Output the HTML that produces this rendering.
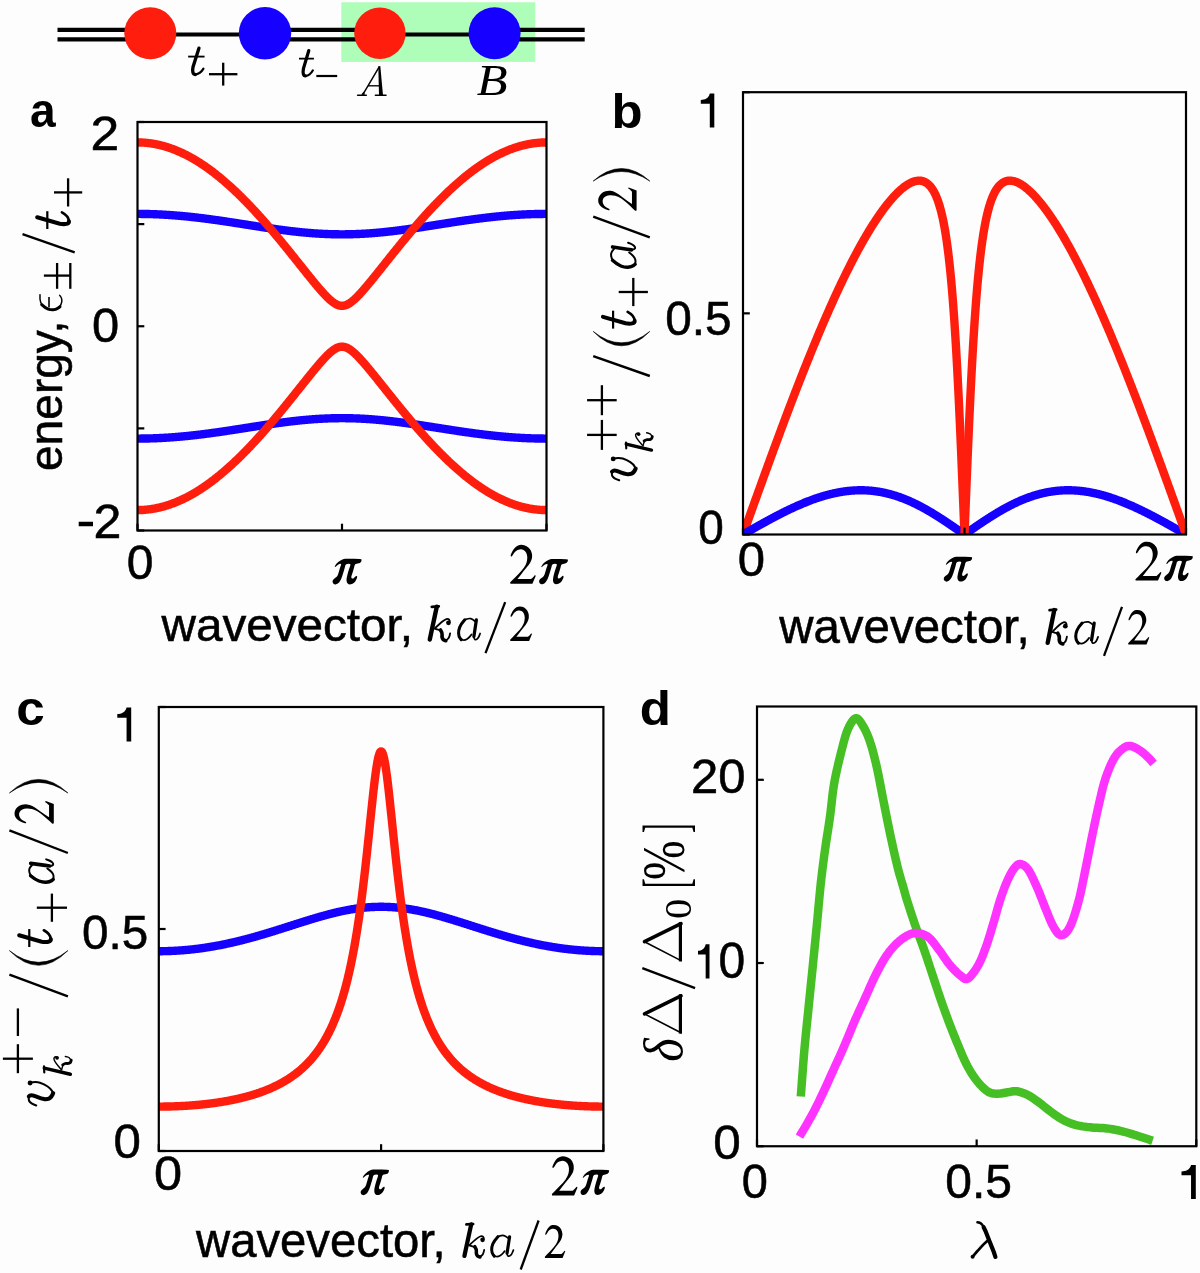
<!DOCTYPE html>
<html><head><meta charset="utf-8"><style>
html,body{margin:0;padding:0;background:#fdfdfd;}
svg{display:block;}
text{fill:#000;}
svg{will-change:transform;}
</style></head><body>
<svg width="1200" height="1273" viewBox="0 0 1200 1273">
<rect width="1200" height="1273" fill="#fdfdfd"/>
<defs>
<clipPath id="clipa"><rect x="137.5" y="122.0" width="409.0" height="408.5"/></clipPath>
<clipPath id="clipb"><rect x="743.0" y="92.2" width="443.0" height="442.3"/></clipPath>
<clipPath id="clipc"><rect x="158.8" y="707.0" width="444.59999999999997" height="444.0"/></clipPath>
<clipPath id="clipd"><rect x="757.0" y="706.5" width="439.29999999999995" height="439.75"/></clipPath>
</defs>
<path d="M137.50,213.91 L138.07,213.91 L138.64,213.91 L139.20,213.92 L139.77,213.92 L140.34,213.92 L140.91,213.93 L141.48,213.93 L142.04,213.94 L142.61,213.94 L143.18,213.95 L143.75,213.96 L144.32,213.96 L144.88,213.97 L145.45,213.98 L146.02,213.99 L146.59,214.00 L147.16,214.01 L147.72,214.03 L148.29,214.04 L148.86,214.05 L149.43,214.07 L150.00,214.08 L150.57,214.10 L151.13,214.12 L151.70,214.13 L152.27,214.15 L152.84,214.17 L153.41,214.19 L153.97,214.21 L154.54,214.23 L155.11,214.25 L155.68,214.27 L156.25,214.30 L156.81,214.32 L157.38,214.34 L157.95,214.37 L158.52,214.39 L159.09,214.42 L159.65,214.45 L160.22,214.47 L160.79,214.50 L161.36,214.53 L161.93,214.56 L162.49,214.59 L163.06,214.62 L163.63,214.65 L164.20,214.69 L164.77,214.72 L165.33,214.75 L165.90,214.79 L166.47,214.82 L167.04,214.86 L167.61,214.89 L168.18,214.93 L168.74,214.97 L169.31,215.00 L169.88,215.04 L170.45,215.08 L171.02,215.12 L171.58,215.16 L172.15,215.20 L172.72,215.25 L173.29,215.29 L173.86,215.33 L174.42,215.38 L174.99,215.42 L175.56,215.47 L176.13,215.51 L176.70,215.56 L177.26,215.60 L177.83,215.65 L178.40,215.70 L178.97,215.75 L179.54,215.80 L180.10,215.85 L180.67,215.90 L181.24,215.95 L181.81,216.00 L182.38,216.05 L182.94,216.11 L183.51,216.16 L184.08,216.21 L184.65,216.27 L185.22,216.32 L185.78,216.38 L186.35,216.43 L186.92,216.49 L187.49,216.55 L188.06,216.61 L188.62,216.67 L189.19,216.72 L189.76,216.78 L190.33,216.84 L190.90,216.90 L191.47,216.97 L192.03,217.03 L192.60,217.09 L193.17,217.15 L193.74,217.22 L194.31,217.28 L194.87,217.34 L195.44,217.41 L196.01,217.47 L196.58,217.54 L197.15,217.61 L197.71,217.67 L198.28,217.74 L198.85,217.81 L199.42,217.88 L199.99,217.94 L200.55,218.01 L201.12,218.08 L201.69,218.15 L202.26,218.22 L202.83,218.29 L203.39,218.37 L203.96,218.44 L204.53,218.51 L205.10,218.58 L205.67,218.65 L206.23,218.73 L206.80,218.80 L207.37,218.88 L207.94,218.95 L208.51,219.03 L209.07,219.10 L209.64,219.18 L210.21,219.25 L210.78,219.33 L211.35,219.41 L211.92,219.48 L212.48,219.56 L213.05,219.64 L213.62,219.72 L214.19,219.80 L214.76,219.88 L215.32,219.96 L215.89,220.04 L216.46,220.12 L217.03,220.20 L217.60,220.28 L218.16,220.36 L218.73,220.44 L219.30,220.52 L219.87,220.60 L220.44,220.69 L221.00,220.77 L221.57,220.85 L222.14,220.94 L222.71,221.02 L223.28,221.10 L223.84,221.19 L224.41,221.27 L224.98,221.35 L225.55,221.44 L226.12,221.52 L226.68,221.61 L227.25,221.69 L227.82,221.78 L228.39,221.87 L228.96,221.95 L229.53,222.04 L230.09,222.12 L230.66,222.21 L231.23,222.30 L231.80,222.38 L232.37,222.47 L232.93,222.56 L233.50,222.65 L234.07,222.73 L234.64,222.82 L235.21,222.91 L235.77,223.00 L236.34,223.09 L236.91,223.17 L237.48,223.26 L238.05,223.35 L238.61,223.44 L239.18,223.53 L239.75,223.62 L240.32,223.70 L240.89,223.79 L241.45,223.88 L242.02,223.97 L242.59,224.06 L243.16,224.15 L243.73,224.24 L244.29,224.33 L244.86,224.42 L245.43,224.51 L246.00,224.59 L246.57,224.68 L247.13,224.77 L247.70,224.86 L248.27,224.95 L248.84,225.04 L249.41,225.13 L249.98,225.22 L250.54,225.31 L251.11,225.40 L251.68,225.48 L252.25,225.57 L252.82,225.66 L253.38,225.75 L253.95,225.84 L254.52,225.93 L255.09,226.02 L255.66,226.10 L256.22,226.19 L256.79,226.28 L257.36,226.37 L257.93,226.46 L258.50,226.54 L259.06,226.63 L259.63,226.72 L260.20,226.81 L260.77,226.89 L261.34,226.98 L261.90,227.07 L262.47,227.15 L263.04,227.24 L263.61,227.32 L264.18,227.41 L264.74,227.50 L265.31,227.58 L265.88,227.67 L266.45,227.75 L267.02,227.84 L267.58,227.92 L268.15,228.00 L268.72,228.09 L269.29,228.17 L269.86,228.25 L270.43,228.34 L270.99,228.42 L271.56,228.50 L272.13,228.58 L272.70,228.67 L273.27,228.75 L273.83,228.83 L274.40,228.91 L274.97,228.99 L275.54,229.07 L276.11,229.15 L276.67,229.23 L277.24,229.31 L277.81,229.39 L278.38,229.46 L278.95,229.54 L279.51,229.62 L280.08,229.70 L280.65,229.77 L281.22,229.85 L281.79,229.93 L282.35,230.00 L282.92,230.08 L283.49,230.15 L284.06,230.22 L284.63,230.30 L285.19,230.37 L285.76,230.44 L286.33,230.51 L286.90,230.59 L287.47,230.66 L288.03,230.73 L288.60,230.80 L289.17,230.87 L289.74,230.94 L290.31,231.00 L290.88,231.07 L291.44,231.14 L292.01,231.21 L292.58,231.27 L293.15,231.34 L293.72,231.40 L294.28,231.47 L294.85,231.53 L295.42,231.60 L295.99,231.66 L296.56,231.72 L297.12,231.78 L297.69,231.84 L298.26,231.90 L298.83,231.96 L299.40,232.02 L299.96,232.08 L300.53,232.14 L301.10,232.20 L301.67,232.25 L302.24,232.31 L302.80,232.36 L303.37,232.42 L303.94,232.47 L304.51,232.52 L305.08,232.58 L305.64,232.63 L306.21,232.68 L306.78,232.73 L307.35,232.78 L307.92,232.83 L308.48,232.88 L309.05,232.93 L309.62,232.97 L310.19,233.02 L310.76,233.06 L311.32,233.11 L311.89,233.15 L312.46,233.20 L313.03,233.24 L313.60,233.28 L314.17,233.32 L314.73,233.36 L315.30,233.40 L315.87,233.44 L316.44,233.48 L317.01,233.51 L317.57,233.55 L318.14,233.59 L318.71,233.62 L319.28,233.66 L319.85,233.69 L320.41,233.72 L320.98,233.75 L321.55,233.78 L322.12,233.81 L322.69,233.84 L323.25,233.87 L323.82,233.90 L324.39,233.93 L324.96,233.95 L325.53,233.98 L326.09,234.00 L326.66,234.02 L327.23,234.05 L327.80,234.07 L328.37,234.09 L328.93,234.11 L329.50,234.13 L330.07,234.15 L330.64,234.17 L331.21,234.18 L331.77,234.20 L332.34,234.21 L332.91,234.23 L333.48,234.24 L334.05,234.25 L334.62,234.26 L335.18,234.28 L335.75,234.29 L336.32,234.29 L336.89,234.30 L337.46,234.31 L338.02,234.32 L338.59,234.32 L339.16,234.33 L339.73,234.33 L340.30,234.33 L340.86,234.34 L341.43,234.34 L342.00,234.34 L342.57,234.34 L343.14,234.34 L343.70,234.33 L344.27,234.33 L344.84,234.33 L345.41,234.32 L345.98,234.32 L346.54,234.31 L347.11,234.30 L347.68,234.29 L348.25,234.29 L348.82,234.28 L349.38,234.26 L349.95,234.25 L350.52,234.24 L351.09,234.23 L351.66,234.21 L352.23,234.20 L352.79,234.18 L353.36,234.17 L353.93,234.15 L354.50,234.13 L355.07,234.11 L355.63,234.09 L356.20,234.07 L356.77,234.05 L357.34,234.02 L357.91,234.00 L358.47,233.98 L359.04,233.95 L359.61,233.93 L360.18,233.90 L360.75,233.87 L361.31,233.84 L361.88,233.81 L362.45,233.78 L363.02,233.75 L363.59,233.72 L364.15,233.69 L364.72,233.66 L365.29,233.62 L365.86,233.59 L366.43,233.55 L366.99,233.51 L367.56,233.48 L368.13,233.44 L368.70,233.40 L369.27,233.36 L369.83,233.32 L370.40,233.28 L370.97,233.24 L371.54,233.20 L372.11,233.15 L372.67,233.11 L373.24,233.06 L373.81,233.02 L374.38,232.97 L374.95,232.93 L375.52,232.88 L376.08,232.83 L376.65,232.78 L377.22,232.73 L377.79,232.68 L378.36,232.63 L378.92,232.58 L379.49,232.52 L380.06,232.47 L380.63,232.42 L381.20,232.36 L381.76,232.31 L382.33,232.25 L382.90,232.20 L383.47,232.14 L384.04,232.08 L384.60,232.02 L385.17,231.96 L385.74,231.90 L386.31,231.84 L386.88,231.78 L387.44,231.72 L388.01,231.66 L388.58,231.60 L389.15,231.53 L389.72,231.47 L390.28,231.40 L390.85,231.34 L391.42,231.27 L391.99,231.21 L392.56,231.14 L393.12,231.07 L393.69,231.00 L394.26,230.94 L394.83,230.87 L395.40,230.80 L395.97,230.73 L396.53,230.66 L397.10,230.59 L397.67,230.51 L398.24,230.44 L398.81,230.37 L399.37,230.30 L399.94,230.22 L400.51,230.15 L401.08,230.08 L401.65,230.00 L402.21,229.93 L402.78,229.85 L403.35,229.77 L403.92,229.70 L404.49,229.62 L405.05,229.54 L405.62,229.46 L406.19,229.39 L406.76,229.31 L407.33,229.23 L407.89,229.15 L408.46,229.07 L409.03,228.99 L409.60,228.91 L410.17,228.83 L410.73,228.75 L411.30,228.67 L411.87,228.58 L412.44,228.50 L413.01,228.42 L413.58,228.34 L414.14,228.25 L414.71,228.17 L415.28,228.09 L415.85,228.00 L416.42,227.92 L416.98,227.84 L417.55,227.75 L418.12,227.67 L418.69,227.58 L419.26,227.50 L419.82,227.41 L420.39,227.32 L420.96,227.24 L421.53,227.15 L422.10,227.07 L422.66,226.98 L423.23,226.89 L423.80,226.81 L424.37,226.72 L424.94,226.63 L425.50,226.54 L426.07,226.46 L426.64,226.37 L427.21,226.28 L427.78,226.19 L428.34,226.10 L428.91,226.02 L429.48,225.93 L430.05,225.84 L430.62,225.75 L431.18,225.66 L431.75,225.57 L432.32,225.48 L432.89,225.40 L433.46,225.31 L434.02,225.22 L434.59,225.13 L435.16,225.04 L435.73,224.95 L436.30,224.86 L436.87,224.77 L437.43,224.68 L438.00,224.59 L438.57,224.51 L439.14,224.42 L439.71,224.33 L440.27,224.24 L440.84,224.15 L441.41,224.06 L441.98,223.97 L442.55,223.88 L443.11,223.79 L443.68,223.70 L444.25,223.62 L444.82,223.53 L445.39,223.44 L445.95,223.35 L446.52,223.26 L447.09,223.17 L447.66,223.09 L448.23,223.00 L448.79,222.91 L449.36,222.82 L449.93,222.73 L450.50,222.65 L451.07,222.56 L451.63,222.47 L452.20,222.38 L452.77,222.30 L453.34,222.21 L453.91,222.12 L454.48,222.04 L455.04,221.95 L455.61,221.87 L456.18,221.78 L456.75,221.69 L457.32,221.61 L457.88,221.52 L458.45,221.44 L459.02,221.35 L459.59,221.27 L460.16,221.19 L460.72,221.10 L461.29,221.02 L461.86,220.94 L462.43,220.85 L463.00,220.77 L463.56,220.69 L464.13,220.60 L464.70,220.52 L465.27,220.44 L465.84,220.36 L466.40,220.28 L466.97,220.20 L467.54,220.12 L468.11,220.04 L468.68,219.96 L469.24,219.88 L469.81,219.80 L470.38,219.72 L470.95,219.64 L471.52,219.56 L472.08,219.48 L472.65,219.41 L473.22,219.33 L473.79,219.25 L474.36,219.18 L474.92,219.10 L475.49,219.03 L476.06,218.95 L476.63,218.88 L477.20,218.80 L477.77,218.73 L478.33,218.65 L478.90,218.58 L479.47,218.51 L480.04,218.44 L480.61,218.37 L481.17,218.29 L481.74,218.22 L482.31,218.15 L482.88,218.08 L483.45,218.01 L484.01,217.94 L484.58,217.88 L485.15,217.81 L485.72,217.74 L486.29,217.67 L486.85,217.61 L487.42,217.54 L487.99,217.47 L488.56,217.41 L489.13,217.34 L489.69,217.28 L490.26,217.22 L490.83,217.15 L491.40,217.09 L491.97,217.03 L492.53,216.97 L493.10,216.90 L493.67,216.84 L494.24,216.78 L494.81,216.72 L495.38,216.67 L495.94,216.61 L496.51,216.55 L497.08,216.49 L497.65,216.43 L498.22,216.38 L498.78,216.32 L499.35,216.27 L499.92,216.21 L500.49,216.16 L501.06,216.11 L501.62,216.05 L502.19,216.00 L502.76,215.95 L503.33,215.90 L503.90,215.85 L504.46,215.80 L505.03,215.75 L505.60,215.70 L506.17,215.65 L506.74,215.60 L507.30,215.56 L507.87,215.51 L508.44,215.47 L509.01,215.42 L509.58,215.38 L510.14,215.33 L510.71,215.29 L511.28,215.25 L511.85,215.20 L512.42,215.16 L512.98,215.12 L513.55,215.08 L514.12,215.04 L514.69,215.00 L515.26,214.97 L515.83,214.93 L516.39,214.89 L516.96,214.86 L517.53,214.82 L518.10,214.79 L518.67,214.75 L519.23,214.72 L519.80,214.69 L520.37,214.65 L520.94,214.62 L521.51,214.59 L522.07,214.56 L522.64,214.53 L523.21,214.50 L523.78,214.47 L524.35,214.45 L524.91,214.42 L525.48,214.39 L526.05,214.37 L526.62,214.34 L527.19,214.32 L527.75,214.30 L528.32,214.27 L528.89,214.25 L529.46,214.23 L530.03,214.21 L530.59,214.19 L531.16,214.17 L531.73,214.15 L532.30,214.13 L532.87,214.12 L533.43,214.10 L534.00,214.08 L534.57,214.07 L535.14,214.05 L535.71,214.04 L536.27,214.03 L536.84,214.01 L537.41,214.00 L537.98,213.99 L538.55,213.98 L539.12,213.97 L539.68,213.96 L540.25,213.96 L540.82,213.95 L541.39,213.94 L541.96,213.94 L542.52,213.93 L543.09,213.93 L543.66,213.92 L544.23,213.92 L544.80,213.92 L545.36,213.91 L545.93,213.91 L546.50,213.91" fill="none" stroke="#1600ff" stroke-width="8.4" stroke-linejoin="round" stroke-linecap="butt" clip-path="url(#clipa)"/>
<path d="M137.50,438.59 L138.07,438.59 L138.64,438.59 L139.20,438.58 L139.77,438.58 L140.34,438.58 L140.91,438.57 L141.48,438.57 L142.04,438.56 L142.61,438.56 L143.18,438.55 L143.75,438.54 L144.32,438.54 L144.88,438.53 L145.45,438.52 L146.02,438.51 L146.59,438.50 L147.16,438.49 L147.72,438.47 L148.29,438.46 L148.86,438.45 L149.43,438.43 L150.00,438.42 L150.57,438.40 L151.13,438.38 L151.70,438.37 L152.27,438.35 L152.84,438.33 L153.41,438.31 L153.97,438.29 L154.54,438.27 L155.11,438.25 L155.68,438.23 L156.25,438.20 L156.81,438.18 L157.38,438.16 L157.95,438.13 L158.52,438.11 L159.09,438.08 L159.65,438.05 L160.22,438.03 L160.79,438.00 L161.36,437.97 L161.93,437.94 L162.49,437.91 L163.06,437.88 L163.63,437.85 L164.20,437.81 L164.77,437.78 L165.33,437.75 L165.90,437.71 L166.47,437.68 L167.04,437.64 L167.61,437.61 L168.18,437.57 L168.74,437.53 L169.31,437.50 L169.88,437.46 L170.45,437.42 L171.02,437.38 L171.58,437.34 L172.15,437.30 L172.72,437.25 L173.29,437.21 L173.86,437.17 L174.42,437.12 L174.99,437.08 L175.56,437.03 L176.13,436.99 L176.70,436.94 L177.26,436.90 L177.83,436.85 L178.40,436.80 L178.97,436.75 L179.54,436.70 L180.10,436.65 L180.67,436.60 L181.24,436.55 L181.81,436.50 L182.38,436.45 L182.94,436.39 L183.51,436.34 L184.08,436.29 L184.65,436.23 L185.22,436.18 L185.78,436.12 L186.35,436.07 L186.92,436.01 L187.49,435.95 L188.06,435.89 L188.62,435.83 L189.19,435.78 L189.76,435.72 L190.33,435.66 L190.90,435.60 L191.47,435.53 L192.03,435.47 L192.60,435.41 L193.17,435.35 L193.74,435.28 L194.31,435.22 L194.87,435.16 L195.44,435.09 L196.01,435.03 L196.58,434.96 L197.15,434.89 L197.71,434.83 L198.28,434.76 L198.85,434.69 L199.42,434.62 L199.99,434.56 L200.55,434.49 L201.12,434.42 L201.69,434.35 L202.26,434.28 L202.83,434.21 L203.39,434.13 L203.96,434.06 L204.53,433.99 L205.10,433.92 L205.67,433.85 L206.23,433.77 L206.80,433.70 L207.37,433.62 L207.94,433.55 L208.51,433.47 L209.07,433.40 L209.64,433.32 L210.21,433.25 L210.78,433.17 L211.35,433.09 L211.92,433.02 L212.48,432.94 L213.05,432.86 L213.62,432.78 L214.19,432.70 L214.76,432.62 L215.32,432.54 L215.89,432.46 L216.46,432.38 L217.03,432.30 L217.60,432.22 L218.16,432.14 L218.73,432.06 L219.30,431.98 L219.87,431.90 L220.44,431.81 L221.00,431.73 L221.57,431.65 L222.14,431.56 L222.71,431.48 L223.28,431.40 L223.84,431.31 L224.41,431.23 L224.98,431.15 L225.55,431.06 L226.12,430.98 L226.68,430.89 L227.25,430.81 L227.82,430.72 L228.39,430.63 L228.96,430.55 L229.53,430.46 L230.09,430.38 L230.66,430.29 L231.23,430.20 L231.80,430.12 L232.37,430.03 L232.93,429.94 L233.50,429.85 L234.07,429.77 L234.64,429.68 L235.21,429.59 L235.77,429.50 L236.34,429.41 L236.91,429.33 L237.48,429.24 L238.05,429.15 L238.61,429.06 L239.18,428.97 L239.75,428.88 L240.32,428.80 L240.89,428.71 L241.45,428.62 L242.02,428.53 L242.59,428.44 L243.16,428.35 L243.73,428.26 L244.29,428.17 L244.86,428.08 L245.43,427.99 L246.00,427.91 L246.57,427.82 L247.13,427.73 L247.70,427.64 L248.27,427.55 L248.84,427.46 L249.41,427.37 L249.98,427.28 L250.54,427.19 L251.11,427.10 L251.68,427.02 L252.25,426.93 L252.82,426.84 L253.38,426.75 L253.95,426.66 L254.52,426.57 L255.09,426.48 L255.66,426.40 L256.22,426.31 L256.79,426.22 L257.36,426.13 L257.93,426.04 L258.50,425.96 L259.06,425.87 L259.63,425.78 L260.20,425.69 L260.77,425.61 L261.34,425.52 L261.90,425.43 L262.47,425.35 L263.04,425.26 L263.61,425.18 L264.18,425.09 L264.74,425.00 L265.31,424.92 L265.88,424.83 L266.45,424.75 L267.02,424.66 L267.58,424.58 L268.15,424.50 L268.72,424.41 L269.29,424.33 L269.86,424.25 L270.43,424.16 L270.99,424.08 L271.56,424.00 L272.13,423.92 L272.70,423.83 L273.27,423.75 L273.83,423.67 L274.40,423.59 L274.97,423.51 L275.54,423.43 L276.11,423.35 L276.67,423.27 L277.24,423.19 L277.81,423.11 L278.38,423.04 L278.95,422.96 L279.51,422.88 L280.08,422.80 L280.65,422.73 L281.22,422.65 L281.79,422.57 L282.35,422.50 L282.92,422.42 L283.49,422.35 L284.06,422.28 L284.63,422.20 L285.19,422.13 L285.76,422.06 L286.33,421.99 L286.90,421.91 L287.47,421.84 L288.03,421.77 L288.60,421.70 L289.17,421.63 L289.74,421.56 L290.31,421.50 L290.88,421.43 L291.44,421.36 L292.01,421.29 L292.58,421.23 L293.15,421.16 L293.72,421.10 L294.28,421.03 L294.85,420.97 L295.42,420.90 L295.99,420.84 L296.56,420.78 L297.12,420.72 L297.69,420.66 L298.26,420.60 L298.83,420.54 L299.40,420.48 L299.96,420.42 L300.53,420.36 L301.10,420.30 L301.67,420.25 L302.24,420.19 L302.80,420.14 L303.37,420.08 L303.94,420.03 L304.51,419.98 L305.08,419.92 L305.64,419.87 L306.21,419.82 L306.78,419.77 L307.35,419.72 L307.92,419.67 L308.48,419.62 L309.05,419.57 L309.62,419.53 L310.19,419.48 L310.76,419.44 L311.32,419.39 L311.89,419.35 L312.46,419.30 L313.03,419.26 L313.60,419.22 L314.17,419.18 L314.73,419.14 L315.30,419.10 L315.87,419.06 L316.44,419.02 L317.01,418.99 L317.57,418.95 L318.14,418.91 L318.71,418.88 L319.28,418.84 L319.85,418.81 L320.41,418.78 L320.98,418.75 L321.55,418.72 L322.12,418.69 L322.69,418.66 L323.25,418.63 L323.82,418.60 L324.39,418.57 L324.96,418.55 L325.53,418.52 L326.09,418.50 L326.66,418.48 L327.23,418.45 L327.80,418.43 L328.37,418.41 L328.93,418.39 L329.50,418.37 L330.07,418.35 L330.64,418.33 L331.21,418.32 L331.77,418.30 L332.34,418.29 L332.91,418.27 L333.48,418.26 L334.05,418.25 L334.62,418.24 L335.18,418.22 L335.75,418.21 L336.32,418.21 L336.89,418.20 L337.46,418.19 L338.02,418.18 L338.59,418.18 L339.16,418.17 L339.73,418.17 L340.30,418.17 L340.86,418.16 L341.43,418.16 L342.00,418.16 L342.57,418.16 L343.14,418.16 L343.70,418.17 L344.27,418.17 L344.84,418.17 L345.41,418.18 L345.98,418.18 L346.54,418.19 L347.11,418.20 L347.68,418.21 L348.25,418.21 L348.82,418.22 L349.38,418.24 L349.95,418.25 L350.52,418.26 L351.09,418.27 L351.66,418.29 L352.23,418.30 L352.79,418.32 L353.36,418.33 L353.93,418.35 L354.50,418.37 L355.07,418.39 L355.63,418.41 L356.20,418.43 L356.77,418.45 L357.34,418.48 L357.91,418.50 L358.47,418.52 L359.04,418.55 L359.61,418.57 L360.18,418.60 L360.75,418.63 L361.31,418.66 L361.88,418.69 L362.45,418.72 L363.02,418.75 L363.59,418.78 L364.15,418.81 L364.72,418.84 L365.29,418.88 L365.86,418.91 L366.43,418.95 L366.99,418.99 L367.56,419.02 L368.13,419.06 L368.70,419.10 L369.27,419.14 L369.83,419.18 L370.40,419.22 L370.97,419.26 L371.54,419.30 L372.11,419.35 L372.67,419.39 L373.24,419.44 L373.81,419.48 L374.38,419.53 L374.95,419.57 L375.52,419.62 L376.08,419.67 L376.65,419.72 L377.22,419.77 L377.79,419.82 L378.36,419.87 L378.92,419.92 L379.49,419.98 L380.06,420.03 L380.63,420.08 L381.20,420.14 L381.76,420.19 L382.33,420.25 L382.90,420.30 L383.47,420.36 L384.04,420.42 L384.60,420.48 L385.17,420.54 L385.74,420.60 L386.31,420.66 L386.88,420.72 L387.44,420.78 L388.01,420.84 L388.58,420.90 L389.15,420.97 L389.72,421.03 L390.28,421.10 L390.85,421.16 L391.42,421.23 L391.99,421.29 L392.56,421.36 L393.12,421.43 L393.69,421.50 L394.26,421.56 L394.83,421.63 L395.40,421.70 L395.97,421.77 L396.53,421.84 L397.10,421.91 L397.67,421.99 L398.24,422.06 L398.81,422.13 L399.37,422.20 L399.94,422.28 L400.51,422.35 L401.08,422.42 L401.65,422.50 L402.21,422.57 L402.78,422.65 L403.35,422.73 L403.92,422.80 L404.49,422.88 L405.05,422.96 L405.62,423.04 L406.19,423.11 L406.76,423.19 L407.33,423.27 L407.89,423.35 L408.46,423.43 L409.03,423.51 L409.60,423.59 L410.17,423.67 L410.73,423.75 L411.30,423.83 L411.87,423.92 L412.44,424.00 L413.01,424.08 L413.58,424.16 L414.14,424.25 L414.71,424.33 L415.28,424.41 L415.85,424.50 L416.42,424.58 L416.98,424.66 L417.55,424.75 L418.12,424.83 L418.69,424.92 L419.26,425.00 L419.82,425.09 L420.39,425.18 L420.96,425.26 L421.53,425.35 L422.10,425.43 L422.66,425.52 L423.23,425.61 L423.80,425.69 L424.37,425.78 L424.94,425.87 L425.50,425.96 L426.07,426.04 L426.64,426.13 L427.21,426.22 L427.78,426.31 L428.34,426.40 L428.91,426.48 L429.48,426.57 L430.05,426.66 L430.62,426.75 L431.18,426.84 L431.75,426.93 L432.32,427.02 L432.89,427.10 L433.46,427.19 L434.02,427.28 L434.59,427.37 L435.16,427.46 L435.73,427.55 L436.30,427.64 L436.87,427.73 L437.43,427.82 L438.00,427.91 L438.57,427.99 L439.14,428.08 L439.71,428.17 L440.27,428.26 L440.84,428.35 L441.41,428.44 L441.98,428.53 L442.55,428.62 L443.11,428.71 L443.68,428.80 L444.25,428.88 L444.82,428.97 L445.39,429.06 L445.95,429.15 L446.52,429.24 L447.09,429.33 L447.66,429.41 L448.23,429.50 L448.79,429.59 L449.36,429.68 L449.93,429.77 L450.50,429.85 L451.07,429.94 L451.63,430.03 L452.20,430.12 L452.77,430.20 L453.34,430.29 L453.91,430.38 L454.48,430.46 L455.04,430.55 L455.61,430.63 L456.18,430.72 L456.75,430.81 L457.32,430.89 L457.88,430.98 L458.45,431.06 L459.02,431.15 L459.59,431.23 L460.16,431.31 L460.72,431.40 L461.29,431.48 L461.86,431.56 L462.43,431.65 L463.00,431.73 L463.56,431.81 L464.13,431.90 L464.70,431.98 L465.27,432.06 L465.84,432.14 L466.40,432.22 L466.97,432.30 L467.54,432.38 L468.11,432.46 L468.68,432.54 L469.24,432.62 L469.81,432.70 L470.38,432.78 L470.95,432.86 L471.52,432.94 L472.08,433.02 L472.65,433.09 L473.22,433.17 L473.79,433.25 L474.36,433.32 L474.92,433.40 L475.49,433.47 L476.06,433.55 L476.63,433.62 L477.20,433.70 L477.77,433.77 L478.33,433.85 L478.90,433.92 L479.47,433.99 L480.04,434.06 L480.61,434.13 L481.17,434.21 L481.74,434.28 L482.31,434.35 L482.88,434.42 L483.45,434.49 L484.01,434.56 L484.58,434.62 L485.15,434.69 L485.72,434.76 L486.29,434.83 L486.85,434.89 L487.42,434.96 L487.99,435.03 L488.56,435.09 L489.13,435.16 L489.69,435.22 L490.26,435.28 L490.83,435.35 L491.40,435.41 L491.97,435.47 L492.53,435.53 L493.10,435.60 L493.67,435.66 L494.24,435.72 L494.81,435.78 L495.38,435.83 L495.94,435.89 L496.51,435.95 L497.08,436.01 L497.65,436.07 L498.22,436.12 L498.78,436.18 L499.35,436.23 L499.92,436.29 L500.49,436.34 L501.06,436.39 L501.62,436.45 L502.19,436.50 L502.76,436.55 L503.33,436.60 L503.90,436.65 L504.46,436.70 L505.03,436.75 L505.60,436.80 L506.17,436.85 L506.74,436.90 L507.30,436.94 L507.87,436.99 L508.44,437.03 L509.01,437.08 L509.58,437.12 L510.14,437.17 L510.71,437.21 L511.28,437.25 L511.85,437.30 L512.42,437.34 L512.98,437.38 L513.55,437.42 L514.12,437.46 L514.69,437.50 L515.26,437.53 L515.83,437.57 L516.39,437.61 L516.96,437.64 L517.53,437.68 L518.10,437.71 L518.67,437.75 L519.23,437.78 L519.80,437.81 L520.37,437.85 L520.94,437.88 L521.51,437.91 L522.07,437.94 L522.64,437.97 L523.21,438.00 L523.78,438.03 L524.35,438.05 L524.91,438.08 L525.48,438.11 L526.05,438.13 L526.62,438.16 L527.19,438.18 L527.75,438.20 L528.32,438.23 L528.89,438.25 L529.46,438.27 L530.03,438.29 L530.59,438.31 L531.16,438.33 L531.73,438.35 L532.30,438.37 L532.87,438.38 L533.43,438.40 L534.00,438.42 L534.57,438.43 L535.14,438.45 L535.71,438.46 L536.27,438.47 L536.84,438.49 L537.41,438.50 L537.98,438.51 L538.55,438.52 L539.12,438.53 L539.68,438.54 L540.25,438.54 L540.82,438.55 L541.39,438.56 L541.96,438.56 L542.52,438.57 L543.09,438.57 L543.66,438.58 L544.23,438.58 L544.80,438.58 L545.36,438.59 L545.93,438.59 L546.50,438.59" fill="none" stroke="#1600ff" stroke-width="8.4" stroke-linejoin="round" stroke-linecap="butt" clip-path="url(#clipa)"/>
<path d="M137.50,142.43 L138.07,142.43 L138.64,142.43 L139.20,142.44 L139.77,142.45 L140.34,142.47 L140.91,142.49 L141.48,142.51 L142.04,142.54 L142.61,142.56 L143.18,142.60 L143.75,142.63 L144.32,142.67 L144.88,142.72 L145.45,142.76 L146.02,142.81 L146.59,142.87 L147.16,142.92 L147.72,142.98 L148.29,143.05 L148.86,143.12 L149.43,143.19 L150.00,143.26 L150.57,143.34 L151.13,143.42 L151.70,143.50 L152.27,143.59 L152.84,143.68 L153.41,143.78 L153.97,143.88 L154.54,143.98 L155.11,144.08 L155.68,144.19 L156.25,144.30 L156.81,144.42 L157.38,144.54 L157.95,144.66 L158.52,144.79 L159.09,144.91 L159.65,145.05 L160.22,145.18 L160.79,145.32 L161.36,145.46 L161.93,145.61 L162.49,145.76 L163.06,145.91 L163.63,146.07 L164.20,146.23 L164.77,146.39 L165.33,146.56 L165.90,146.73 L166.47,146.90 L167.04,147.08 L167.61,147.26 L168.18,147.44 L168.74,147.63 L169.31,147.82 L169.88,148.01 L170.45,148.21 L171.02,148.41 L171.58,148.61 L172.15,148.82 L172.72,149.03 L173.29,149.24 L173.86,149.46 L174.42,149.68 L174.99,149.90 L175.56,150.13 L176.13,150.36 L176.70,150.59 L177.26,150.83 L177.83,151.07 L178.40,151.31 L178.97,151.55 L179.54,151.80 L180.10,152.06 L180.67,152.31 L181.24,152.57 L181.81,152.83 L182.38,153.10 L182.94,153.37 L183.51,153.64 L184.08,153.92 L184.65,154.20 L185.22,154.48 L185.78,154.76 L186.35,155.05 L186.92,155.34 L187.49,155.64 L188.06,155.94 L188.62,156.24 L189.19,156.54 L189.76,156.85 L190.33,157.16 L190.90,157.47 L191.47,157.79 L192.03,158.11 L192.60,158.44 L193.17,158.76 L193.74,159.09 L194.31,159.42 L194.87,159.76 L195.44,160.10 L196.01,160.44 L196.58,160.79 L197.15,161.14 L197.71,161.49 L198.28,161.84 L198.85,162.20 L199.42,162.56 L199.99,162.92 L200.55,163.29 L201.12,163.66 L201.69,164.03 L202.26,164.41 L202.83,164.79 L203.39,165.17 L203.96,165.55 L204.53,165.94 L205.10,166.33 L205.67,166.73 L206.23,167.12 L206.80,167.52 L207.37,167.92 L207.94,168.33 L208.51,168.74 L209.07,169.15 L209.64,169.56 L210.21,169.98 L210.78,170.40 L211.35,170.83 L211.92,171.25 L212.48,171.68 L213.05,172.11 L213.62,172.55 L214.19,172.98 L214.76,173.42 L215.32,173.87 L215.89,174.31 L216.46,174.76 L217.03,175.21 L217.60,175.67 L218.16,176.13 L218.73,176.59 L219.30,177.05 L219.87,177.51 L220.44,177.98 L221.00,178.45 L221.57,178.93 L222.14,179.40 L222.71,179.88 L223.28,180.36 L223.84,180.85 L224.41,181.34 L224.98,181.83 L225.55,182.32 L226.12,182.81 L226.68,183.31 L227.25,183.81 L227.82,184.32 L228.39,184.82 L228.96,185.33 L229.53,185.84 L230.09,186.35 L230.66,186.87 L231.23,187.39 L231.80,187.91 L232.37,188.43 L232.93,188.96 L233.50,189.49 L234.07,190.02 L234.64,190.55 L235.21,191.09 L235.77,191.63 L236.34,192.17 L236.91,192.71 L237.48,193.26 L238.05,193.81 L238.61,194.36 L239.18,194.91 L239.75,195.47 L240.32,196.02 L240.89,196.58 L241.45,197.15 L242.02,197.71 L242.59,198.28 L243.16,198.85 L243.73,199.42 L244.29,199.99 L244.86,200.57 L245.43,201.15 L246.00,201.73 L246.57,202.31 L247.13,202.90 L247.70,203.49 L248.27,204.08 L248.84,204.67 L249.41,205.26 L249.98,205.86 L250.54,206.46 L251.11,207.06 L251.68,207.66 L252.25,208.27 L252.82,208.87 L253.38,209.48 L253.95,210.09 L254.52,210.71 L255.09,211.32 L255.66,211.94 L256.22,212.56 L256.79,213.18 L257.36,213.80 L257.93,214.43 L258.50,215.05 L259.06,215.68 L259.63,216.31 L260.20,216.94 L260.77,217.58 L261.34,218.21 L261.90,218.85 L262.47,219.49 L263.04,220.13 L263.61,220.78 L264.18,221.42 L264.74,222.07 L265.31,222.72 L265.88,223.37 L266.45,224.02 L267.02,224.68 L267.58,225.33 L268.15,225.99 L268.72,226.65 L269.29,227.31 L269.86,227.97 L270.43,228.64 L270.99,229.30 L271.56,229.97 L272.13,230.64 L272.70,231.31 L273.27,231.98 L273.83,232.65 L274.40,233.33 L274.97,234.00 L275.54,234.68 L276.11,235.36 L276.67,236.04 L277.24,236.72 L277.81,237.40 L278.38,238.09 L278.95,238.77 L279.51,239.46 L280.08,240.14 L280.65,240.83 L281.22,241.52 L281.79,242.22 L282.35,242.91 L282.92,243.60 L283.49,244.30 L284.06,244.99 L284.63,245.69 L285.19,246.39 L285.76,247.09 L286.33,247.79 L286.90,248.49 L287.47,249.19 L288.03,249.89 L288.60,250.59 L289.17,251.30 L289.74,252.00 L290.31,252.71 L290.88,253.42 L291.44,254.12 L292.01,254.83 L292.58,255.54 L293.15,256.25 L293.72,256.96 L294.28,257.67 L294.85,258.38 L295.42,259.09 L295.99,259.80 L296.56,260.51 L297.12,261.23 L297.69,261.94 L298.26,262.65 L298.83,263.36 L299.40,264.08 L299.96,264.79 L300.53,265.50 L301.10,266.22 L301.67,266.93 L302.24,267.64 L302.80,268.35 L303.37,269.07 L303.94,269.78 L304.51,270.49 L305.08,271.20 L305.64,271.91 L306.21,272.62 L306.78,273.33 L307.35,274.04 L307.92,274.74 L308.48,275.45 L309.05,276.16 L309.62,276.86 L310.19,277.56 L310.76,278.26 L311.32,278.96 L311.89,279.66 L312.46,280.36 L313.03,281.05 L313.60,281.75 L314.17,282.44 L314.73,283.12 L315.30,283.81 L315.87,284.49 L316.44,285.17 L317.01,285.85 L317.57,286.52 L318.14,287.19 L318.71,287.86 L319.28,288.52 L319.85,289.18 L320.41,289.83 L320.98,290.48 L321.55,291.12 L322.12,291.76 L322.69,292.39 L323.25,293.02 L323.82,293.64 L324.39,294.25 L324.96,294.85 L325.53,295.45 L326.09,296.04 L326.66,296.61 L327.23,297.18 L327.80,297.74 L328.37,298.29 L328.93,298.82 L329.50,299.35 L330.07,299.86 L330.64,300.35 L331.21,300.83 L331.77,301.30 L332.34,301.75 L332.91,302.18 L333.48,302.59 L334.05,302.98 L334.62,303.35 L335.18,303.70 L335.75,304.02 L336.32,304.33 L336.89,304.60 L337.46,304.85 L338.02,305.08 L338.59,305.27 L339.16,305.44 L339.73,305.58 L340.30,305.69 L340.86,305.76 L341.43,305.81 L342.00,305.82 L342.57,305.81 L343.14,305.76 L343.70,305.69 L344.27,305.58 L344.84,305.44 L345.41,305.27 L345.98,305.08 L346.54,304.85 L347.11,304.60 L347.68,304.33 L348.25,304.02 L348.82,303.70 L349.38,303.35 L349.95,302.98 L350.52,302.59 L351.09,302.18 L351.66,301.75 L352.23,301.30 L352.79,300.83 L353.36,300.35 L353.93,299.86 L354.50,299.35 L355.07,298.82 L355.63,298.29 L356.20,297.74 L356.77,297.18 L357.34,296.61 L357.91,296.04 L358.47,295.45 L359.04,294.85 L359.61,294.25 L360.18,293.64 L360.75,293.02 L361.31,292.39 L361.88,291.76 L362.45,291.12 L363.02,290.48 L363.59,289.83 L364.15,289.18 L364.72,288.52 L365.29,287.86 L365.86,287.19 L366.43,286.52 L366.99,285.85 L367.56,285.17 L368.13,284.49 L368.70,283.81 L369.27,283.12 L369.83,282.44 L370.40,281.75 L370.97,281.05 L371.54,280.36 L372.11,279.66 L372.67,278.96 L373.24,278.26 L373.81,277.56 L374.38,276.86 L374.95,276.16 L375.52,275.45 L376.08,274.74 L376.65,274.04 L377.22,273.33 L377.79,272.62 L378.36,271.91 L378.92,271.20 L379.49,270.49 L380.06,269.78 L380.63,269.07 L381.20,268.35 L381.76,267.64 L382.33,266.93 L382.90,266.22 L383.47,265.50 L384.04,264.79 L384.60,264.08 L385.17,263.36 L385.74,262.65 L386.31,261.94 L386.88,261.23 L387.44,260.51 L388.01,259.80 L388.58,259.09 L389.15,258.38 L389.72,257.67 L390.28,256.96 L390.85,256.25 L391.42,255.54 L391.99,254.83 L392.56,254.12 L393.12,253.42 L393.69,252.71 L394.26,252.00 L394.83,251.30 L395.40,250.59 L395.97,249.89 L396.53,249.19 L397.10,248.49 L397.67,247.79 L398.24,247.09 L398.81,246.39 L399.37,245.69 L399.94,244.99 L400.51,244.30 L401.08,243.60 L401.65,242.91 L402.21,242.22 L402.78,241.52 L403.35,240.83 L403.92,240.14 L404.49,239.46 L405.05,238.77 L405.62,238.09 L406.19,237.40 L406.76,236.72 L407.33,236.04 L407.89,235.36 L408.46,234.68 L409.03,234.00 L409.60,233.33 L410.17,232.65 L410.73,231.98 L411.30,231.31 L411.87,230.64 L412.44,229.97 L413.01,229.30 L413.58,228.64 L414.14,227.97 L414.71,227.31 L415.28,226.65 L415.85,225.99 L416.42,225.33 L416.98,224.68 L417.55,224.02 L418.12,223.37 L418.69,222.72 L419.26,222.07 L419.82,221.42 L420.39,220.78 L420.96,220.13 L421.53,219.49 L422.10,218.85 L422.66,218.21 L423.23,217.58 L423.80,216.94 L424.37,216.31 L424.94,215.68 L425.50,215.05 L426.07,214.43 L426.64,213.80 L427.21,213.18 L427.78,212.56 L428.34,211.94 L428.91,211.32 L429.48,210.71 L430.05,210.09 L430.62,209.48 L431.18,208.87 L431.75,208.27 L432.32,207.66 L432.89,207.06 L433.46,206.46 L434.02,205.86 L434.59,205.26 L435.16,204.67 L435.73,204.08 L436.30,203.49 L436.87,202.90 L437.43,202.31 L438.00,201.73 L438.57,201.15 L439.14,200.57 L439.71,199.99 L440.27,199.42 L440.84,198.85 L441.41,198.28 L441.98,197.71 L442.55,197.15 L443.11,196.58 L443.68,196.02 L444.25,195.47 L444.82,194.91 L445.39,194.36 L445.95,193.81 L446.52,193.26 L447.09,192.71 L447.66,192.17 L448.23,191.63 L448.79,191.09 L449.36,190.55 L449.93,190.02 L450.50,189.49 L451.07,188.96 L451.63,188.43 L452.20,187.91 L452.77,187.39 L453.34,186.87 L453.91,186.35 L454.48,185.84 L455.04,185.33 L455.61,184.82 L456.18,184.32 L456.75,183.81 L457.32,183.31 L457.88,182.81 L458.45,182.32 L459.02,181.83 L459.59,181.34 L460.16,180.85 L460.72,180.36 L461.29,179.88 L461.86,179.40 L462.43,178.93 L463.00,178.45 L463.56,177.98 L464.13,177.51 L464.70,177.05 L465.27,176.59 L465.84,176.13 L466.40,175.67 L466.97,175.21 L467.54,174.76 L468.11,174.31 L468.68,173.87 L469.24,173.42 L469.81,172.98 L470.38,172.55 L470.95,172.11 L471.52,171.68 L472.08,171.25 L472.65,170.83 L473.22,170.40 L473.79,169.98 L474.36,169.56 L474.92,169.15 L475.49,168.74 L476.06,168.33 L476.63,167.92 L477.20,167.52 L477.77,167.12 L478.33,166.73 L478.90,166.33 L479.47,165.94 L480.04,165.55 L480.61,165.17 L481.17,164.79 L481.74,164.41 L482.31,164.03 L482.88,163.66 L483.45,163.29 L484.01,162.92 L484.58,162.56 L485.15,162.20 L485.72,161.84 L486.29,161.49 L486.85,161.14 L487.42,160.79 L487.99,160.44 L488.56,160.10 L489.13,159.76 L489.69,159.42 L490.26,159.09 L490.83,158.76 L491.40,158.44 L491.97,158.11 L492.53,157.79 L493.10,157.47 L493.67,157.16 L494.24,156.85 L494.81,156.54 L495.38,156.24 L495.94,155.94 L496.51,155.64 L497.08,155.34 L497.65,155.05 L498.22,154.76 L498.78,154.48 L499.35,154.20 L499.92,153.92 L500.49,153.64 L501.06,153.37 L501.62,153.10 L502.19,152.83 L502.76,152.57 L503.33,152.31 L503.90,152.06 L504.46,151.80 L505.03,151.55 L505.60,151.31 L506.17,151.07 L506.74,150.83 L507.30,150.59 L507.87,150.36 L508.44,150.13 L509.01,149.90 L509.58,149.68 L510.14,149.46 L510.71,149.24 L511.28,149.03 L511.85,148.82 L512.42,148.61 L512.98,148.41 L513.55,148.21 L514.12,148.01 L514.69,147.82 L515.26,147.63 L515.83,147.44 L516.39,147.26 L516.96,147.08 L517.53,146.90 L518.10,146.73 L518.67,146.56 L519.23,146.39 L519.80,146.23 L520.37,146.07 L520.94,145.91 L521.51,145.76 L522.07,145.61 L522.64,145.46 L523.21,145.32 L523.78,145.18 L524.35,145.05 L524.91,144.91 L525.48,144.79 L526.05,144.66 L526.62,144.54 L527.19,144.42 L527.75,144.30 L528.32,144.19 L528.89,144.08 L529.46,143.98 L530.03,143.88 L530.59,143.78 L531.16,143.68 L531.73,143.59 L532.30,143.50 L532.87,143.42 L533.43,143.34 L534.00,143.26 L534.57,143.19 L535.14,143.12 L535.71,143.05 L536.27,142.98 L536.84,142.92 L537.41,142.87 L537.98,142.81 L538.55,142.76 L539.12,142.72 L539.68,142.67 L540.25,142.63 L540.82,142.60 L541.39,142.56 L541.96,142.54 L542.52,142.51 L543.09,142.49 L543.66,142.47 L544.23,142.45 L544.80,142.44 L545.36,142.43 L545.93,142.43 L546.50,142.43" fill="none" stroke="#ff1e0e" stroke-width="8.4" stroke-linejoin="round" stroke-linecap="butt" clip-path="url(#clipa)"/>
<path d="M137.50,510.07 L138.07,510.07 L138.64,510.07 L139.20,510.06 L139.77,510.05 L140.34,510.03 L140.91,510.01 L141.48,509.99 L142.04,509.96 L142.61,509.94 L143.18,509.90 L143.75,509.87 L144.32,509.83 L144.88,509.78 L145.45,509.74 L146.02,509.69 L146.59,509.63 L147.16,509.58 L147.72,509.52 L148.29,509.45 L148.86,509.38 L149.43,509.31 L150.00,509.24 L150.57,509.16 L151.13,509.08 L151.70,509.00 L152.27,508.91 L152.84,508.82 L153.41,508.72 L153.97,508.62 L154.54,508.52 L155.11,508.42 L155.68,508.31 L156.25,508.20 L156.81,508.08 L157.38,507.96 L157.95,507.84 L158.52,507.71 L159.09,507.59 L159.65,507.45 L160.22,507.32 L160.79,507.18 L161.36,507.04 L161.93,506.89 L162.49,506.74 L163.06,506.59 L163.63,506.43 L164.20,506.27 L164.77,506.11 L165.33,505.94 L165.90,505.77 L166.47,505.60 L167.04,505.42 L167.61,505.24 L168.18,505.06 L168.74,504.87 L169.31,504.68 L169.88,504.49 L170.45,504.29 L171.02,504.09 L171.58,503.89 L172.15,503.68 L172.72,503.47 L173.29,503.26 L173.86,503.04 L174.42,502.82 L174.99,502.60 L175.56,502.37 L176.13,502.14 L176.70,501.91 L177.26,501.67 L177.83,501.43 L178.40,501.19 L178.97,500.95 L179.54,500.70 L180.10,500.44 L180.67,500.19 L181.24,499.93 L181.81,499.67 L182.38,499.40 L182.94,499.13 L183.51,498.86 L184.08,498.58 L184.65,498.30 L185.22,498.02 L185.78,497.74 L186.35,497.45 L186.92,497.16 L187.49,496.86 L188.06,496.56 L188.62,496.26 L189.19,495.96 L189.76,495.65 L190.33,495.34 L190.90,495.03 L191.47,494.71 L192.03,494.39 L192.60,494.06 L193.17,493.74 L193.74,493.41 L194.31,493.08 L194.87,492.74 L195.44,492.40 L196.01,492.06 L196.58,491.71 L197.15,491.36 L197.71,491.01 L198.28,490.66 L198.85,490.30 L199.42,489.94 L199.99,489.58 L200.55,489.21 L201.12,488.84 L201.69,488.47 L202.26,488.09 L202.83,487.71 L203.39,487.33 L203.96,486.95 L204.53,486.56 L205.10,486.17 L205.67,485.77 L206.23,485.38 L206.80,484.98 L207.37,484.58 L207.94,484.17 L208.51,483.76 L209.07,483.35 L209.64,482.94 L210.21,482.52 L210.78,482.10 L211.35,481.67 L211.92,481.25 L212.48,480.82 L213.05,480.39 L213.62,479.95 L214.19,479.52 L214.76,479.08 L215.32,478.63 L215.89,478.19 L216.46,477.74 L217.03,477.29 L217.60,476.83 L218.16,476.37 L218.73,475.91 L219.30,475.45 L219.87,474.99 L220.44,474.52 L221.00,474.05 L221.57,473.57 L222.14,473.10 L222.71,472.62 L223.28,472.14 L223.84,471.65 L224.41,471.16 L224.98,470.67 L225.55,470.18 L226.12,469.69 L226.68,469.19 L227.25,468.69 L227.82,468.18 L228.39,467.68 L228.96,467.17 L229.53,466.66 L230.09,466.15 L230.66,465.63 L231.23,465.11 L231.80,464.59 L232.37,464.07 L232.93,463.54 L233.50,463.01 L234.07,462.48 L234.64,461.95 L235.21,461.41 L235.77,460.87 L236.34,460.33 L236.91,459.79 L237.48,459.24 L238.05,458.69 L238.61,458.14 L239.18,457.59 L239.75,457.03 L240.32,456.48 L240.89,455.92 L241.45,455.35 L242.02,454.79 L242.59,454.22 L243.16,453.65 L243.73,453.08 L244.29,452.51 L244.86,451.93 L245.43,451.35 L246.00,450.77 L246.57,450.19 L247.13,449.60 L247.70,449.01 L248.27,448.42 L248.84,447.83 L249.41,447.24 L249.98,446.64 L250.54,446.04 L251.11,445.44 L251.68,444.84 L252.25,444.23 L252.82,443.63 L253.38,443.02 L253.95,442.41 L254.52,441.79 L255.09,441.18 L255.66,440.56 L256.22,439.94 L256.79,439.32 L257.36,438.70 L257.93,438.07 L258.50,437.45 L259.06,436.82 L259.63,436.19 L260.20,435.56 L260.77,434.92 L261.34,434.29 L261.90,433.65 L262.47,433.01 L263.04,432.37 L263.61,431.72 L264.18,431.08 L264.74,430.43 L265.31,429.78 L265.88,429.13 L266.45,428.48 L267.02,427.82 L267.58,427.17 L268.15,426.51 L268.72,425.85 L269.29,425.19 L269.86,424.53 L270.43,423.86 L270.99,423.20 L271.56,422.53 L272.13,421.86 L272.70,421.19 L273.27,420.52 L273.83,419.85 L274.40,419.17 L274.97,418.50 L275.54,417.82 L276.11,417.14 L276.67,416.46 L277.24,415.78 L277.81,415.10 L278.38,414.41 L278.95,413.73 L279.51,413.04 L280.08,412.36 L280.65,411.67 L281.22,410.98 L281.79,410.28 L282.35,409.59 L282.92,408.90 L283.49,408.20 L284.06,407.51 L284.63,406.81 L285.19,406.11 L285.76,405.41 L286.33,404.71 L286.90,404.01 L287.47,403.31 L288.03,402.61 L288.60,401.91 L289.17,401.20 L289.74,400.50 L290.31,399.79 L290.88,399.08 L291.44,398.38 L292.01,397.67 L292.58,396.96 L293.15,396.25 L293.72,395.54 L294.28,394.83 L294.85,394.12 L295.42,393.41 L295.99,392.70 L296.56,391.99 L297.12,391.27 L297.69,390.56 L298.26,389.85 L298.83,389.14 L299.40,388.42 L299.96,387.71 L300.53,387.00 L301.10,386.28 L301.67,385.57 L302.24,384.86 L302.80,384.15 L303.37,383.43 L303.94,382.72 L304.51,382.01 L305.08,381.30 L305.64,380.59 L306.21,379.88 L306.78,379.17 L307.35,378.46 L307.92,377.76 L308.48,377.05 L309.05,376.34 L309.62,375.64 L310.19,374.94 L310.76,374.24 L311.32,373.54 L311.89,372.84 L312.46,372.14 L313.03,371.45 L313.60,370.75 L314.17,370.06 L314.73,369.38 L315.30,368.69 L315.87,368.01 L316.44,367.33 L317.01,366.65 L317.57,365.98 L318.14,365.31 L318.71,364.64 L319.28,363.98 L319.85,363.32 L320.41,362.67 L320.98,362.02 L321.55,361.38 L322.12,360.74 L322.69,360.11 L323.25,359.48 L323.82,358.86 L324.39,358.25 L324.96,357.65 L325.53,357.05 L326.09,356.46 L326.66,355.89 L327.23,355.32 L327.80,354.76 L328.37,354.21 L328.93,353.68 L329.50,353.15 L330.07,352.64 L330.64,352.15 L331.21,351.67 L331.77,351.20 L332.34,350.75 L332.91,350.32 L333.48,349.91 L334.05,349.52 L334.62,349.15 L335.18,348.80 L335.75,348.48 L336.32,348.17 L336.89,347.90 L337.46,347.65 L338.02,347.42 L338.59,347.23 L339.16,347.06 L339.73,346.92 L340.30,346.81 L340.86,346.74 L341.43,346.69 L342.00,346.68 L342.57,346.69 L343.14,346.74 L343.70,346.81 L344.27,346.92 L344.84,347.06 L345.41,347.23 L345.98,347.42 L346.54,347.65 L347.11,347.90 L347.68,348.17 L348.25,348.48 L348.82,348.80 L349.38,349.15 L349.95,349.52 L350.52,349.91 L351.09,350.32 L351.66,350.75 L352.23,351.20 L352.79,351.67 L353.36,352.15 L353.93,352.64 L354.50,353.15 L355.07,353.68 L355.63,354.21 L356.20,354.76 L356.77,355.32 L357.34,355.89 L357.91,356.46 L358.47,357.05 L359.04,357.65 L359.61,358.25 L360.18,358.86 L360.75,359.48 L361.31,360.11 L361.88,360.74 L362.45,361.38 L363.02,362.02 L363.59,362.67 L364.15,363.32 L364.72,363.98 L365.29,364.64 L365.86,365.31 L366.43,365.98 L366.99,366.65 L367.56,367.33 L368.13,368.01 L368.70,368.69 L369.27,369.38 L369.83,370.06 L370.40,370.75 L370.97,371.45 L371.54,372.14 L372.11,372.84 L372.67,373.54 L373.24,374.24 L373.81,374.94 L374.38,375.64 L374.95,376.34 L375.52,377.05 L376.08,377.76 L376.65,378.46 L377.22,379.17 L377.79,379.88 L378.36,380.59 L378.92,381.30 L379.49,382.01 L380.06,382.72 L380.63,383.43 L381.20,384.15 L381.76,384.86 L382.33,385.57 L382.90,386.28 L383.47,387.00 L384.04,387.71 L384.60,388.42 L385.17,389.14 L385.74,389.85 L386.31,390.56 L386.88,391.27 L387.44,391.99 L388.01,392.70 L388.58,393.41 L389.15,394.12 L389.72,394.83 L390.28,395.54 L390.85,396.25 L391.42,396.96 L391.99,397.67 L392.56,398.38 L393.12,399.08 L393.69,399.79 L394.26,400.50 L394.83,401.20 L395.40,401.91 L395.97,402.61 L396.53,403.31 L397.10,404.01 L397.67,404.71 L398.24,405.41 L398.81,406.11 L399.37,406.81 L399.94,407.51 L400.51,408.20 L401.08,408.90 L401.65,409.59 L402.21,410.28 L402.78,410.98 L403.35,411.67 L403.92,412.36 L404.49,413.04 L405.05,413.73 L405.62,414.41 L406.19,415.10 L406.76,415.78 L407.33,416.46 L407.89,417.14 L408.46,417.82 L409.03,418.50 L409.60,419.17 L410.17,419.85 L410.73,420.52 L411.30,421.19 L411.87,421.86 L412.44,422.53 L413.01,423.20 L413.58,423.86 L414.14,424.53 L414.71,425.19 L415.28,425.85 L415.85,426.51 L416.42,427.17 L416.98,427.82 L417.55,428.48 L418.12,429.13 L418.69,429.78 L419.26,430.43 L419.82,431.08 L420.39,431.72 L420.96,432.37 L421.53,433.01 L422.10,433.65 L422.66,434.29 L423.23,434.92 L423.80,435.56 L424.37,436.19 L424.94,436.82 L425.50,437.45 L426.07,438.07 L426.64,438.70 L427.21,439.32 L427.78,439.94 L428.34,440.56 L428.91,441.18 L429.48,441.79 L430.05,442.41 L430.62,443.02 L431.18,443.63 L431.75,444.23 L432.32,444.84 L432.89,445.44 L433.46,446.04 L434.02,446.64 L434.59,447.24 L435.16,447.83 L435.73,448.42 L436.30,449.01 L436.87,449.60 L437.43,450.19 L438.00,450.77 L438.57,451.35 L439.14,451.93 L439.71,452.51 L440.27,453.08 L440.84,453.65 L441.41,454.22 L441.98,454.79 L442.55,455.35 L443.11,455.92 L443.68,456.48 L444.25,457.03 L444.82,457.59 L445.39,458.14 L445.95,458.69 L446.52,459.24 L447.09,459.79 L447.66,460.33 L448.23,460.87 L448.79,461.41 L449.36,461.95 L449.93,462.48 L450.50,463.01 L451.07,463.54 L451.63,464.07 L452.20,464.59 L452.77,465.11 L453.34,465.63 L453.91,466.15 L454.48,466.66 L455.04,467.17 L455.61,467.68 L456.18,468.18 L456.75,468.69 L457.32,469.19 L457.88,469.69 L458.45,470.18 L459.02,470.67 L459.59,471.16 L460.16,471.65 L460.72,472.14 L461.29,472.62 L461.86,473.10 L462.43,473.57 L463.00,474.05 L463.56,474.52 L464.13,474.99 L464.70,475.45 L465.27,475.91 L465.84,476.37 L466.40,476.83 L466.97,477.29 L467.54,477.74 L468.11,478.19 L468.68,478.63 L469.24,479.08 L469.81,479.52 L470.38,479.95 L470.95,480.39 L471.52,480.82 L472.08,481.25 L472.65,481.67 L473.22,482.10 L473.79,482.52 L474.36,482.94 L474.92,483.35 L475.49,483.76 L476.06,484.17 L476.63,484.58 L477.20,484.98 L477.77,485.38 L478.33,485.77 L478.90,486.17 L479.47,486.56 L480.04,486.95 L480.61,487.33 L481.17,487.71 L481.74,488.09 L482.31,488.47 L482.88,488.84 L483.45,489.21 L484.01,489.58 L484.58,489.94 L485.15,490.30 L485.72,490.66 L486.29,491.01 L486.85,491.36 L487.42,491.71 L487.99,492.06 L488.56,492.40 L489.13,492.74 L489.69,493.08 L490.26,493.41 L490.83,493.74 L491.40,494.06 L491.97,494.39 L492.53,494.71 L493.10,495.03 L493.67,495.34 L494.24,495.65 L494.81,495.96 L495.38,496.26 L495.94,496.56 L496.51,496.86 L497.08,497.16 L497.65,497.45 L498.22,497.74 L498.78,498.02 L499.35,498.30 L499.92,498.58 L500.49,498.86 L501.06,499.13 L501.62,499.40 L502.19,499.67 L502.76,499.93 L503.33,500.19 L503.90,500.44 L504.46,500.70 L505.03,500.95 L505.60,501.19 L506.17,501.43 L506.74,501.67 L507.30,501.91 L507.87,502.14 L508.44,502.37 L509.01,502.60 L509.58,502.82 L510.14,503.04 L510.71,503.26 L511.28,503.47 L511.85,503.68 L512.42,503.89 L512.98,504.09 L513.55,504.29 L514.12,504.49 L514.69,504.68 L515.26,504.87 L515.83,505.06 L516.39,505.24 L516.96,505.42 L517.53,505.60 L518.10,505.77 L518.67,505.94 L519.23,506.11 L519.80,506.27 L520.37,506.43 L520.94,506.59 L521.51,506.74 L522.07,506.89 L522.64,507.04 L523.21,507.18 L523.78,507.32 L524.35,507.45 L524.91,507.59 L525.48,507.71 L526.05,507.84 L526.62,507.96 L527.19,508.08 L527.75,508.20 L528.32,508.31 L528.89,508.42 L529.46,508.52 L530.03,508.62 L530.59,508.72 L531.16,508.82 L531.73,508.91 L532.30,509.00 L532.87,509.08 L533.43,509.16 L534.00,509.24 L534.57,509.31 L535.14,509.38 L535.71,509.45 L536.27,509.52 L536.84,509.58 L537.41,509.63 L537.98,509.69 L538.55,509.74 L539.12,509.78 L539.68,509.83 L540.25,509.87 L540.82,509.90 L541.39,509.94 L541.96,509.96 L542.52,509.99 L543.09,510.01 L543.66,510.03 L544.23,510.05 L544.80,510.06 L545.36,510.07 L545.93,510.07 L546.50,510.07" fill="none" stroke="#ff1e0e" stroke-width="8.4" stroke-linejoin="round" stroke-linecap="butt" clip-path="url(#clipa)"/>
<path d="M743.00,534.50 L743.62,532.78 L744.23,531.07 L744.85,529.35 L745.46,527.64 L746.08,525.92 L746.69,524.21 L747.31,522.49 L747.92,520.78 L748.54,519.06 L749.15,517.35 L749.77,515.64 L750.38,513.92 L751.00,512.21 L751.61,510.50 L752.23,508.79 L752.84,507.08 L753.46,505.36 L754.08,503.65 L754.69,501.94 L755.31,500.24 L755.92,498.53 L756.54,496.82 L757.15,495.11 L757.77,493.41 L758.38,491.70 L759.00,490.00 L759.61,488.29 L760.23,486.59 L760.84,484.89 L761.46,483.19 L762.07,481.49 L762.69,479.79 L763.30,478.09 L763.92,476.40 L764.53,474.70 L765.15,473.01 L765.77,471.31 L766.38,469.62 L767.00,467.93 L767.61,466.24 L768.23,464.55 L768.84,462.87 L769.46,461.18 L770.07,459.50 L770.69,457.82 L771.30,456.14 L771.92,454.46 L772.53,452.78 L773.15,451.11 L773.76,449.43 L774.38,447.76 L774.99,446.09 L775.61,444.42 L776.23,442.75 L776.84,441.09 L777.46,439.42 L778.07,437.76 L778.69,436.10 L779.30,434.44 L779.92,432.79 L780.53,431.14 L781.15,429.48 L781.76,427.83 L782.38,426.19 L782.99,424.54 L783.61,422.90 L784.22,421.26 L784.84,419.62 L785.45,417.98 L786.07,416.35 L786.68,414.72 L787.30,413.09 L787.92,411.46 L788.53,409.84 L789.15,408.21 L789.76,406.59 L790.38,404.98 L790.99,403.36 L791.61,401.75 L792.22,400.14 L792.84,398.54 L793.45,396.93 L794.07,395.33 L794.68,393.73 L795.30,392.14 L795.91,390.55 L796.53,388.96 L797.14,387.37 L797.76,385.79 L798.38,384.20 L798.99,382.63 L799.61,381.05 L800.22,379.48 L800.84,377.91 L801.45,376.35 L802.07,374.78 L802.68,373.23 L803.30,371.67 L803.91,370.12 L804.53,368.57 L805.14,367.02 L805.76,365.48 L806.37,363.94 L806.99,362.40 L807.60,360.87 L808.22,359.34 L808.83,357.82 L809.45,356.30 L810.07,354.78 L810.68,353.26 L811.30,351.75 L811.91,350.25 L812.53,348.74 L813.14,347.24 L813.76,345.75 L814.37,344.25 L814.99,342.77 L815.60,341.28 L816.22,339.80 L816.83,338.33 L817.45,336.85 L818.06,335.38 L818.68,333.92 L819.29,332.46 L819.91,331.00 L820.52,329.55 L821.14,328.10 L821.76,326.66 L822.37,325.22 L822.99,323.78 L823.60,322.35 L824.22,320.93 L824.83,319.51 L825.45,318.09 L826.06,316.67 L826.68,315.27 L827.29,313.86 L827.91,312.46 L828.52,311.07 L829.14,309.67 L829.75,308.29 L830.37,306.91 L830.98,305.53 L831.60,304.16 L832.22,302.79 L832.83,301.43 L833.45,300.07 L834.06,298.72 L834.68,297.37 L835.29,296.03 L835.91,294.69 L836.52,293.36 L837.14,292.03 L837.75,290.71 L838.37,289.39 L838.98,288.07 L839.60,286.77 L840.21,285.46 L840.83,284.17 L841.44,282.88 L842.06,281.59 L842.67,280.31 L843.29,279.03 L843.91,277.76 L844.52,276.50 L845.14,275.24 L845.75,273.98 L846.37,272.73 L846.98,271.49 L847.60,270.25 L848.21,269.02 L848.83,267.80 L849.44,266.58 L850.06,265.36 L850.67,264.15 L851.29,262.95 L851.90,261.75 L852.52,260.56 L853.13,259.38 L853.75,258.20 L854.37,257.02 L854.98,255.86 L855.60,254.70 L856.21,253.54 L856.83,252.39 L857.44,251.25 L858.06,250.11 L858.67,248.98 L859.29,247.86 L859.90,246.74 L860.52,245.63 L861.13,244.53 L861.75,243.43 L862.36,242.34 L862.98,241.25 L863.59,240.18 L864.21,239.10 L864.83,238.04 L865.44,236.98 L866.06,235.93 L866.67,234.89 L867.29,233.85 L867.90,232.82 L868.52,231.80 L869.13,230.78 L869.75,229.77 L870.36,228.77 L870.98,227.78 L871.59,226.79 L872.21,225.81 L872.82,224.84 L873.44,223.87 L874.05,222.91 L874.67,221.96 L875.28,221.02 L875.90,220.09 L876.52,219.16 L877.13,218.24 L877.75,217.33 L878.36,216.43 L878.98,215.53 L879.59,214.64 L880.21,213.76 L880.82,212.89 L881.44,212.03 L882.05,211.18 L882.67,210.33 L883.28,209.49 L883.90,208.67 L884.51,207.85 L885.13,207.04 L885.74,206.23 L886.36,205.44 L886.98,204.66 L887.59,203.88 L888.21,203.12 L888.82,202.36 L889.44,201.62 L890.05,200.88 L890.67,200.15 L891.28,199.44 L891.90,198.73 L892.51,198.03 L893.13,197.35 L893.74,196.67 L894.36,196.00 L894.97,195.35 L895.59,194.70 L896.20,194.07 L896.82,193.45 L897.43,192.84 L898.05,192.24 L898.67,191.65 L899.28,191.08 L899.90,190.51 L900.51,189.96 L901.13,189.42 L901.74,188.90 L902.36,188.38 L902.97,187.88 L903.59,187.40 L904.20,186.93 L904.82,186.47 L905.43,186.02 L906.05,185.59 L906.66,185.18 L907.28,184.78 L907.89,184.39 L908.51,184.03 L909.12,183.67 L909.74,183.34 L910.36,183.02 L910.97,182.72 L911.59,182.44 L912.20,182.18 L912.82,181.93 L913.43,181.71 L914.05,181.50 L914.66,181.32 L915.28,181.15 L915.89,181.01 L916.51,180.89 L917.12,180.80 L917.74,180.73 L918.35,180.68 L918.97,180.66 L919.58,180.67 L920.20,180.70 L920.82,180.76 L921.43,180.86 L922.05,180.98 L922.66,181.14 L923.28,181.32 L923.89,181.55 L924.51,181.81 L925.12,182.11 L925.74,182.44 L926.35,182.82 L926.97,183.24 L927.58,183.71 L928.20,184.22 L928.81,184.78 L929.43,185.39 L930.04,186.06 L930.66,186.78 L931.27,187.56 L931.89,188.41 L932.51,189.32 L933.12,190.30 L933.74,191.35 L934.35,192.48 L934.97,193.69 L935.58,194.99 L936.20,196.38 L936.81,197.86 L937.43,199.44 L938.04,201.14 L938.66,202.94 L939.27,204.87 L939.89,206.93 L940.50,209.12 L941.12,211.46 L941.73,213.95 L942.35,216.61 L942.97,219.44 L943.58,222.45 L944.20,225.67 L944.81,229.09 L945.43,232.73 L946.04,236.62 L946.66,240.75 L947.27,245.16 L947.89,249.85 L948.50,254.84 L949.12,260.15 L949.73,265.80 L950.35,271.82 L950.96,278.21 L951.58,285.00 L952.19,292.20 L952.81,299.85 L953.42,307.95 L954.04,316.53 L954.66,325.60 L955.27,335.17 L955.89,345.26 L956.50,355.87 L957.12,367.01 L957.73,378.67 L958.35,390.85 L958.96,403.53 L959.58,416.69 L960.19,430.31 L960.81,444.35 L961.42,458.76 L962.04,473.49 L962.65,488.50 L963.27,503.72 L963.88,519.07 L964.50,534.50" fill="none" stroke="#ff1e0e" stroke-width="8.4" stroke-linejoin="round" stroke-linecap="butt" clip-path="url(#clipb)"/>
<path d="M743.00,534.50 L743.62,534.15 L744.23,533.80 L744.85,533.45 L745.46,533.10 L746.08,532.75 L746.69,532.40 L747.31,532.04 L747.92,531.69 L748.54,531.34 L749.15,530.99 L749.77,530.64 L750.38,530.30 L751.00,529.95 L751.61,529.60 L752.23,529.25 L752.84,528.90 L753.46,528.55 L754.08,528.20 L754.69,527.86 L755.31,527.51 L755.92,527.16 L756.54,526.82 L757.15,526.47 L757.77,526.12 L758.38,525.78 L759.00,525.44 L759.61,525.09 L760.23,524.75 L760.84,524.41 L761.46,524.06 L762.07,523.72 L762.69,523.38 L763.30,523.04 L763.92,522.70 L764.53,522.36 L765.15,522.02 L765.77,521.69 L766.38,521.35 L767.00,521.01 L767.61,520.68 L768.23,520.34 L768.84,520.01 L769.46,519.68 L770.07,519.35 L770.69,519.01 L771.30,518.68 L771.92,518.36 L772.53,518.03 L773.15,517.70 L773.76,517.37 L774.38,517.05 L774.99,516.72 L775.61,516.40 L776.23,516.08 L776.84,515.76 L777.46,515.44 L778.07,515.12 L778.69,514.80 L779.30,514.48 L779.92,514.17 L780.53,513.85 L781.15,513.54 L781.76,513.23 L782.38,512.92 L782.99,512.61 L783.61,512.30 L784.22,512.00 L784.84,511.69 L785.45,511.39 L786.07,511.08 L786.68,510.78 L787.30,510.48 L787.92,510.19 L788.53,509.89 L789.15,509.59 L789.76,509.30 L790.38,509.01 L790.99,508.72 L791.61,508.43 L792.22,508.14 L792.84,507.85 L793.45,507.57 L794.07,507.29 L794.68,507.00 L795.30,506.73 L795.91,506.45 L796.53,506.17 L797.14,505.90 L797.76,505.62 L798.38,505.35 L798.99,505.08 L799.61,504.82 L800.22,504.55 L800.84,504.29 L801.45,504.03 L802.07,503.77 L802.68,503.51 L803.30,503.25 L803.91,503.00 L804.53,502.75 L805.14,502.50 L805.76,502.25 L806.37,502.00 L806.99,501.76 L807.60,501.52 L808.22,501.28 L808.83,501.04 L809.45,500.80 L810.07,500.57 L810.68,500.34 L811.30,500.11 L811.91,499.88 L812.53,499.66 L813.14,499.43 L813.76,499.21 L814.37,498.99 L814.99,498.78 L815.60,498.56 L816.22,498.35 L816.83,498.14 L817.45,497.94 L818.06,497.73 L818.68,497.53 L819.29,497.33 L819.91,497.13 L820.52,496.94 L821.14,496.75 L821.76,496.56 L822.37,496.37 L822.99,496.18 L823.60,496.00 L824.22,495.82 L824.83,495.64 L825.45,495.47 L826.06,495.30 L826.68,495.13 L827.29,494.96 L827.91,494.80 L828.52,494.64 L829.14,494.48 L829.75,494.32 L830.37,494.17 L830.98,494.02 L831.60,493.87 L832.22,493.72 L832.83,493.58 L833.45,493.44 L834.06,493.30 L834.68,493.17 L835.29,493.04 L835.91,492.91 L836.52,492.78 L837.14,492.66 L837.75,492.54 L838.37,492.42 L838.98,492.31 L839.60,492.20 L840.21,492.09 L840.83,491.99 L841.44,491.88 L842.06,491.79 L842.67,491.69 L843.29,491.60 L843.91,491.51 L844.52,491.42 L845.14,491.34 L845.75,491.25 L846.37,491.18 L846.98,491.10 L847.60,491.03 L848.21,490.96 L848.83,490.90 L849.44,490.83 L850.06,490.78 L850.67,490.72 L851.29,490.67 L851.90,490.62 L852.52,490.57 L853.13,490.53 L853.75,490.49 L854.37,490.45 L854.98,490.42 L855.60,490.39 L856.21,490.36 L856.83,490.34 L857.44,490.32 L858.06,490.30 L858.67,490.29 L859.29,490.28 L859.90,490.27 L860.52,490.27 L861.13,490.27 L861.75,490.27 L862.36,490.28 L862.98,490.29 L863.59,490.30 L864.21,490.32 L864.83,490.34 L865.44,490.37 L866.06,490.39 L866.67,490.42 L867.29,490.46 L867.90,490.50 L868.52,490.54 L869.13,490.58 L869.75,490.63 L870.36,490.68 L870.98,490.74 L871.59,490.79 L872.21,490.86 L872.82,490.92 L873.44,490.99 L874.05,491.06 L874.67,491.14 L875.28,491.22 L875.90,491.30 L876.52,491.39 L877.13,491.48 L877.75,491.57 L878.36,491.67 L878.98,491.77 L879.59,491.87 L880.21,491.98 L880.82,492.09 L881.44,492.21 L882.05,492.32 L882.67,492.45 L883.28,492.57 L883.90,492.70 L884.51,492.83 L885.13,492.97 L885.74,493.11 L886.36,493.25 L886.98,493.40 L887.59,493.54 L888.21,493.70 L888.82,493.85 L889.44,494.02 L890.05,494.18 L890.67,494.35 L891.28,494.52 L891.90,494.69 L892.51,494.87 L893.13,495.05 L893.74,495.23 L894.36,495.42 L894.97,495.61 L895.59,495.81 L896.20,496.01 L896.82,496.21 L897.43,496.41 L898.05,496.62 L898.67,496.83 L899.28,497.05 L899.90,497.27 L900.51,497.49 L901.13,497.72 L901.74,497.94 L902.36,498.18 L902.97,498.41 L903.59,498.65 L904.20,498.89 L904.82,499.14 L905.43,499.38 L906.05,499.64 L906.66,499.89 L907.28,500.15 L907.89,500.41 L908.51,500.67 L909.12,500.94 L909.74,501.21 L910.36,501.49 L910.97,501.76 L911.59,502.04 L912.20,502.33 L912.82,502.61 L913.43,502.90 L914.05,503.19 L914.66,503.49 L915.28,503.79 L915.89,504.09 L916.51,504.39 L917.12,504.70 L917.74,505.01 L918.35,505.32 L918.97,505.63 L919.58,505.95 L920.20,506.27 L920.82,506.59 L921.43,506.92 L922.05,507.25 L922.66,507.58 L923.28,507.92 L923.89,508.25 L924.51,508.59 L925.12,508.93 L925.74,509.28 L926.35,509.62 L926.97,509.97 L927.58,510.32 L928.20,510.68 L928.81,511.03 L929.43,511.39 L930.04,511.75 L930.66,512.12 L931.27,512.48 L931.89,512.85 L932.51,513.22 L933.12,513.59 L933.74,513.97 L934.35,514.34 L934.97,514.72 L935.58,515.10 L936.20,515.48 L936.81,515.87 L937.43,516.25 L938.04,516.64 L938.66,517.03 L939.27,517.42 L939.89,517.82 L940.50,518.21 L941.12,518.61 L941.73,519.00 L942.35,519.40 L942.97,519.81 L943.58,520.21 L944.20,520.61 L944.81,521.02 L945.43,521.43 L946.04,521.83 L946.66,522.24 L947.27,522.65 L947.89,523.07 L948.50,523.48 L949.12,523.89 L949.73,524.31 L950.35,524.73 L950.96,525.14 L951.58,525.56 L952.19,525.98 L952.81,526.40 L953.42,526.82 L954.04,527.25 L954.66,527.67 L955.27,528.09 L955.89,528.52 L956.50,528.94 L957.12,529.37 L957.73,529.79 L958.35,530.22 L958.96,530.65 L959.58,531.07 L960.19,531.50 L960.81,531.93 L961.42,532.36 L962.04,532.79 L962.65,533.21 L963.27,533.64 L963.88,534.07 L964.50,534.50" fill="none" stroke="#1600ff" stroke-width="8.4" stroke-linejoin="round" stroke-linecap="butt" clip-path="url(#clipb)"/>
<path d="M964.50,534.50 L965.12,534.07 L965.73,533.64 L966.35,533.21 L966.96,532.79 L967.58,532.36 L968.19,531.93 L968.81,531.50 L969.42,531.07 L970.04,530.65 L970.65,530.22 L971.27,529.79 L971.88,529.37 L972.50,528.94 L973.11,528.52 L973.73,528.09 L974.34,527.67 L974.96,527.25 L975.58,526.82 L976.19,526.40 L976.81,525.98 L977.42,525.56 L978.04,525.14 L978.65,524.73 L979.27,524.31 L979.88,523.89 L980.50,523.48 L981.11,523.07 L981.73,522.65 L982.34,522.24 L982.96,521.83 L983.57,521.43 L984.19,521.02 L984.80,520.61 L985.42,520.21 L986.03,519.81 L986.65,519.40 L987.27,519.00 L987.88,518.61 L988.50,518.21 L989.11,517.82 L989.73,517.42 L990.34,517.03 L990.96,516.64 L991.57,516.25 L992.19,515.87 L992.80,515.48 L993.42,515.10 L994.03,514.72 L994.65,514.34 L995.26,513.97 L995.88,513.59 L996.49,513.22 L997.11,512.85 L997.73,512.48 L998.34,512.12 L998.96,511.75 L999.57,511.39 L1000.19,511.03 L1000.80,510.68 L1001.42,510.32 L1002.03,509.97 L1002.65,509.62 L1003.26,509.28 L1003.88,508.93 L1004.49,508.59 L1005.11,508.25 L1005.72,507.92 L1006.34,507.58 L1006.95,507.25 L1007.57,506.92 L1008.18,506.59 L1008.80,506.27 L1009.42,505.95 L1010.03,505.63 L1010.65,505.32 L1011.26,505.01 L1011.88,504.70 L1012.49,504.39 L1013.11,504.09 L1013.72,503.79 L1014.34,503.49 L1014.95,503.19 L1015.57,502.90 L1016.18,502.61 L1016.80,502.33 L1017.41,502.04 L1018.03,501.76 L1018.64,501.49 L1019.26,501.21 L1019.88,500.94 L1020.49,500.67 L1021.11,500.41 L1021.72,500.15 L1022.34,499.89 L1022.95,499.64 L1023.57,499.38 L1024.18,499.14 L1024.80,498.89 L1025.41,498.65 L1026.03,498.41 L1026.64,498.18 L1027.26,497.94 L1027.87,497.72 L1028.49,497.49 L1029.10,497.27 L1029.72,497.05 L1030.33,496.83 L1030.95,496.62 L1031.57,496.41 L1032.18,496.21 L1032.80,496.01 L1033.41,495.81 L1034.03,495.61 L1034.64,495.42 L1035.26,495.23 L1035.87,495.05 L1036.49,494.87 L1037.10,494.69 L1037.72,494.52 L1038.33,494.35 L1038.95,494.18 L1039.56,494.02 L1040.18,493.85 L1040.79,493.70 L1041.41,493.54 L1042.03,493.40 L1042.64,493.25 L1043.26,493.11 L1043.87,492.97 L1044.49,492.83 L1045.10,492.70 L1045.72,492.57 L1046.33,492.45 L1046.95,492.32 L1047.56,492.21 L1048.18,492.09 L1048.79,491.98 L1049.41,491.87 L1050.02,491.77 L1050.64,491.67 L1051.25,491.57 L1051.87,491.48 L1052.48,491.39 L1053.10,491.30 L1053.72,491.22 L1054.33,491.14 L1054.95,491.06 L1055.56,490.99 L1056.18,490.92 L1056.79,490.86 L1057.41,490.79 L1058.02,490.74 L1058.64,490.68 L1059.25,490.63 L1059.87,490.58 L1060.48,490.54 L1061.10,490.50 L1061.71,490.46 L1062.33,490.42 L1062.94,490.39 L1063.56,490.37 L1064.17,490.34 L1064.79,490.32 L1065.41,490.30 L1066.02,490.29 L1066.64,490.28 L1067.25,490.27 L1067.87,490.27 L1068.48,490.27 L1069.10,490.27 L1069.71,490.28 L1070.33,490.29 L1070.94,490.30 L1071.56,490.32 L1072.17,490.34 L1072.79,490.36 L1073.40,490.39 L1074.02,490.42 L1074.63,490.45 L1075.25,490.49 L1075.87,490.53 L1076.48,490.57 L1077.10,490.62 L1077.71,490.67 L1078.33,490.72 L1078.94,490.78 L1079.56,490.83 L1080.17,490.90 L1080.79,490.96 L1081.40,491.03 L1082.02,491.10 L1082.63,491.18 L1083.25,491.25 L1083.86,491.34 L1084.48,491.42 L1085.09,491.51 L1085.71,491.60 L1086.33,491.69 L1086.94,491.79 L1087.56,491.88 L1088.17,491.99 L1088.79,492.09 L1089.40,492.20 L1090.02,492.31 L1090.63,492.42 L1091.25,492.54 L1091.86,492.66 L1092.48,492.78 L1093.09,492.91 L1093.71,493.04 L1094.32,493.17 L1094.94,493.30 L1095.55,493.44 L1096.17,493.58 L1096.78,493.72 L1097.40,493.87 L1098.02,494.02 L1098.63,494.17 L1099.25,494.32 L1099.86,494.48 L1100.48,494.64 L1101.09,494.80 L1101.71,494.96 L1102.32,495.13 L1102.94,495.30 L1103.55,495.47 L1104.17,495.64 L1104.78,495.82 L1105.40,496.00 L1106.01,496.18 L1106.63,496.37 L1107.24,496.56 L1107.86,496.75 L1108.47,496.94 L1109.09,497.13 L1109.71,497.33 L1110.32,497.53 L1110.94,497.73 L1111.55,497.94 L1112.17,498.14 L1112.78,498.35 L1113.40,498.56 L1114.01,498.78 L1114.63,498.99 L1115.24,499.21 L1115.86,499.43 L1116.47,499.66 L1117.09,499.88 L1117.70,500.11 L1118.32,500.34 L1118.93,500.57 L1119.55,500.80 L1120.17,501.04 L1120.78,501.28 L1121.40,501.52 L1122.01,501.76 L1122.63,502.00 L1123.24,502.25 L1123.86,502.50 L1124.47,502.75 L1125.09,503.00 L1125.70,503.25 L1126.32,503.51 L1126.93,503.77 L1127.55,504.03 L1128.16,504.29 L1128.78,504.55 L1129.39,504.82 L1130.01,505.08 L1130.62,505.35 L1131.24,505.62 L1131.86,505.90 L1132.47,506.17 L1133.09,506.45 L1133.70,506.73 L1134.32,507.00 L1134.93,507.29 L1135.55,507.57 L1136.16,507.85 L1136.78,508.14 L1137.39,508.43 L1138.01,508.72 L1138.62,509.01 L1139.24,509.30 L1139.85,509.59 L1140.47,509.89 L1141.08,510.19 L1141.70,510.48 L1142.32,510.78 L1142.93,511.08 L1143.55,511.39 L1144.16,511.69 L1144.78,512.00 L1145.39,512.30 L1146.01,512.61 L1146.62,512.92 L1147.24,513.23 L1147.85,513.54 L1148.47,513.85 L1149.08,514.17 L1149.70,514.48 L1150.31,514.80 L1150.93,515.12 L1151.54,515.44 L1152.16,515.76 L1152.78,516.08 L1153.39,516.40 L1154.01,516.72 L1154.62,517.05 L1155.24,517.37 L1155.85,517.70 L1156.47,518.03 L1157.08,518.36 L1157.70,518.68 L1158.31,519.01 L1158.93,519.35 L1159.54,519.68 L1160.16,520.01 L1160.77,520.34 L1161.39,520.68 L1162.00,521.01 L1162.62,521.35 L1163.23,521.69 L1163.85,522.02 L1164.47,522.36 L1165.08,522.70 L1165.70,523.04 L1166.31,523.38 L1166.93,523.72 L1167.54,524.06 L1168.16,524.41 L1168.77,524.75 L1169.39,525.09 L1170.00,525.44 L1170.62,525.78 L1171.23,526.12 L1171.85,526.47 L1172.46,526.82 L1173.08,527.16 L1173.69,527.51 L1174.31,527.86 L1174.92,528.20 L1175.54,528.55 L1176.16,528.90 L1176.77,529.25 L1177.39,529.60 L1178.00,529.95 L1178.62,530.30 L1179.23,530.64 L1179.85,530.99 L1180.46,531.34 L1181.08,531.69 L1181.69,532.04 L1182.31,532.40 L1182.92,532.75 L1183.54,533.10 L1184.15,533.45 L1184.77,533.80 L1185.38,534.15 L1186.00,534.50" fill="none" stroke="#1600ff" stroke-width="8.4" stroke-linejoin="round" stroke-linecap="butt" clip-path="url(#clipb)"/>
<path d="M964.50,534.50 L965.12,519.07 L965.73,503.72 L966.35,488.50 L966.96,473.49 L967.58,458.76 L968.19,444.35 L968.81,430.31 L969.42,416.69 L970.04,403.53 L970.65,390.85 L971.27,378.67 L971.88,367.01 L972.50,355.87 L973.11,345.26 L973.73,335.17 L974.34,325.60 L974.96,316.53 L975.58,307.95 L976.19,299.85 L976.81,292.20 L977.42,285.00 L978.04,278.21 L978.65,271.82 L979.27,265.80 L979.88,260.15 L980.50,254.84 L981.11,249.85 L981.73,245.16 L982.34,240.75 L982.96,236.62 L983.57,232.73 L984.19,229.09 L984.80,225.67 L985.42,222.45 L986.03,219.44 L986.65,216.61 L987.27,213.95 L987.88,211.46 L988.50,209.12 L989.11,206.93 L989.73,204.87 L990.34,202.94 L990.96,201.14 L991.57,199.44 L992.19,197.86 L992.80,196.38 L993.42,194.99 L994.03,193.69 L994.65,192.48 L995.26,191.35 L995.88,190.30 L996.49,189.32 L997.11,188.41 L997.73,187.56 L998.34,186.78 L998.96,186.06 L999.57,185.39 L1000.19,184.78 L1000.80,184.22 L1001.42,183.71 L1002.03,183.24 L1002.65,182.82 L1003.26,182.44 L1003.88,182.11 L1004.49,181.81 L1005.11,181.55 L1005.72,181.32 L1006.34,181.14 L1006.95,180.98 L1007.57,180.86 L1008.18,180.76 L1008.80,180.70 L1009.42,180.67 L1010.03,180.66 L1010.65,180.68 L1011.26,180.73 L1011.88,180.80 L1012.49,180.89 L1013.11,181.01 L1013.72,181.15 L1014.34,181.32 L1014.95,181.50 L1015.57,181.71 L1016.18,181.93 L1016.80,182.18 L1017.41,182.44 L1018.03,182.72 L1018.64,183.02 L1019.26,183.34 L1019.88,183.67 L1020.49,184.03 L1021.11,184.39 L1021.72,184.78 L1022.34,185.18 L1022.95,185.59 L1023.57,186.02 L1024.18,186.47 L1024.80,186.93 L1025.41,187.40 L1026.03,187.88 L1026.64,188.38 L1027.26,188.90 L1027.87,189.42 L1028.49,189.96 L1029.10,190.51 L1029.72,191.08 L1030.33,191.65 L1030.95,192.24 L1031.57,192.84 L1032.18,193.45 L1032.80,194.07 L1033.41,194.70 L1034.03,195.35 L1034.64,196.00 L1035.26,196.67 L1035.87,197.35 L1036.49,198.03 L1037.10,198.73 L1037.72,199.44 L1038.33,200.15 L1038.95,200.88 L1039.56,201.62 L1040.18,202.36 L1040.79,203.12 L1041.41,203.88 L1042.03,204.66 L1042.64,205.44 L1043.26,206.23 L1043.87,207.04 L1044.49,207.85 L1045.10,208.67 L1045.72,209.49 L1046.33,210.33 L1046.95,211.18 L1047.56,212.03 L1048.18,212.89 L1048.79,213.76 L1049.41,214.64 L1050.02,215.53 L1050.64,216.43 L1051.25,217.33 L1051.87,218.24 L1052.48,219.16 L1053.10,220.09 L1053.72,221.02 L1054.33,221.96 L1054.95,222.91 L1055.56,223.87 L1056.18,224.84 L1056.79,225.81 L1057.41,226.79 L1058.02,227.78 L1058.64,228.77 L1059.25,229.77 L1059.87,230.78 L1060.48,231.80 L1061.10,232.82 L1061.71,233.85 L1062.33,234.89 L1062.94,235.93 L1063.56,236.98 L1064.17,238.04 L1064.79,239.10 L1065.41,240.18 L1066.02,241.25 L1066.64,242.34 L1067.25,243.43 L1067.87,244.53 L1068.48,245.63 L1069.10,246.74 L1069.71,247.86 L1070.33,248.98 L1070.94,250.11 L1071.56,251.25 L1072.17,252.39 L1072.79,253.54 L1073.40,254.70 L1074.02,255.86 L1074.63,257.02 L1075.25,258.20 L1075.87,259.38 L1076.48,260.56 L1077.10,261.75 L1077.71,262.95 L1078.33,264.15 L1078.94,265.36 L1079.56,266.58 L1080.17,267.80 L1080.79,269.02 L1081.40,270.25 L1082.02,271.49 L1082.63,272.73 L1083.25,273.98 L1083.86,275.24 L1084.48,276.50 L1085.09,277.76 L1085.71,279.03 L1086.33,280.31 L1086.94,281.59 L1087.56,282.88 L1088.17,284.17 L1088.79,285.46 L1089.40,286.77 L1090.02,288.07 L1090.63,289.39 L1091.25,290.71 L1091.86,292.03 L1092.48,293.36 L1093.09,294.69 L1093.71,296.03 L1094.32,297.37 L1094.94,298.72 L1095.55,300.07 L1096.17,301.43 L1096.78,302.79 L1097.40,304.16 L1098.02,305.53 L1098.63,306.91 L1099.25,308.29 L1099.86,309.67 L1100.48,311.07 L1101.09,312.46 L1101.71,313.86 L1102.32,315.27 L1102.94,316.67 L1103.55,318.09 L1104.17,319.51 L1104.78,320.93 L1105.40,322.35 L1106.01,323.78 L1106.63,325.22 L1107.24,326.66 L1107.86,328.10 L1108.47,329.55 L1109.09,331.00 L1109.71,332.46 L1110.32,333.92 L1110.94,335.38 L1111.55,336.85 L1112.17,338.33 L1112.78,339.80 L1113.40,341.28 L1114.01,342.77 L1114.63,344.25 L1115.24,345.75 L1115.86,347.24 L1116.47,348.74 L1117.09,350.25 L1117.70,351.75 L1118.32,353.26 L1118.93,354.78 L1119.55,356.30 L1120.17,357.82 L1120.78,359.34 L1121.40,360.87 L1122.01,362.40 L1122.63,363.94 L1123.24,365.48 L1123.86,367.02 L1124.47,368.57 L1125.09,370.12 L1125.70,371.67 L1126.32,373.23 L1126.93,374.78 L1127.55,376.35 L1128.16,377.91 L1128.78,379.48 L1129.39,381.05 L1130.01,382.63 L1130.62,384.20 L1131.24,385.79 L1131.86,387.37 L1132.47,388.96 L1133.09,390.55 L1133.70,392.14 L1134.32,393.73 L1134.93,395.33 L1135.55,396.93 L1136.16,398.54 L1136.78,400.14 L1137.39,401.75 L1138.01,403.36 L1138.62,404.98 L1139.24,406.59 L1139.85,408.21 L1140.47,409.84 L1141.08,411.46 L1141.70,413.09 L1142.32,414.72 L1142.93,416.35 L1143.55,417.98 L1144.16,419.62 L1144.78,421.26 L1145.39,422.90 L1146.01,424.54 L1146.62,426.19 L1147.24,427.83 L1147.85,429.48 L1148.47,431.14 L1149.08,432.79 L1149.70,434.44 L1150.31,436.10 L1150.93,437.76 L1151.54,439.42 L1152.16,441.09 L1152.78,442.75 L1153.39,444.42 L1154.01,446.09 L1154.62,447.76 L1155.24,449.43 L1155.85,451.11 L1156.47,452.78 L1157.08,454.46 L1157.70,456.14 L1158.31,457.82 L1158.93,459.50 L1159.54,461.18 L1160.16,462.87 L1160.77,464.55 L1161.39,466.24 L1162.00,467.93 L1162.62,469.62 L1163.23,471.31 L1163.85,473.01 L1164.47,474.70 L1165.08,476.40 L1165.70,478.09 L1166.31,479.79 L1166.93,481.49 L1167.54,483.19 L1168.16,484.89 L1168.77,486.59 L1169.39,488.29 L1170.00,490.00 L1170.62,491.70 L1171.23,493.41 L1171.85,495.11 L1172.46,496.82 L1173.08,498.53 L1173.69,500.24 L1174.31,501.94 L1174.92,503.65 L1175.54,505.36 L1176.16,507.08 L1176.77,508.79 L1177.39,510.50 L1178.00,512.21 L1178.62,513.92 L1179.23,515.64 L1179.85,517.35 L1180.46,519.06 L1181.08,520.78 L1181.69,522.49 L1182.31,524.21 L1182.92,525.92 L1183.54,527.64 L1184.15,529.35 L1184.77,531.07 L1185.38,532.78 L1186.00,534.50" fill="none" stroke="#ff1e0e" stroke-width="8.4" stroke-linejoin="round" stroke-linecap="butt" clip-path="url(#clipb)"/>
<path d="M158.80,951.20 L159.42,951.20 L160.04,951.20 L160.65,951.19 L161.27,951.19 L161.89,951.18 L162.51,951.18 L163.12,951.17 L163.74,951.16 L164.36,951.15 L164.98,951.14 L165.59,951.12 L166.21,951.11 L166.83,951.09 L167.45,951.08 L168.06,951.06 L168.68,951.04 L169.30,951.02 L169.92,951.00 L170.53,950.97 L171.15,950.95 L171.77,950.92 L172.39,950.90 L173.00,950.87 L173.62,950.84 L174.24,950.81 L174.86,950.78 L175.47,950.74 L176.09,950.71 L176.71,950.67 L177.33,950.63 L177.94,950.60 L178.56,950.56 L179.18,950.52 L179.80,950.47 L180.41,950.43 L181.03,950.39 L181.65,950.34 L182.27,950.29 L182.88,950.25 L183.50,950.20 L184.12,950.15 L184.74,950.09 L185.35,950.04 L185.97,949.99 L186.59,949.93 L187.21,949.87 L187.82,949.82 L188.44,949.76 L189.06,949.70 L189.68,949.63 L190.29,949.57 L190.91,949.51 L191.53,949.44 L192.15,949.38 L192.76,949.31 L193.38,949.24 L194.00,949.17 L194.62,949.10 L195.23,949.02 L195.85,948.95 L196.47,948.88 L197.09,948.80 L197.70,948.72 L198.32,948.64 L198.94,948.56 L199.56,948.48 L200.17,948.40 L200.79,948.32 L201.41,948.23 L202.03,948.15 L202.64,948.06 L203.26,947.97 L203.88,947.88 L204.50,947.79 L205.11,947.70 L205.73,947.60 L206.35,947.51 L206.97,947.42 L207.58,947.32 L208.20,947.22 L208.82,947.12 L209.44,947.02 L210.05,946.92 L210.67,946.82 L211.29,946.72 L211.91,946.61 L212.52,946.50 L213.14,946.40 L213.76,946.29 L214.38,946.18 L214.99,946.07 L215.61,945.96 L216.23,945.85 L216.85,945.73 L217.46,945.62 L218.08,945.50 L218.70,945.38 L219.31,945.27 L219.93,945.15 L220.55,945.03 L221.17,944.91 L221.78,944.78 L222.40,944.66 L223.02,944.53 L223.64,944.41 L224.25,944.28 L224.87,944.15 L225.49,944.02 L226.11,943.89 L226.73,943.76 L227.34,943.63 L227.96,943.50 L228.58,943.36 L229.20,943.23 L229.81,943.09 L230.43,942.95 L231.05,942.82 L231.67,942.68 L232.28,942.54 L232.90,942.39 L233.52,942.25 L234.13,942.11 L234.75,941.96 L235.37,941.82 L235.99,941.67 L236.61,941.52 L237.22,941.38 L237.84,941.23 L238.46,941.08 L239.07,940.92 L239.69,940.77 L240.31,940.62 L240.93,940.46 L241.55,940.31 L242.16,940.15 L242.78,940.00 L243.40,939.84 L244.01,939.68 L244.63,939.52 L245.25,939.36 L245.87,939.20 L246.49,939.04 L247.10,938.87 L247.72,938.71 L248.34,938.54 L248.95,938.38 L249.57,938.21 L250.19,938.05 L250.81,937.88 L251.43,937.71 L252.04,937.54 L252.66,937.37 L253.28,937.20 L253.90,937.02 L254.51,936.85 L255.13,936.68 L255.75,936.50 L256.37,936.33 L256.98,936.15 L257.60,935.98 L258.22,935.80 L258.84,935.62 L259.45,935.44 L260.07,935.26 L260.69,935.08 L261.31,934.90 L261.92,934.72 L262.54,934.54 L263.16,934.36 L263.78,934.17 L264.39,933.99 L265.01,933.81 L265.63,933.62 L266.25,933.44 L266.86,933.25 L267.48,933.06 L268.10,932.88 L268.72,932.69 L269.33,932.50 L269.95,932.31 L270.57,932.12 L271.19,931.93 L271.80,931.74 L272.42,931.55 L273.04,931.36 L273.66,931.17 L274.27,930.98 L274.89,930.78 L275.51,930.59 L276.12,930.40 L276.74,930.21 L277.36,930.01 L277.98,929.82 L278.60,929.62 L279.21,929.43 L279.83,929.23 L280.45,929.04 L281.06,928.84 L281.68,928.65 L282.30,928.45 L282.92,928.25 L283.53,928.06 L284.15,927.86 L284.77,927.66 L285.39,927.47 L286.00,927.27 L286.62,927.07 L287.24,926.88 L287.86,926.68 L288.48,926.48 L289.09,926.28 L289.71,926.09 L290.33,925.89 L290.94,925.69 L291.56,925.49 L292.18,925.30 L292.80,925.10 L293.41,924.90 L294.03,924.70 L294.65,924.51 L295.27,924.31 L295.88,924.11 L296.50,923.92 L297.12,923.72 L297.74,923.52 L298.36,923.33 L298.97,923.13 L299.59,922.93 L300.21,922.74 L300.82,922.54 L301.44,922.35 L302.06,922.15 L302.68,921.96 L303.30,921.76 L303.91,921.57 L304.53,921.38 L305.15,921.18 L305.76,920.99 L306.38,920.80 L307.00,920.61 L307.62,920.42 L308.24,920.23 L308.85,920.04 L309.47,919.85 L310.09,919.66 L310.71,919.47 L311.32,919.28 L311.94,919.09 L312.56,918.91 L313.18,918.72 L313.79,918.54 L314.41,918.35 L315.03,918.17 L315.64,917.99 L316.26,917.80 L316.88,917.62 L317.50,917.44 L318.12,917.26 L318.73,917.08 L319.35,916.91 L319.97,916.73 L320.58,916.55 L321.20,916.38 L321.82,916.20 L322.44,916.03 L323.06,915.86 L323.67,915.69 L324.29,915.52 L324.91,915.35 L325.52,915.18 L326.14,915.01 L326.76,914.85 L327.38,914.68 L328.00,914.52 L328.61,914.35 L329.23,914.19 L329.85,914.03 L330.47,913.88 L331.08,913.72 L331.70,913.56 L332.32,913.41 L332.94,913.25 L333.55,913.10 L334.17,912.95 L334.79,912.80 L335.40,912.65 L336.02,912.51 L336.64,912.36 L337.26,912.22 L337.88,912.08 L338.49,911.94 L339.11,911.80 L339.73,911.66 L340.35,911.52 L340.96,911.39 L341.58,911.26 L342.20,911.12 L342.81,911.00 L343.43,910.87 L344.05,910.74 L344.67,910.62 L345.28,910.49 L345.90,910.37 L346.52,910.25 L347.14,910.14 L347.75,910.02 L348.37,909.91 L348.99,909.80 L349.61,909.68 L350.23,909.58 L350.84,909.47 L351.46,909.37 L352.08,909.26 L352.69,909.16 L353.31,909.06 L353.93,908.97 L354.55,908.87 L355.17,908.78 L355.78,908.69 L356.40,908.60 L357.02,908.51 L357.63,908.43 L358.25,908.34 L358.87,908.26 L359.49,908.18 L360.11,908.11 L360.72,908.03 L361.34,907.96 L361.96,907.89 L362.57,907.82 L363.19,907.75 L363.81,907.69 L364.43,907.63 L365.04,907.57 L365.66,907.51 L366.28,907.46 L366.90,907.40 L367.51,907.35 L368.13,907.30 L368.75,907.26 L369.37,907.21 L369.99,907.17 L370.60,907.13 L371.22,907.09 L371.84,907.06 L372.46,907.02 L373.07,906.99 L373.69,906.96 L374.31,906.94 L374.92,906.91 L375.54,906.89 L376.16,906.87 L376.78,906.86 L377.39,906.84 L378.01,906.83 L378.63,906.82 L379.25,906.81 L379.87,906.80 L380.48,906.80 L381.10,906.80 L381.72,906.80 L382.33,906.80 L382.95,906.81 L383.57,906.82 L384.19,906.83 L384.80,906.84 L385.42,906.86 L386.04,906.87 L386.66,906.89 L387.27,906.91 L387.89,906.94 L388.51,906.96 L389.13,906.99 L389.75,907.02 L390.36,907.06 L390.98,907.09 L391.60,907.13 L392.22,907.17 L392.83,907.21 L393.45,907.26 L394.07,907.30 L394.69,907.35 L395.30,907.40 L395.92,907.46 L396.54,907.51 L397.15,907.57 L397.77,907.63 L398.39,907.69 L399.01,907.75 L399.62,907.82 L400.24,907.89 L400.86,907.96 L401.48,908.03 L402.10,908.11 L402.71,908.18 L403.33,908.26 L403.95,908.34 L404.56,908.43 L405.18,908.51 L405.80,908.60 L406.42,908.69 L407.03,908.78 L407.65,908.87 L408.27,908.97 L408.89,909.06 L409.50,909.16 L410.12,909.26 L410.74,909.37 L411.36,909.47 L411.98,909.58 L412.59,909.68 L413.21,909.80 L413.83,909.91 L414.44,910.02 L415.06,910.14 L415.68,910.25 L416.30,910.37 L416.92,910.49 L417.53,910.62 L418.15,910.74 L418.77,910.87 L419.38,911.00 L420.00,911.12 L420.62,911.26 L421.24,911.39 L421.86,911.52 L422.47,911.66 L423.09,911.80 L423.71,911.94 L424.32,912.08 L424.94,912.22 L425.56,912.36 L426.18,912.51 L426.80,912.65 L427.41,912.80 L428.03,912.95 L428.65,913.10 L429.27,913.25 L429.88,913.41 L430.50,913.56 L431.12,913.72 L431.74,913.88 L432.35,914.03 L432.97,914.19 L433.59,914.35 L434.20,914.52 L434.82,914.68 L435.44,914.85 L436.06,915.01 L436.68,915.18 L437.29,915.35 L437.91,915.52 L438.53,915.69 L439.14,915.86 L439.76,916.03 L440.38,916.20 L441.00,916.38 L441.61,916.55 L442.23,916.73 L442.85,916.91 L443.47,917.08 L444.08,917.26 L444.70,917.44 L445.32,917.62 L445.94,917.80 L446.56,917.99 L447.17,918.17 L447.79,918.35 L448.41,918.54 L449.02,918.72 L449.64,918.91 L450.26,919.09 L450.88,919.28 L451.50,919.47 L452.11,919.66 L452.73,919.85 L453.35,920.04 L453.96,920.23 L454.58,920.42 L455.20,920.61 L455.82,920.80 L456.44,920.99 L457.05,921.18 L457.67,921.38 L458.29,921.57 L458.91,921.76 L459.52,921.96 L460.14,922.15 L460.76,922.35 L461.38,922.54 L461.99,922.74 L462.61,922.93 L463.23,923.13 L463.84,923.33 L464.46,923.52 L465.08,923.72 L465.70,923.92 L466.31,924.11 L466.93,924.31 L467.55,924.51 L468.17,924.70 L468.79,924.90 L469.40,925.10 L470.02,925.30 L470.64,925.49 L471.25,925.69 L471.87,925.89 L472.49,926.09 L473.11,926.28 L473.73,926.48 L474.34,926.68 L474.96,926.88 L475.58,927.07 L476.19,927.27 L476.81,927.47 L477.43,927.66 L478.05,927.86 L478.67,928.06 L479.28,928.25 L479.90,928.45 L480.52,928.65 L481.13,928.84 L481.75,929.04 L482.37,929.23 L482.99,929.43 L483.61,929.62 L484.22,929.82 L484.84,930.01 L485.46,930.21 L486.07,930.40 L486.69,930.59 L487.31,930.78 L487.93,930.98 L488.54,931.17 L489.16,931.36 L489.78,931.55 L490.40,931.74 L491.01,931.93 L491.63,932.12 L492.25,932.31 L492.87,932.50 L493.48,932.69 L494.10,932.88 L494.72,933.06 L495.34,933.25 L495.96,933.44 L496.57,933.62 L497.19,933.81 L497.81,933.99 L498.42,934.17 L499.04,934.36 L499.66,934.54 L500.28,934.72 L500.89,934.90 L501.51,935.08 L502.13,935.26 L502.75,935.44 L503.37,935.62 L503.98,935.80 L504.60,935.98 L505.22,936.15 L505.84,936.33 L506.45,936.50 L507.07,936.68 L507.69,936.85 L508.30,937.02 L508.92,937.20 L509.54,937.37 L510.16,937.54 L510.77,937.71 L511.39,937.88 L512.01,938.05 L512.63,938.21 L513.25,938.38 L513.86,938.54 L514.48,938.71 L515.10,938.87 L515.71,939.04 L516.33,939.20 L516.95,939.36 L517.57,939.52 L518.18,939.68 L518.80,939.84 L519.42,940.00 L520.04,940.15 L520.65,940.31 L521.27,940.46 L521.89,940.62 L522.51,940.77 L523.12,940.92 L523.74,941.08 L524.36,941.23 L524.98,941.38 L525.60,941.52 L526.21,941.67 L526.83,941.82 L527.45,941.96 L528.07,942.11 L528.68,942.25 L529.30,942.39 L529.92,942.54 L530.53,942.68 L531.15,942.82 L531.77,942.95 L532.39,943.09 L533.00,943.23 L533.62,943.36 L534.24,943.50 L534.86,943.63 L535.47,943.76 L536.09,943.89 L536.71,944.02 L537.33,944.15 L537.94,944.28 L538.56,944.41 L539.18,944.53 L539.80,944.66 L540.41,944.78 L541.03,944.91 L541.65,945.03 L542.27,945.15 L542.88,945.27 L543.50,945.38 L544.12,945.50 L544.74,945.62 L545.36,945.73 L545.97,945.85 L546.59,945.96 L547.21,946.07 L547.83,946.18 L548.44,946.29 L549.06,946.40 L549.68,946.50 L550.30,946.61 L550.91,946.72 L551.53,946.82 L552.15,946.92 L552.76,947.02 L553.38,947.12 L554.00,947.22 L554.62,947.32 L555.23,947.42 L555.85,947.51 L556.47,947.60 L557.09,947.70 L557.70,947.79 L558.32,947.88 L558.94,947.97 L559.56,948.06 L560.17,948.15 L560.79,948.23 L561.41,948.32 L562.03,948.40 L562.64,948.48 L563.26,948.56 L563.88,948.64 L564.50,948.72 L565.12,948.80 L565.73,948.88 L566.35,948.95 L566.97,949.02 L567.59,949.10 L568.20,949.17 L568.82,949.24 L569.44,949.31 L570.06,949.38 L570.67,949.44 L571.29,949.51 L571.91,949.57 L572.52,949.63 L573.14,949.70 L573.76,949.76 L574.38,949.82 L575.00,949.87 L575.61,949.93 L576.23,949.99 L576.85,950.04 L577.46,950.09 L578.08,950.15 L578.70,950.20 L579.32,950.25 L579.93,950.29 L580.55,950.34 L581.17,950.39 L581.79,950.43 L582.40,950.47 L583.02,950.52 L583.64,950.56 L584.26,950.60 L584.88,950.63 L585.49,950.67 L586.11,950.71 L586.73,950.74 L587.35,950.78 L587.96,950.81 L588.58,950.84 L589.20,950.87 L589.82,950.90 L590.43,950.92 L591.05,950.95 L591.67,950.97 L592.28,951.00 L592.90,951.02 L593.52,951.04 L594.14,951.06 L594.75,951.08 L595.37,951.09 L595.99,951.11 L596.61,951.12 L597.23,951.14 L597.84,951.15 L598.46,951.16 L599.08,951.17 L599.69,951.18 L600.31,951.18 L600.93,951.19 L601.55,951.19 L602.16,951.20 L602.78,951.20 L603.40,951.20" fill="none" stroke="#1600ff" stroke-width="8.4" stroke-linejoin="round" stroke-linecap="butt" clip-path="url(#clipc)"/>
<path d="M158.80,1106.60 L159.42,1106.60 L160.04,1106.60 L160.65,1106.60 L161.27,1106.59 L161.89,1106.59 L162.51,1106.58 L163.12,1106.58 L163.74,1106.57 L164.36,1106.57 L164.98,1106.56 L165.59,1106.55 L166.21,1106.54 L166.83,1106.53 L167.45,1106.52 L168.06,1106.51 L168.68,1106.49 L169.30,1106.48 L169.92,1106.46 L170.53,1106.45 L171.15,1106.43 L171.77,1106.42 L172.39,1106.40 L173.00,1106.38 L173.62,1106.36 L174.24,1106.34 L174.86,1106.32 L175.47,1106.29 L176.09,1106.27 L176.71,1106.25 L177.33,1106.22 L177.94,1106.20 L178.56,1106.17 L179.18,1106.14 L179.80,1106.11 L180.41,1106.08 L181.03,1106.05 L181.65,1106.02 L182.27,1105.99 L182.88,1105.96 L183.50,1105.92 L184.12,1105.89 L184.74,1105.85 L185.35,1105.82 L185.97,1105.78 L186.59,1105.74 L187.21,1105.70 L187.82,1105.66 L188.44,1105.62 L189.06,1105.58 L189.68,1105.54 L190.29,1105.49 L190.91,1105.45 L191.53,1105.40 L192.15,1105.35 L192.76,1105.31 L193.38,1105.26 L194.00,1105.21 L194.62,1105.16 L195.23,1105.11 L195.85,1105.05 L196.47,1105.00 L197.09,1104.95 L197.70,1104.89 L198.32,1104.83 L198.94,1104.78 L199.56,1104.72 L200.17,1104.66 L200.79,1104.60 L201.41,1104.54 L202.03,1104.47 L202.64,1104.41 L203.26,1104.35 L203.88,1104.28 L204.50,1104.21 L205.11,1104.14 L205.73,1104.08 L206.35,1104.01 L206.97,1103.93 L207.58,1103.86 L208.20,1103.79 L208.82,1103.71 L209.44,1103.64 L210.05,1103.56 L210.67,1103.48 L211.29,1103.41 L211.91,1103.33 L212.52,1103.24 L213.14,1103.16 L213.76,1103.08 L214.38,1102.99 L214.99,1102.91 L215.61,1102.82 L216.23,1102.73 L216.85,1102.64 L217.46,1102.55 L218.08,1102.46 L218.70,1102.36 L219.31,1102.27 L219.93,1102.17 L220.55,1102.08 L221.17,1101.98 L221.78,1101.88 L222.40,1101.78 L223.02,1101.67 L223.64,1101.57 L224.25,1101.46 L224.87,1101.36 L225.49,1101.25 L226.11,1101.14 L226.73,1101.03 L227.34,1100.92 L227.96,1100.80 L228.58,1100.69 L229.20,1100.57 L229.81,1100.45 L230.43,1100.33 L231.05,1100.21 L231.67,1100.09 L232.28,1099.96 L232.90,1099.84 L233.52,1099.71 L234.13,1099.58 L234.75,1099.45 L235.37,1099.32 L235.99,1099.18 L236.61,1099.05 L237.22,1098.91 L237.84,1098.77 L238.46,1098.63 L239.07,1098.49 L239.69,1098.34 L240.31,1098.20 L240.93,1098.05 L241.55,1097.90 L242.16,1097.75 L242.78,1097.59 L243.40,1097.44 L244.01,1097.28 L244.63,1097.12 L245.25,1096.96 L245.87,1096.80 L246.49,1096.63 L247.10,1096.47 L247.72,1096.30 L248.34,1096.13 L248.95,1095.95 L249.57,1095.78 L250.19,1095.60 L250.81,1095.42 L251.43,1095.24 L252.04,1095.05 L252.66,1094.87 L253.28,1094.68 L253.90,1094.49 L254.51,1094.29 L255.13,1094.10 L255.75,1093.90 L256.37,1093.70 L256.98,1093.50 L257.60,1093.29 L258.22,1093.08 L258.84,1092.87 L259.45,1092.66 L260.07,1092.44 L260.69,1092.22 L261.31,1092.00 L261.92,1091.78 L262.54,1091.55 L263.16,1091.32 L263.78,1091.09 L264.39,1090.85 L265.01,1090.61 L265.63,1090.37 L266.25,1090.13 L266.86,1089.88 L267.48,1089.63 L268.10,1089.37 L268.72,1089.12 L269.33,1088.86 L269.95,1088.59 L270.57,1088.33 L271.19,1088.05 L271.80,1087.78 L272.42,1087.50 L273.04,1087.22 L273.66,1086.94 L274.27,1086.65 L274.89,1086.35 L275.51,1086.06 L276.12,1085.76 L276.74,1085.45 L277.36,1085.14 L277.98,1084.83 L278.60,1084.52 L279.21,1084.19 L279.83,1083.87 L280.45,1083.54 L281.06,1083.21 L281.68,1082.87 L282.30,1082.52 L282.92,1082.18 L283.53,1081.82 L284.15,1081.47 L284.77,1081.10 L285.39,1080.73 L286.00,1080.36 L286.62,1079.98 L287.24,1079.60 L287.86,1079.21 L288.48,1078.82 L289.09,1078.42 L289.71,1078.01 L290.33,1077.60 L290.94,1077.18 L291.56,1076.76 L292.18,1076.33 L292.80,1075.89 L293.41,1075.45 L294.03,1075.00 L294.65,1074.55 L295.27,1074.09 L295.88,1073.62 L296.50,1073.14 L297.12,1072.66 L297.74,1072.16 L298.36,1071.67 L298.97,1071.16 L299.59,1070.65 L300.21,1070.12 L300.82,1069.59 L301.44,1069.05 L302.06,1068.51 L302.68,1067.95 L303.30,1067.39 L303.91,1066.81 L304.53,1066.23 L305.15,1065.64 L305.76,1065.03 L306.38,1064.42 L307.00,1063.80 L307.62,1063.17 L308.24,1062.52 L308.85,1061.87 L309.47,1061.20 L310.09,1060.53 L310.71,1059.84 L311.32,1059.14 L311.94,1058.43 L312.56,1057.70 L313.18,1056.96 L313.79,1056.21 L314.41,1055.45 L315.03,1054.67 L315.64,1053.88 L316.26,1053.07 L316.88,1052.25 L317.50,1051.41 L318.12,1050.56 L318.73,1049.69 L319.35,1048.80 L319.97,1047.90 L320.58,1046.98 L321.20,1046.04 L321.82,1045.09 L322.44,1044.11 L323.06,1043.12 L323.67,1042.10 L324.29,1041.07 L324.91,1040.02 L325.52,1038.94 L326.14,1037.84 L326.76,1036.72 L327.38,1035.57 L328.00,1034.40 L328.61,1033.21 L329.23,1031.99 L329.85,1030.74 L330.47,1029.47 L331.08,1028.17 L331.70,1026.84 L332.32,1025.48 L332.94,1024.09 L333.55,1022.67 L334.17,1021.21 L334.79,1019.72 L335.40,1018.20 L336.02,1016.64 L336.64,1015.05 L337.26,1013.41 L337.88,1011.74 L338.49,1010.03 L339.11,1008.27 L339.73,1006.47 L340.35,1004.63 L340.96,1002.74 L341.58,1000.80 L342.20,998.81 L342.81,996.77 L343.43,994.68 L344.05,992.54 L344.67,990.33 L345.28,988.07 L345.90,985.75 L346.52,983.36 L347.14,980.91 L347.75,978.39 L348.37,975.81 L348.99,973.15 L349.61,970.42 L350.23,967.61 L350.84,964.72 L351.46,961.75 L352.08,958.69 L352.69,955.54 L353.31,952.31 L353.93,948.98 L354.55,945.56 L355.17,942.03 L355.78,938.41 L356.40,934.68 L357.02,930.84 L357.63,926.89 L358.25,922.83 L358.87,918.65 L359.49,914.35 L360.11,909.94 L360.72,905.40 L361.34,900.74 L361.96,895.95 L362.57,891.05 L363.19,886.02 L363.81,880.86 L364.43,875.59 L365.04,870.20 L365.66,864.71 L366.28,859.10 L366.90,853.40 L367.51,847.62 L368.13,841.76 L368.75,835.84 L369.37,829.89 L369.99,823.91 L370.60,817.93 L371.22,811.98 L371.84,806.08 L372.46,800.28 L373.07,794.60 L373.69,789.09 L374.31,783.78 L374.92,778.73 L375.54,773.97 L376.16,769.55 L376.78,765.52 L377.39,761.92 L378.01,758.80 L378.63,756.18 L379.25,754.11 L379.87,752.61 L380.48,751.70 L381.10,751.40 L381.72,751.70 L382.33,752.61 L382.95,754.11 L383.57,756.18 L384.19,758.80 L384.80,761.92 L385.42,765.52 L386.04,769.55 L386.66,773.97 L387.27,778.73 L387.89,783.78 L388.51,789.09 L389.13,794.60 L389.75,800.28 L390.36,806.08 L390.98,811.98 L391.60,817.93 L392.22,823.91 L392.83,829.89 L393.45,835.84 L394.07,841.76 L394.69,847.62 L395.30,853.40 L395.92,859.10 L396.54,864.71 L397.15,870.20 L397.77,875.59 L398.39,880.86 L399.01,886.02 L399.62,891.05 L400.24,895.95 L400.86,900.74 L401.48,905.40 L402.10,909.94 L402.71,914.35 L403.33,918.65 L403.95,922.83 L404.56,926.89 L405.18,930.84 L405.80,934.68 L406.42,938.41 L407.03,942.03 L407.65,945.56 L408.27,948.98 L408.89,952.31 L409.50,955.54 L410.12,958.69 L410.74,961.75 L411.36,964.72 L411.98,967.61 L412.59,970.42 L413.21,973.15 L413.83,975.81 L414.44,978.39 L415.06,980.91 L415.68,983.36 L416.30,985.75 L416.92,988.07 L417.53,990.33 L418.15,992.54 L418.77,994.68 L419.38,996.77 L420.00,998.81 L420.62,1000.80 L421.24,1002.74 L421.86,1004.63 L422.47,1006.47 L423.09,1008.27 L423.71,1010.03 L424.32,1011.74 L424.94,1013.41 L425.56,1015.05 L426.18,1016.64 L426.80,1018.20 L427.41,1019.72 L428.03,1021.21 L428.65,1022.67 L429.27,1024.09 L429.88,1025.48 L430.50,1026.84 L431.12,1028.17 L431.74,1029.47 L432.35,1030.74 L432.97,1031.99 L433.59,1033.21 L434.20,1034.40 L434.82,1035.57 L435.44,1036.72 L436.06,1037.84 L436.68,1038.94 L437.29,1040.02 L437.91,1041.07 L438.53,1042.10 L439.14,1043.12 L439.76,1044.11 L440.38,1045.09 L441.00,1046.04 L441.61,1046.98 L442.23,1047.90 L442.85,1048.80 L443.47,1049.69 L444.08,1050.56 L444.70,1051.41 L445.32,1052.25 L445.94,1053.07 L446.56,1053.88 L447.17,1054.67 L447.79,1055.45 L448.41,1056.21 L449.02,1056.96 L449.64,1057.70 L450.26,1058.43 L450.88,1059.14 L451.50,1059.84 L452.11,1060.53 L452.73,1061.20 L453.35,1061.87 L453.96,1062.52 L454.58,1063.17 L455.20,1063.80 L455.82,1064.42 L456.44,1065.03 L457.05,1065.64 L457.67,1066.23 L458.29,1066.81 L458.91,1067.39 L459.52,1067.95 L460.14,1068.51 L460.76,1069.05 L461.38,1069.59 L461.99,1070.12 L462.61,1070.65 L463.23,1071.16 L463.84,1071.67 L464.46,1072.16 L465.08,1072.66 L465.70,1073.14 L466.31,1073.62 L466.93,1074.09 L467.55,1074.55 L468.17,1075.00 L468.79,1075.45 L469.40,1075.89 L470.02,1076.33 L470.64,1076.76 L471.25,1077.18 L471.87,1077.60 L472.49,1078.01 L473.11,1078.42 L473.73,1078.82 L474.34,1079.21 L474.96,1079.60 L475.58,1079.98 L476.19,1080.36 L476.81,1080.73 L477.43,1081.10 L478.05,1081.47 L478.67,1081.82 L479.28,1082.18 L479.90,1082.52 L480.52,1082.87 L481.13,1083.21 L481.75,1083.54 L482.37,1083.87 L482.99,1084.19 L483.61,1084.52 L484.22,1084.83 L484.84,1085.14 L485.46,1085.45 L486.07,1085.76 L486.69,1086.06 L487.31,1086.35 L487.93,1086.65 L488.54,1086.94 L489.16,1087.22 L489.78,1087.50 L490.40,1087.78 L491.01,1088.05 L491.63,1088.33 L492.25,1088.59 L492.87,1088.86 L493.48,1089.12 L494.10,1089.37 L494.72,1089.63 L495.34,1089.88 L495.96,1090.13 L496.57,1090.37 L497.19,1090.61 L497.81,1090.85 L498.42,1091.09 L499.04,1091.32 L499.66,1091.55 L500.28,1091.78 L500.89,1092.00 L501.51,1092.22 L502.13,1092.44 L502.75,1092.66 L503.37,1092.87 L503.98,1093.08 L504.60,1093.29 L505.22,1093.50 L505.84,1093.70 L506.45,1093.90 L507.07,1094.10 L507.69,1094.29 L508.30,1094.49 L508.92,1094.68 L509.54,1094.87 L510.16,1095.05 L510.77,1095.24 L511.39,1095.42 L512.01,1095.60 L512.63,1095.78 L513.25,1095.95 L513.86,1096.13 L514.48,1096.30 L515.10,1096.47 L515.71,1096.63 L516.33,1096.80 L516.95,1096.96 L517.57,1097.12 L518.18,1097.28 L518.80,1097.44 L519.42,1097.59 L520.04,1097.75 L520.65,1097.90 L521.27,1098.05 L521.89,1098.20 L522.51,1098.34 L523.12,1098.49 L523.74,1098.63 L524.36,1098.77 L524.98,1098.91 L525.60,1099.05 L526.21,1099.18 L526.83,1099.32 L527.45,1099.45 L528.07,1099.58 L528.68,1099.71 L529.30,1099.84 L529.92,1099.96 L530.53,1100.09 L531.15,1100.21 L531.77,1100.33 L532.39,1100.45 L533.00,1100.57 L533.62,1100.69 L534.24,1100.80 L534.86,1100.92 L535.47,1101.03 L536.09,1101.14 L536.71,1101.25 L537.33,1101.36 L537.94,1101.46 L538.56,1101.57 L539.18,1101.67 L539.80,1101.78 L540.41,1101.88 L541.03,1101.98 L541.65,1102.08 L542.27,1102.17 L542.88,1102.27 L543.50,1102.36 L544.12,1102.46 L544.74,1102.55 L545.36,1102.64 L545.97,1102.73 L546.59,1102.82 L547.21,1102.91 L547.83,1102.99 L548.44,1103.08 L549.06,1103.16 L549.68,1103.24 L550.30,1103.33 L550.91,1103.41 L551.53,1103.48 L552.15,1103.56 L552.76,1103.64 L553.38,1103.71 L554.00,1103.79 L554.62,1103.86 L555.23,1103.93 L555.85,1104.01 L556.47,1104.08 L557.09,1104.14 L557.70,1104.21 L558.32,1104.28 L558.94,1104.35 L559.56,1104.41 L560.17,1104.47 L560.79,1104.54 L561.41,1104.60 L562.03,1104.66 L562.64,1104.72 L563.26,1104.78 L563.88,1104.83 L564.50,1104.89 L565.12,1104.95 L565.73,1105.00 L566.35,1105.05 L566.97,1105.11 L567.59,1105.16 L568.20,1105.21 L568.82,1105.26 L569.44,1105.31 L570.06,1105.35 L570.67,1105.40 L571.29,1105.45 L571.91,1105.49 L572.52,1105.54 L573.14,1105.58 L573.76,1105.62 L574.38,1105.66 L575.00,1105.70 L575.61,1105.74 L576.23,1105.78 L576.85,1105.82 L577.46,1105.85 L578.08,1105.89 L578.70,1105.92 L579.32,1105.96 L579.93,1105.99 L580.55,1106.02 L581.17,1106.05 L581.79,1106.08 L582.40,1106.11 L583.02,1106.14 L583.64,1106.17 L584.26,1106.20 L584.88,1106.22 L585.49,1106.25 L586.11,1106.27 L586.73,1106.29 L587.35,1106.32 L587.96,1106.34 L588.58,1106.36 L589.20,1106.38 L589.82,1106.40 L590.43,1106.42 L591.05,1106.43 L591.67,1106.45 L592.28,1106.46 L592.90,1106.48 L593.52,1106.49 L594.14,1106.51 L594.75,1106.52 L595.37,1106.53 L595.99,1106.54 L596.61,1106.55 L597.23,1106.56 L597.84,1106.57 L598.46,1106.57 L599.08,1106.58 L599.69,1106.58 L600.31,1106.59 L600.93,1106.59 L601.55,1106.60 L602.16,1106.60 L602.78,1106.60 L603.40,1106.60" fill="none" stroke="#ff1e0e" stroke-width="8.4" stroke-linejoin="round" stroke-linecap="butt" clip-path="url(#clipc)"/>
<path d="M800.80,1096.50 L801.07,1092.86 L801.43,1087.99 L801.86,1082.18 L802.34,1075.75 L802.85,1068.98 L803.37,1062.19 L803.90,1055.66 L804.40,1049.70 L804.90,1044.19 L805.41,1038.79 L805.93,1033.48 L806.46,1028.23 L806.99,1023.01 L807.53,1017.80 L808.07,1012.57 L808.60,1007.30 L809.13,1001.99 L809.67,996.68 L810.21,991.37 L810.75,986.05 L811.29,980.73 L811.83,975.42 L812.37,970.11 L812.90,964.80 L813.43,959.47 L813.97,954.12 L814.50,948.75 L815.04,943.39 L815.57,938.05 L816.09,932.77 L816.60,927.54 L817.10,922.40 L817.58,917.31 L818.05,912.26 L818.50,907.24 L818.95,902.28 L819.40,897.39 L819.85,892.59 L820.32,887.89 L820.80,883.30 L821.30,878.86 L821.80,874.57 L822.30,870.39 L822.82,866.29 L823.34,862.23 L823.88,858.19 L824.43,854.12 L825.00,850.00 L825.59,845.84 L826.21,841.68 L826.85,837.52 L827.50,833.36 L828.15,829.19 L828.79,825.03 L829.41,820.87 L830.00,816.70 L830.54,812.53 L831.03,808.35 L831.49,804.18 L831.94,800.00 L832.42,795.82 L832.94,791.65 L833.52,787.47 L834.20,783.30 L834.99,779.05 L835.87,774.68 L836.82,770.26 L837.82,765.87 L838.83,761.58 L839.83,757.46 L840.80,753.57 L841.70,750.00 L842.53,746.72 L843.32,743.64 L844.08,740.77 L844.83,738.09 L845.58,735.58 L846.35,733.24 L847.15,731.05 L848.00,729.00 L848.91,727.04 L849.86,725.17 L850.84,723.42 L851.84,721.86 L852.85,720.51 L853.86,719.44 L854.84,718.69 L855.80,718.30 L856.73,718.33 L857.65,718.74 L858.55,719.49 L859.45,720.50 L860.34,721.72 L861.23,723.08 L862.11,724.53 L863.00,726.00 L863.89,727.52 L864.77,729.14 L865.65,730.89 L866.53,732.77 L867.41,734.78 L868.28,736.93 L869.14,739.24 L870.00,741.70 L870.85,744.32 L871.70,747.10 L872.54,750.03 L873.37,753.10 L874.21,756.31 L875.04,759.65 L875.87,763.11 L876.70,766.70 L877.53,770.47 L878.35,774.44 L879.18,778.58 L880.00,782.83 L880.82,787.15 L881.65,791.48 L882.47,795.78 L883.30,800.00 L884.13,804.16 L884.95,808.32 L885.77,812.48 L886.59,816.64 L887.42,820.81 L888.27,824.97 L889.12,829.13 L890.00,833.30 L890.91,837.55 L891.85,841.93 L892.82,846.35 L893.79,850.75 L894.76,855.06 L895.71,859.20 L896.63,863.10 L897.50,866.70 L898.34,870.00 L899.16,873.07 L899.96,875.93 L900.73,878.61 L901.48,881.14 L902.19,883.53 L902.87,885.81 L903.50,888.00 L904.05,889.95 L904.50,891.58 L904.88,893.00 L905.25,894.34 L905.63,895.71 L906.08,897.23 L906.62,899.02 L907.30,901.20 L908.13,903.81 L909.07,906.76 L910.11,909.96 L911.21,913.32 L912.34,916.76 L913.49,920.19 L914.61,923.53 L915.70,926.70 L916.76,929.70 L917.82,932.63 L918.88,935.51 L919.94,938.36 L921.01,941.21 L922.07,944.08 L923.14,947.00 L924.20,950.00 L925.26,953.07 L926.33,956.20 L927.39,959.37 L928.45,962.56 L929.51,965.78 L930.58,968.99 L931.64,972.21 L932.70,975.40 L933.76,978.60 L934.83,981.82 L935.89,985.05 L936.95,988.28 L938.01,991.49 L939.08,994.68 L940.14,997.82 L941.20,1000.90 L942.26,1003.93 L943.33,1006.93 L944.39,1009.89 L945.45,1012.82 L946.51,1015.71 L947.58,1018.57 L948.64,1021.40 L949.70,1024.20 L950.76,1026.96 L951.83,1029.70 L952.89,1032.40 L953.96,1035.06 L955.02,1037.70 L956.08,1040.30 L957.14,1042.86 L958.20,1045.40 L959.24,1047.91 L960.27,1050.40 L961.29,1052.86 L962.31,1055.29 L963.34,1057.67 L964.40,1060.01 L965.48,1062.28 L966.60,1064.50 L967.76,1066.67 L968.94,1068.79 L970.15,1070.88 L971.39,1072.91 L972.64,1074.87 L973.91,1076.76 L975.20,1078.58 L976.50,1080.30 L977.83,1081.96 L979.21,1083.59 L980.62,1085.15 L982.04,1086.64 L983.46,1088.02 L984.85,1089.27 L986.20,1090.37 L987.50,1091.30 L988.72,1092.04 L989.88,1092.59 L991.00,1093.00 L992.10,1093.28 L993.20,1093.46 L994.32,1093.57 L995.48,1093.64 L996.70,1093.70 L998.00,1093.70 L999.37,1093.61 L1000.78,1093.44 L1002.21,1093.21 L1003.64,1092.96 L1005.04,1092.71 L1006.40,1092.48 L1007.70,1092.30 L1008.92,1092.12 L1010.06,1091.91 L1011.17,1091.69 L1012.25,1091.48 L1013.33,1091.31 L1014.44,1091.21 L1015.58,1091.20 L1016.80,1091.30 L1018.08,1091.51 L1019.42,1091.81 L1020.79,1092.19 L1022.18,1092.63 L1023.59,1093.14 L1025.01,1093.71 L1026.41,1094.33 L1027.80,1095.00 L1029.16,1095.72 L1030.51,1096.51 L1031.84,1097.35 L1033.18,1098.25 L1034.54,1099.20 L1035.92,1100.19 L1037.33,1101.23 L1038.80,1102.30 L1040.32,1103.44 L1041.89,1104.67 L1043.50,1105.96 L1045.14,1107.29 L1046.79,1108.62 L1048.44,1109.94 L1050.08,1111.20 L1051.70,1112.40 L1053.30,1113.55 L1054.91,1114.69 L1056.51,1115.81 L1058.11,1116.89 L1059.70,1117.94 L1061.30,1118.93 L1062.90,1119.85 L1064.50,1120.70 L1066.09,1121.47 L1067.66,1122.17 L1069.22,1122.80 L1070.78,1123.38 L1072.36,1123.91 L1073.97,1124.41 L1075.61,1124.87 L1077.30,1125.30 L1079.05,1125.70 L1080.84,1126.05 L1082.67,1126.36 L1084.53,1126.63 L1086.40,1126.88 L1088.28,1127.10 L1090.15,1127.30 L1092.00,1127.50 L1093.84,1127.66 L1095.68,1127.77 L1097.52,1127.85 L1099.36,1127.92 L1101.19,1127.99 L1103.03,1128.08 L1104.87,1128.21 L1106.70,1128.40 L1108.53,1128.64 L1110.35,1128.91 L1112.18,1129.21 L1114.00,1129.54 L1115.82,1129.90 L1117.65,1130.28 L1119.47,1130.68 L1121.30,1131.10 L1123.12,1131.54 L1124.92,1132.01 L1126.72,1132.51 L1128.52,1133.02 L1130.34,1133.56 L1132.19,1134.12 L1134.07,1134.70 L1136.00,1135.30 L1138.10,1135.96 L1140.41,1136.71 L1142.82,1137.51 L1145.22,1138.31 L1147.51,1139.08 L1149.57,1139.78 L1151.31,1140.37 L1152.60,1140.80" fill="none" stroke="#45bf24" stroke-width="8.5" stroke-linejoin="round" stroke-linecap="butt"/>
<path d="M799.50,1136.60 L800.46,1134.96 L801.75,1132.79 L803.29,1130.20 L804.99,1127.33 L806.77,1124.28 L808.56,1121.20 L810.26,1118.19 L811.80,1115.40 L813.21,1112.76 L814.57,1110.15 L815.90,1107.54 L817.21,1104.93 L818.50,1102.30 L819.79,1099.65 L821.09,1096.95 L822.40,1094.20 L823.73,1091.39 L825.05,1088.53 L826.38,1085.62 L827.70,1082.69 L829.02,1079.74 L830.35,1076.78 L831.67,1073.83 L833.00,1070.90 L834.33,1067.99 L835.65,1065.10 L836.98,1062.22 L838.30,1059.33 L839.62,1056.43 L840.95,1053.49 L842.27,1050.52 L843.60,1047.50 L844.93,1044.41 L846.25,1041.24 L847.58,1038.03 L848.90,1034.79 L850.23,1031.56 L851.55,1028.35 L852.88,1025.19 L854.20,1022.10 L855.53,1019.09 L856.85,1016.13 L858.18,1013.21 L859.50,1010.33 L860.83,1007.45 L862.15,1004.58 L863.48,1001.70 L864.80,998.80 L866.12,995.85 L867.45,992.85 L868.77,989.84 L870.10,986.83 L871.42,983.86 L872.75,980.94 L874.07,978.12 L875.40,975.40 L876.73,972.77 L878.05,970.20 L879.38,967.68 L880.70,965.24 L882.02,962.88 L883.35,960.61 L884.67,958.45 L886.00,956.40 L887.32,954.47 L888.65,952.65 L889.97,950.93 L891.29,949.31 L892.62,947.78 L893.94,946.32 L895.27,944.93 L896.60,943.60 L897.94,942.33 L899.30,941.14 L900.66,940.01 L902.02,938.96 L903.37,937.99 L904.71,937.11 L906.02,936.31 L907.30,935.60 L908.53,934.97 L909.71,934.41 L910.85,933.93 L911.99,933.53 L913.13,933.23 L914.30,933.04 L915.52,932.96 L916.80,933.00 L918.16,933.15 L919.60,933.39 L921.07,933.74 L922.58,934.19 L924.10,934.77 L925.60,935.47 L927.08,936.31 L928.50,937.30 L929.88,938.47 L931.23,939.84 L932.56,941.35 L933.87,942.99 L935.17,944.71 L936.48,946.48 L937.78,948.25 L939.10,950.00 L940.43,951.78 L941.75,953.65 L943.08,955.58 L944.40,957.53 L945.73,959.47 L947.05,961.35 L948.38,963.14 L949.70,964.80 L951.05,966.38 L952.43,967.92 L953.82,969.41 L955.20,970.82 L956.56,972.15 L957.88,973.37 L959.13,974.46 L960.30,975.40 L961.36,976.26 L962.32,977.08 L963.20,977.82 L964.04,978.43 L964.88,978.85 L965.75,979.06 L966.68,978.99 L967.70,978.60 L968.83,977.85 L970.05,976.76 L971.33,975.39 L972.63,973.80 L973.94,972.05 L975.22,970.19 L976.45,968.29 L977.60,966.40 L978.67,964.50 L979.68,962.53 L980.65,960.49 L981.59,958.35 L982.51,956.12 L983.43,953.79 L984.35,951.35 L985.30,948.80 L986.26,946.11 L987.22,943.27 L988.19,940.31 L989.15,937.25 L990.11,934.13 L991.07,930.96 L992.04,927.78 L993.00,924.60 L993.96,921.36 L994.92,918.00 L995.89,914.57 L996.85,911.12 L997.81,907.71 L998.77,904.39 L999.74,901.20 L1000.70,898.20 L1001.67,895.35 L1002.65,892.58 L1003.64,889.90 L1004.62,887.34 L1005.59,884.89 L1006.55,882.58 L1007.49,880.41 L1008.40,878.40 L1009.29,876.55 L1010.15,874.85 L1011.00,873.29 L1011.84,871.87 L1012.65,870.57 L1013.45,869.40 L1014.24,868.35 L1015.00,867.40 L1015.73,866.56 L1016.40,865.83 L1017.05,865.21 L1017.68,864.72 L1018.32,864.35 L1019.00,864.13 L1019.71,864.04 L1020.50,864.10 L1021.35,864.28 L1022.24,864.57 L1023.18,864.99 L1024.14,865.54 L1025.14,866.26 L1026.15,867.17 L1027.17,868.27 L1028.20,869.60 L1029.25,871.19 L1030.32,873.05 L1031.42,875.12 L1032.53,877.37 L1033.65,879.75 L1034.77,882.21 L1035.89,884.71 L1037.00,887.20 L1038.11,889.77 L1039.23,892.49 L1040.35,895.32 L1041.47,898.20 L1042.58,901.08 L1043.68,903.91 L1044.75,906.63 L1045.80,909.20 L1046.82,911.67 L1047.80,914.13 L1048.77,916.53 L1049.72,918.85 L1050.66,921.07 L1051.60,923.15 L1052.55,925.07 L1053.50,926.80 L1054.45,928.41 L1055.40,929.94 L1056.34,931.36 L1057.28,932.62 L1058.23,933.68 L1059.20,934.50 L1060.18,935.02 L1061.20,935.20 L1062.25,935.08 L1063.32,934.70 L1064.42,934.07 L1065.53,933.18 L1066.65,932.01 L1067.77,930.56 L1068.89,928.83 L1070.00,926.80 L1071.12,924.39 L1072.25,921.57 L1073.40,918.41 L1074.54,915.00 L1075.66,911.41 L1076.75,907.73 L1077.81,904.03 L1078.80,900.40 L1079.73,896.78 L1080.60,893.06 L1081.44,889.27 L1082.24,885.41 L1083.02,881.50 L1083.80,877.56 L1084.59,873.59 L1085.40,869.60 L1086.23,865.57 L1087.05,861.45 L1087.88,857.29 L1088.70,853.10 L1089.53,848.91 L1090.35,844.75 L1091.18,840.63 L1092.00,836.60 L1092.83,832.61 L1093.65,828.64 L1094.47,824.70 L1095.30,820.79 L1096.12,816.93 L1096.95,813.14 L1097.77,809.42 L1098.60,805.80 L1099.41,802.25 L1100.20,798.76 L1100.98,795.34 L1101.76,791.98 L1102.56,788.70 L1103.40,785.51 L1104.27,782.41 L1105.20,779.40 L1106.19,776.45 L1107.25,773.53 L1108.34,770.68 L1109.46,767.92 L1110.60,765.29 L1111.75,762.82 L1112.88,760.55 L1114.00,758.50 L1115.11,756.69 L1116.23,755.08 L1117.35,753.66 L1118.47,752.41 L1119.58,751.29 L1120.68,750.30 L1121.75,749.41 L1122.80,748.60 L1123.80,747.88 L1124.75,747.26 L1125.67,746.77 L1126.58,746.38 L1127.50,746.11 L1128.45,745.96 L1129.44,745.92 L1130.50,746.00 L1131.64,746.23 L1132.85,746.61 L1134.10,747.13 L1135.38,747.76 L1136.67,748.46 L1137.95,749.22 L1139.20,750.01 L1140.40,750.80 L1141.58,751.64 L1142.78,752.58 L1143.98,753.59 L1145.15,754.64 L1146.28,755.68 L1147.34,756.70 L1148.32,757.65 L1149.20,758.50 L1149.98,759.29 L1150.69,760.06 L1151.33,760.79 L1151.90,761.48 L1152.40,762.11 L1152.83,762.66 L1153.20,763.13 L1153.50,763.50" fill="none" stroke="#ff33ff" stroke-width="8.5" stroke-linejoin="round" stroke-linecap="butt"/>
<rect x="137.5" y="122.0" width="409.00" height="408.50" fill="none" stroke="#000" stroke-width="2.2"/>
<line x1="137.50" y1="530.50" x2="137.50" y2="523.70" stroke="#000" stroke-width="2.2" stroke-linecap="butt"/>
<line x1="342.00" y1="530.50" x2="342.00" y2="523.70" stroke="#000" stroke-width="2.2" stroke-linecap="butt"/>
<line x1="546.50" y1="530.50" x2="546.50" y2="523.70" stroke="#000" stroke-width="2.2" stroke-linecap="butt"/>
<line x1="137.50" y1="530.50" x2="144.30" y2="530.50" stroke="#000" stroke-width="2.2" stroke-linecap="butt"/>
<line x1="137.50" y1="428.38" x2="144.30" y2="428.38" stroke="#000" stroke-width="2.2" stroke-linecap="butt"/>
<line x1="137.50" y1="326.25" x2="144.30" y2="326.25" stroke="#000" stroke-width="2.2" stroke-linecap="butt"/>
<line x1="137.50" y1="224.12" x2="144.30" y2="224.12" stroke="#000" stroke-width="2.2" stroke-linecap="butt"/>
<line x1="137.50" y1="122.00" x2="144.30" y2="122.00" stroke="#000" stroke-width="2.2" stroke-linecap="butt"/>
<rect x="743.0" y="92.2" width="443.00" height="442.30" fill="none" stroke="#000" stroke-width="2.2"/>
<line x1="743.00" y1="534.50" x2="743.00" y2="527.70" stroke="#000" stroke-width="2.2" stroke-linecap="butt"/>
<line x1="964.50" y1="534.50" x2="964.50" y2="527.70" stroke="#000" stroke-width="2.2" stroke-linecap="butt"/>
<line x1="1186.00" y1="534.50" x2="1186.00" y2="527.70" stroke="#000" stroke-width="2.2" stroke-linecap="butt"/>
<line x1="743.00" y1="534.50" x2="749.80" y2="534.50" stroke="#000" stroke-width="2.2" stroke-linecap="butt"/>
<line x1="743.00" y1="313.35" x2="749.80" y2="313.35" stroke="#000" stroke-width="2.2" stroke-linecap="butt"/>
<line x1="743.00" y1="92.20" x2="749.80" y2="92.20" stroke="#000" stroke-width="2.2" stroke-linecap="butt"/>
<rect x="158.8" y="707.0" width="444.60" height="444.00" fill="none" stroke="#000" stroke-width="2.2"/>
<line x1="158.80" y1="1151.00" x2="158.80" y2="1144.20" stroke="#000" stroke-width="2.2" stroke-linecap="butt"/>
<line x1="381.10" y1="1151.00" x2="381.10" y2="1144.20" stroke="#000" stroke-width="2.2" stroke-linecap="butt"/>
<line x1="603.40" y1="1151.00" x2="603.40" y2="1144.20" stroke="#000" stroke-width="2.2" stroke-linecap="butt"/>
<line x1="158.80" y1="1151.00" x2="165.60" y2="1151.00" stroke="#000" stroke-width="2.2" stroke-linecap="butt"/>
<line x1="158.80" y1="929.00" x2="165.60" y2="929.00" stroke="#000" stroke-width="2.2" stroke-linecap="butt"/>
<line x1="158.80" y1="707.00" x2="165.60" y2="707.00" stroke="#000" stroke-width="2.2" stroke-linecap="butt"/>
<rect x="757.0" y="706.5" width="439.30" height="439.75" fill="none" stroke="#000" stroke-width="2.2"/>
<line x1="757.00" y1="1146.25" x2="757.00" y2="1139.45" stroke="#000" stroke-width="2.2" stroke-linecap="butt"/>
<line x1="976.65" y1="1146.25" x2="976.65" y2="1139.45" stroke="#000" stroke-width="2.2" stroke-linecap="butt"/>
<line x1="1196.30" y1="1146.25" x2="1196.30" y2="1139.45" stroke="#000" stroke-width="2.2" stroke-linecap="butt"/>
<line x1="757.00" y1="1146.25" x2="763.80" y2="1146.25" stroke="#000" stroke-width="2.2" stroke-linecap="butt"/>
<line x1="757.00" y1="963.02" x2="763.80" y2="963.02" stroke="#000" stroke-width="2.2" stroke-linecap="butt"/>
<line x1="757.00" y1="779.79" x2="763.80" y2="779.79" stroke="#000" stroke-width="2.2" stroke-linecap="butt"/>
<rect x="341.3" y="2.25" width="193.9" height="59.65" fill="#aefdb9"/>
<line x1="57.50" y1="29.90" x2="150.00" y2="29.90" stroke="#000" stroke-width="4.2" stroke-linecap="butt"/>
<line x1="265.00" y1="29.90" x2="380.00" y2="29.90" stroke="#000" stroke-width="4.2" stroke-linecap="butt"/>
<line x1="494.60" y1="29.90" x2="584.70" y2="29.90" stroke="#000" stroke-width="4.2" stroke-linecap="butt"/>
<line x1="57.50" y1="39.30" x2="150.00" y2="39.30" stroke="#000" stroke-width="4.2" stroke-linecap="butt"/>
<line x1="265.00" y1="39.30" x2="380.00" y2="39.30" stroke="#000" stroke-width="4.2" stroke-linecap="butt"/>
<line x1="494.60" y1="39.30" x2="584.70" y2="39.30" stroke="#000" stroke-width="4.2" stroke-linecap="butt"/>
<line x1="150.00" y1="34.50" x2="265.00" y2="34.50" stroke="#000" stroke-width="3.8" stroke-linecap="butt"/>
<line x1="380.00" y1="34.50" x2="494.60" y2="34.50" stroke="#000" stroke-width="3.8" stroke-linecap="butt"/>
<circle cx="150.3" cy="33.3" r="26" fill="#ff1e0e"/>
<circle cx="265" cy="33.3" r="26.2" fill="#1600ff"/>
<circle cx="379.9" cy="33.2" r="25.7" fill="#ff1e0e"/>
<circle cx="494.6" cy="33.2" r="26" fill="#1600ff"/>
<path d="M198.94,48.18 L193.02,66.89 C192.15,71.35 192.85,74.61 195.28,74.50" fill="none" stroke="#000" stroke-width="3.33" stroke-linecap="round"/><path d="M195.28,74.50 C198.24,74.32 201.72,71.64 203.46,68.67" fill="none" stroke="#000" stroke-width="2.23" stroke-linecap="round"/><path d="M188.15,56.59 L204.57,56.59" fill="none" stroke="#000" stroke-width="1.84"/>
<line x1="209.00" y1="74.20" x2="237.40" y2="74.20" stroke="#000" stroke-width="2.3" stroke-linecap="butt"/>
<line x1="223.20" y1="62.70" x2="223.20" y2="85.60" stroke="#000" stroke-width="2.3" stroke-linecap="butt"/>
<path d="M308.81,50.52 L303.44,68.60 C302.65,72.91 303.28,76.06 305.49,75.95" fill="none" stroke="#000" stroke-width="3.21" stroke-linecap="round"/><path d="M305.49,75.95 C308.18,75.78 311.34,73.19 312.92,70.33" fill="none" stroke="#000" stroke-width="2.15" stroke-linecap="round"/><path d="M299.02,58.64 L313.93,58.64" fill="none" stroke="#000" stroke-width="1.78"/>
<line x1="316.30" y1="76.00" x2="337.20" y2="76.00" stroke="#000" stroke-width="2.2" stroke-linecap="butt"/>
<line x1="378.90" y1="67.30" x2="362.80" y2="94.60" stroke="#000" stroke-width="1.45" stroke-linecap="round"/>
<path d="M378.3,66.3 L380.3,66.1 L383.0,95.3 L379.0,95.3 Z" fill="#000"/>
<line x1="368.00" y1="85.80" x2="379.80" y2="85.80" stroke="#000" stroke-width="1.35" stroke-linecap="butt"/>
<line x1="357.60" y1="95.35" x2="366.30" y2="95.35" stroke="#000" stroke-width="1.5" stroke-linecap="round"/>
<path d="M361.2,94.6 L363.6,91.8 L365.2,94.6 Z" fill="#000"/>
<line x1="375.40" y1="95.35" x2="386.00" y2="95.35" stroke="#000" stroke-width="1.5" stroke-linecap="round"/>
<text transform="translate(476.87,95.37) scale(1.0523,0.9197)" style="font-family:'Liberation Serif', serif;font-style:italic;font-size:48px">B</text>
<text transform="translate(30.06,127.40) scale(0.9608,0.9981)" style="font-family:'Liberation Sans', sans-serif;font-weight:bold;font-size:48px">a</text>
<text transform="translate(611.56,127.80) scale(1.0598,1.0014)" style="font-family:'Liberation Sans', sans-serif;font-weight:bold;font-size:48px">b</text>
<text transform="translate(16.33,724.90) scale(1.0681,0.9981)" style="font-family:'Liberation Sans', sans-serif;font-weight:bold;font-size:48px">c</text>
<text transform="translate(639.87,724.81) scale(1.0639,0.9844)" style="font-family:'Liberation Sans', sans-serif;font-weight:bold;font-size:48px">d</text>
<text transform="translate(90.61,150.10) scale(1.0759,1.0209)" style="font-family:'Liberation Sans', sans-serif;stroke:#000;stroke-width:0.55px;font-size:48px">2</text>
<text transform="translate(92.12,342.39) scale(1.0174,1.0206)" style="font-family:'Liberation Sans', sans-serif;stroke:#000;stroke-width:0.55px;font-size:48px">0</text>
<text transform="translate(93.39,537.70) scale(1.0437,1.0060)" style="font-family:'Liberation Sans', sans-serif;stroke:#000;stroke-width:0.55px;font-size:48px">2</text>
<line x1="78.70" y1="524.00" x2="93.00" y2="524.00" stroke="#000" stroke-width="4.5" stroke-linecap="butt"/>
<text transform="translate(126.85,579.29) scale(1.0000,1.0147)" style="font-family:'Liberation Sans', sans-serif;stroke:#000;stroke-width:0.55px;font-size:48px">0</text>
<path d="M709.80,93.50 L714.30,93.50 L714.30,127.50 L709.80,127.50 L709.80,103.70 L700.80,103.70 L700.80,99.96 C704.85,99.96 708.63,98.26 709.80,93.50 Z" fill="#000"/>
<text transform="translate(665.26,334.99) scale(0.9960,1.0147)" style="font-family:'Liberation Sans', sans-serif;stroke:#000;stroke-width:0.55px;font-size:48px">0.5</text>
<text transform="translate(698.33,544.00) scale(0.9565,1.0000)" style="font-family:'Liberation Sans', sans-serif;stroke:#000;stroke-width:0.55px;font-size:48px">0</text>
<text transform="translate(737.71,576.30) scale(1.0217,0.9941)" style="font-family:'Liberation Sans', sans-serif;stroke:#000;stroke-width:0.55px;font-size:48px">0</text>
<path d="M126.57,707.40 L131.20,707.40 L131.20,741.50 L126.57,741.50 L126.57,717.63 L117.30,717.63 L117.30,713.88 C121.47,713.88 125.36,712.17 126.57,707.40 Z" fill="#000"/>
<text transform="translate(82.01,948.70) scale(0.9921,1.0059)" style="font-family:'Liberation Sans', sans-serif;stroke:#000;stroke-width:0.55px;font-size:48px">0.5</text>
<text transform="translate(113.40,1158.00) scale(1.0261,1.0000)" style="font-family:'Liberation Sans', sans-serif;stroke:#000;stroke-width:0.55px;font-size:48px">0</text>
<text transform="translate(153.96,1190.01) scale(1.0522,0.9853)" style="font-family:'Liberation Sans', sans-serif;stroke:#000;stroke-width:0.55px;font-size:48px">0</text>
<text transform="translate(690.95,793.01) scale(1.0204,0.9853)" style="font-family:'Liberation Sans', sans-serif;stroke:#000;stroke-width:0.55px;font-size:48px">20</text>
<path d="M705.67,944.25 L709.50,944.25 L709.50,978.50 L705.67,978.50 L705.67,954.52 L698.00,954.52 L698.00,950.76 C701.45,950.76 704.67,949.04 705.67,944.25 Z" fill="#000"/>
<text transform="translate(718.50,978.49) scale(1.0000,1.0221)" style="font-family:'Liberation Sans', sans-serif;stroke:#000;stroke-width:0.55px;font-size:48px">0</text>
<text transform="translate(713.20,1158.50) scale(1.0304,0.9926)" style="font-family:'Liberation Sans', sans-serif;stroke:#000;stroke-width:0.55px;font-size:48px">0</text>
<text transform="translate(741.79,1198.25) scale(0.9783,0.9926)" style="font-family:'Liberation Sans', sans-serif;stroke:#000;stroke-width:0.55px;font-size:48px">0</text>
<text transform="translate(945.25,1198.25) scale(1.0000,0.9926)" style="font-family:'Liberation Sans', sans-serif;stroke:#000;stroke-width:0.55px;font-size:48px">0.5</text>
<path d="M1191.04,1165.00 L1195.80,1165.00 L1195.80,1199.00 L1191.04,1199.00 L1191.04,1175.20 L1181.50,1175.20 L1181.50,1171.46 C1185.79,1171.46 1189.79,1169.76 1191.04,1165.00 Z" fill="#000"/>
<path d="M334.91,567.00 Q334.37,566.85 335.37,565.27 Q336.38,563.70 338.23,562.12 Q340.09,560.55 341.95,559.76 Q343.80,558.97 345.35,558.81 Q346.90,558.66 354.01,558.66 Q361.13,558.66 361.44,559.29 Q361.75,559.92 361.13,561.65 Q360.51,563.38 357.72,563.46 Q354.94,563.54 354.63,565.19 Q354.32,566.85 353.39,570.00 Q352.46,573.15 351.85,574.72 Q351.23,576.30 351.30,577.24 Q351.38,578.19 352.08,578.50 Q352.77,578.82 353.70,578.19 Q354.63,577.56 355.40,576.61 Q356.18,575.67 356.87,575.98 Q357.57,576.30 356.87,578.19 Q356.18,580.08 355.09,581.65 Q354.01,583.23 352.00,583.93 Q349.99,584.64 348.75,584.25 Q347.51,583.86 346.97,582.60 Q346.43,581.34 346.51,579.60 Q346.59,577.87 347.36,574.88 Q348.13,571.89 349.06,569.05 Q349.99,566.22 350.45,564.96 Q350.92,563.70 348.29,563.70 Q345.66,563.70 345.35,565.27 Q345.04,566.85 344.11,570.00 Q343.18,573.15 342.25,575.98 Q341.33,578.82 340.24,580.71 Q339.16,582.60 337.77,583.62 Q336.38,584.64 334.98,584.41 Q333.59,584.17 332.97,583.07 Q332.35,581.97 332.66,580.71 Q332.97,579.45 334.21,578.66 Q335.45,577.87 336.38,577.08 Q337.30,576.30 337.92,574.72 Q338.54,573.15 339.32,570.31 Q340.09,567.48 340.86,565.59 Q341.64,563.70 340.40,563.85 Q339.16,564.01 338.08,564.64 Q337.00,565.27 336.22,566.22 Q335.45,567.16 334.91,567.00 Z" fill="#000"/>
<path d="M510.89,556.33 Q510.36,555.97 510.89,554.52 Q511.42,553.08 512.67,550.73 Q513.91,548.39 515.69,546.95 Q517.47,545.50 519.61,545.05 Q521.74,544.60 524.23,545.23 Q526.73,545.86 528.68,547.67 Q530.64,549.47 531.53,552.18 Q532.42,554.88 532.06,557.41 Q531.71,559.94 530.28,562.46 Q528.86,564.99 526.37,567.87 Q523.88,570.76 520.68,574.91 L517.47,579.06 L524.23,579.06 L531.00,579.06 L532.06,578.16 Q533.13,577.26 534.02,576.17 L534.91,575.09 L535.36,575.45 L535.80,575.81 L534.11,579.78 L532.42,583.75 L521.39,583.75 L510.36,583.75 L510.27,583.03 L510.18,582.31 L512.76,579.78 Q515.34,577.26 518.54,574.01 Q521.74,570.76 523.88,567.87 Q526.01,564.99 526.73,562.10 Q527.44,559.21 527.26,556.87 Q527.08,554.52 526.19,552.72 Q525.30,550.91 523.52,550.01 Q521.74,549.11 519.61,549.47 Q517.47,549.83 516.05,550.91 Q514.63,552.00 513.56,553.80 Q512.49,555.61 511.96,556.15 Q511.42,556.69 510.89,556.33 Z" fill="#000"/>
<path d="M541.44,567.11 Q540.90,566.95 541.91,565.41 Q542.91,563.86 544.75,562.31 Q546.60,560.76 548.45,559.99 Q550.29,559.21 551.83,559.06 Q553.37,558.90 560.45,558.90 Q567.53,558.90 567.84,559.52 Q568.15,560.14 567.53,561.85 Q566.91,563.55 564.14,563.63 Q561.37,563.70 561.07,565.33 Q560.76,566.95 559.84,570.05 Q558.91,573.15 558.30,574.69 Q557.68,576.24 557.76,577.17 Q557.83,578.10 558.53,578.41 Q559.22,578.72 560.14,578.10 Q561.07,577.48 561.84,576.55 Q562.61,575.62 563.30,575.93 Q563.99,576.24 563.30,578.10 Q562.61,579.96 561.53,581.50 Q560.45,583.05 558.45,583.75 Q556.45,584.45 555.22,584.06 Q553.99,583.67 553.45,582.43 Q552.91,581.19 552.99,579.49 Q553.06,577.79 553.83,574.85 Q554.60,571.91 555.53,569.12 Q556.45,566.33 556.91,565.10 Q557.37,563.86 554.76,563.86 Q552.14,563.86 551.83,565.41 Q551.52,566.95 550.60,570.05 Q549.68,573.15 548.75,575.93 Q547.83,578.72 546.75,580.58 Q545.68,582.43 544.29,583.44 Q542.91,584.45 541.52,584.21 Q540.14,583.98 539.52,582.90 Q538.90,581.81 539.21,580.58 Q539.52,579.34 540.75,578.56 Q541.98,577.79 542.91,577.02 Q543.83,576.24 544.44,574.69 Q545.06,573.15 545.83,570.36 Q546.60,567.57 547.37,565.72 Q548.14,563.86 546.91,564.01 Q545.68,564.17 544.60,564.79 Q543.52,565.41 542.75,566.33 Q541.98,567.26 541.44,567.11 Z" fill="#000"/>
<path d="M946.05,564.75 Q945.52,564.59 946.51,563.07 Q947.49,561.54 949.31,560.01 Q951.13,558.49 952.95,557.72 Q954.77,556.96 956.28,556.81 Q957.80,556.65 964.77,556.65 Q971.74,556.65 972.05,557.26 Q972.35,557.87 971.74,559.55 Q971.14,561.23 968.41,561.31 Q965.68,561.39 965.38,562.99 Q965.07,564.59 964.16,567.65 Q963.25,570.70 962.65,572.23 Q962.04,573.75 962.12,574.67 Q962.19,575.59 962.88,575.89 Q963.56,576.20 964.47,575.59 Q965.38,574.98 966.13,574.06 Q966.89,573.14 967.57,573.45 Q968.26,573.75 967.57,575.59 Q966.89,577.42 965.83,578.95 Q964.77,580.47 962.80,581.16 Q960.83,581.85 959.62,581.47 Q958.40,581.08 957.87,579.86 Q957.34,578.64 957.42,576.96 Q957.50,575.28 958.25,572.38 Q959.01,569.48 959.92,566.73 Q960.83,563.98 961.28,562.76 Q961.74,561.54 959.16,561.54 Q956.59,561.54 956.28,563.07 Q955.98,564.59 955.07,567.65 Q954.16,570.70 953.25,573.45 Q952.34,576.20 951.28,578.03 Q950.22,579.86 948.86,580.85 Q947.49,581.85 946.13,581.62 Q944.76,581.39 944.16,580.32 Q943.55,579.25 943.85,578.03 Q944.16,576.81 945.37,576.04 Q946.58,575.28 947.49,574.52 Q948.40,573.75 949.01,572.23 Q949.61,570.70 950.37,567.95 Q951.13,565.20 951.89,563.37 Q952.65,561.54 951.43,561.69 Q950.22,561.84 949.16,562.46 Q948.10,563.07 947.34,563.98 Q946.58,564.90 946.05,564.75 Z" fill="#000"/>
<path d="M1136.15,553.14 Q1135.61,552.78 1136.15,551.34 Q1136.69,549.89 1137.96,547.54 Q1139.22,545.19 1141.02,543.75 Q1142.82,542.30 1144.99,541.85 Q1147.15,541.40 1149.68,542.03 Q1152.20,542.66 1154.19,544.47 Q1156.17,546.28 1157.07,548.99 Q1157.97,551.70 1157.61,554.23 Q1157.25,556.75 1155.81,559.28 Q1154.37,561.81 1151.84,564.70 Q1149.32,567.59 1146.07,571.75 L1142.82,575.90 L1149.68,575.90 L1156.53,575.90 L1157.61,575.00 Q1158.69,574.10 1159.60,573.01 L1160.50,571.93 L1160.95,572.29 L1161.40,572.65 L1159.69,576.63 L1157.97,580.60 L1146.79,580.60 L1135.61,580.60 L1135.52,579.88 L1135.43,579.15 L1138.05,576.63 Q1140.66,574.10 1143.91,570.85 Q1147.15,567.59 1149.32,564.70 Q1151.48,561.81 1152.20,558.92 Q1152.92,556.03 1152.74,553.68 Q1152.56,551.34 1151.66,549.53 Q1150.76,547.72 1148.96,546.82 Q1147.15,545.92 1144.99,546.28 Q1142.82,546.64 1141.38,547.72 Q1139.94,548.81 1138.86,550.61 Q1137.77,552.42 1137.23,552.96 Q1136.69,553.50 1136.15,553.14 Z" fill="#000"/>
<path d="M1166.48,563.91 Q1165.94,563.75 1166.94,562.19 Q1167.93,560.64 1169.77,559.08 Q1171.61,557.52 1173.45,556.75 Q1175.28,555.97 1176.82,555.81 Q1178.35,555.66 1185.39,555.66 Q1192.43,555.66 1192.74,556.28 Q1193.05,556.90 1192.43,558.61 Q1191.82,560.33 1189.07,560.40 Q1186.31,560.48 1186.00,562.12 Q1185.70,563.75 1184.78,566.87 Q1183.86,569.98 1183.25,571.54 Q1182.63,573.09 1182.71,574.03 Q1182.79,574.96 1183.48,575.27 Q1184.17,575.58 1185.08,574.96 Q1186.00,574.34 1186.77,573.40 Q1187.53,572.47 1188.22,572.78 Q1188.91,573.09 1188.22,574.96 Q1187.53,576.83 1186.46,578.39 Q1185.39,579.94 1183.40,580.64 Q1181.41,581.34 1180.18,580.96 Q1178.96,580.57 1178.42,579.32 Q1177.89,578.07 1177.96,576.36 Q1178.04,574.65 1178.81,571.69 Q1179.57,568.73 1180.49,565.93 Q1181.41,563.13 1181.87,561.88 Q1182.33,560.64 1179.72,560.64 Q1177.12,560.64 1176.82,562.19 Q1176.51,563.75 1175.59,566.87 Q1174.67,569.98 1173.75,572.78 Q1172.83,575.58 1171.76,577.45 Q1170.69,579.32 1169.31,580.33 Q1167.93,581.34 1166.56,581.11 Q1165.18,580.88 1164.57,579.79 Q1163.95,578.70 1164.26,577.45 Q1164.57,576.21 1165.79,575.43 Q1167.02,574.65 1167.93,573.87 Q1168.85,573.09 1169.47,571.54 Q1170.08,569.98 1170.84,567.18 Q1171.61,564.37 1172.38,562.51 Q1173.14,560.64 1171.92,560.79 Q1170.69,560.95 1169.62,561.57 Q1168.55,562.19 1167.78,563.13 Q1167.02,564.06 1166.48,563.91 Z" fill="#000"/>
<path d="M362.94,1177.77 Q362.41,1177.61 363.40,1176.05 Q364.38,1174.48 366.19,1172.91 Q368.00,1171.34 369.82,1170.56 Q371.63,1169.77 373.14,1169.61 Q374.65,1169.46 381.60,1169.46 Q388.54,1169.46 388.85,1170.08 Q389.15,1170.71 388.54,1172.44 Q387.94,1174.16 385.22,1174.24 Q382.50,1174.32 382.20,1175.97 Q381.90,1177.61 380.99,1180.75 Q380.09,1183.89 379.48,1185.46 Q378.88,1187.03 378.95,1187.97 Q379.03,1188.91 379.71,1189.22 Q380.39,1189.54 381.29,1188.91 Q382.20,1188.28 382.96,1187.34 Q383.71,1186.40 384.39,1186.71 Q385.07,1187.03 384.39,1188.91 Q383.71,1190.79 382.65,1192.36 Q381.60,1193.93 379.63,1194.64 Q377.67,1195.34 376.46,1194.95 Q375.25,1194.56 374.72,1193.30 Q374.20,1192.05 374.27,1190.32 Q374.35,1188.60 375.10,1185.62 Q375.86,1182.64 376.76,1179.81 Q377.67,1176.99 378.12,1175.73 Q378.58,1174.48 376.01,1174.48 Q373.44,1174.48 373.14,1176.05 Q372.84,1177.61 371.93,1180.75 Q371.02,1183.89 370.12,1186.71 Q369.21,1189.54 368.15,1191.42 Q367.10,1193.30 365.74,1194.32 Q364.38,1195.34 363.02,1195.11 Q361.66,1194.87 361.06,1193.77 Q360.45,1192.68 360.75,1191.42 Q361.06,1190.17 362.26,1189.38 Q363.47,1188.60 364.38,1187.81 Q365.28,1187.03 365.89,1185.46 Q366.49,1183.89 367.25,1181.07 Q368.00,1178.24 368.76,1176.36 Q369.51,1174.48 368.31,1174.63 Q367.10,1174.79 366.04,1175.42 Q364.98,1176.05 364.23,1176.99 Q363.47,1177.93 362.94,1177.77 Z" fill="#000"/>
<path d="M552.59,1167.80 Q552.06,1167.44 552.59,1165.99 Q553.12,1164.53 554.37,1162.17 Q555.61,1159.81 557.39,1158.36 Q559.17,1156.91 561.31,1156.45 Q563.44,1156.00 565.93,1156.64 Q568.43,1157.27 570.38,1159.09 Q572.34,1160.90 573.23,1163.63 Q574.12,1166.35 573.76,1168.89 Q573.41,1171.43 571.98,1173.98 Q570.56,1176.52 568.07,1179.42 Q565.58,1182.33 562.38,1186.50 L559.17,1190.68 L565.93,1190.68 L572.70,1190.68 L573.76,1189.77 Q574.83,1188.86 575.72,1187.77 L576.61,1186.68 L577.06,1187.05 L577.50,1187.41 L575.81,1191.41 L574.12,1195.40 L563.09,1195.40 L552.06,1195.40 L551.97,1194.67 L551.88,1193.95 L554.46,1191.41 Q557.04,1188.86 560.24,1185.60 Q563.44,1182.33 565.58,1179.42 Q567.71,1176.52 568.43,1173.61 Q569.14,1170.71 568.96,1168.35 Q568.78,1165.99 567.89,1164.17 Q567.00,1162.35 565.22,1161.45 Q563.44,1160.54 561.31,1160.90 Q559.17,1161.27 557.75,1162.35 Q556.33,1163.44 555.26,1165.26 Q554.19,1167.08 553.66,1167.62 Q553.12,1168.16 552.59,1167.80 Z" fill="#000"/>
<path d="M582.87,1177.87 Q582.34,1177.72 583.33,1176.17 Q584.32,1174.62 586.15,1173.07 Q587.98,1171.52 589.81,1170.74 Q591.65,1169.97 593.17,1169.81 Q594.70,1169.66 601.72,1169.66 Q608.74,1169.66 609.04,1170.28 Q609.35,1170.90 608.74,1172.60 Q608.13,1174.31 605.38,1174.39 Q602.63,1174.46 602.33,1176.09 Q602.02,1177.72 601.11,1180.82 Q600.19,1183.92 599.58,1185.47 Q598.97,1187.03 599.05,1187.96 Q599.12,1188.89 599.81,1189.20 Q600.50,1189.51 601.41,1188.89 Q602.33,1188.27 603.09,1187.34 Q603.85,1186.40 604.54,1186.71 Q605.23,1187.03 604.54,1188.89 Q603.85,1190.75 602.79,1192.30 Q601.72,1193.85 599.73,1194.55 Q597.75,1195.24 596.53,1194.86 Q595.31,1194.47 594.77,1193.23 Q594.24,1191.99 594.32,1190.28 Q594.39,1188.58 595.16,1185.63 Q595.92,1182.68 596.83,1179.89 Q597.75,1177.10 598.21,1175.86 Q598.67,1174.62 596.07,1174.62 Q593.48,1174.62 593.17,1176.17 Q592.87,1177.72 591.95,1180.82 Q591.03,1183.92 590.12,1186.71 Q589.20,1189.51 588.14,1191.37 Q587.07,1193.23 585.69,1194.24 Q584.32,1195.24 582.95,1195.01 Q581.57,1194.78 580.96,1193.69 Q580.35,1192.61 580.66,1191.37 Q580.96,1190.13 582.18,1189.35 Q583.40,1188.58 584.32,1187.80 Q585.24,1187.03 585.85,1185.47 Q586.46,1183.92 587.22,1181.13 Q587.98,1178.34 588.75,1176.48 Q589.51,1174.62 588.29,1174.77 Q587.07,1174.93 586.00,1175.55 Q584.93,1176.17 584.17,1177.10 Q583.40,1178.03 582.87,1177.87 Z" fill="#000"/>
<text transform="translate(161.50,640.50) scale(0.9928,0.9802)" style="font-family:'Liberation Sans', sans-serif;stroke:#000;stroke-width:0.55px;font-size:48px">wavevector,</text>
<path d="M436.77,606.76 L429.77,639.58" fill="none" stroke="#000" stroke-width="4.40" stroke-linecap="round"/><path d="M438.77,606.39 L431.77,606.76" fill="none" stroke="#000" stroke-width="2.75" stroke-linecap="round"/><path d="M435.41,627.77 Q440.12,623.35 442.44,621.53 Q444.77,619.71 446.45,619.12 Q448.12,618.53 449.12,619.64 Q450.12,620.75 449.45,622.05 L448.77,623.35" fill="none" stroke="#000" stroke-width="1.84" stroke-linecap="round"/><circle cx="448.48" cy="622.83" r="2.39" fill="#000"/><path d="M434.47,628.56 Q440.47,629.99 441.47,631.48 Q442.47,632.98 442.12,634.80 Q441.77,636.62 442.42,638.28 Q443.06,639.94 444.42,640.30 Q445.77,640.66 447.42,639.36 Q449.06,638.06 449.59,635.68 L450.12,633.31" fill="none" stroke="#000" stroke-width="1.84" stroke-linecap="round"/><path d="M440.47,629.99 Q442.47,632.98 442.12,634.80 Q441.77,636.62 442.42,638.28 Q443.06,639.94 444.42,640.30 L445.77,640.66" fill="none" stroke="#000" stroke-width="3.67" stroke-linecap="round"/>
<path d="M475.00,621.25 Q472.50,619.00 470.75,618.62 Q469.00,618.25 466.88,619.00 Q464.75,619.75 462.88,621.88 Q461.00,624.00 459.75,627.12 Q458.50,630.25 458.62,633.38 Q458.75,636.50 460.00,638.12 Q461.25,639.75 463.12,640.00 Q465.00,640.25 466.75,639.25 Q468.50,638.25 470.00,636.38 L471.50,634.50" fill="none" stroke="#000" stroke-width="1.74" stroke-linecap="round"/><path d="M464.75,619.75 Q461.00,624.00 459.75,627.12 Q458.50,630.25 458.62,633.38 Q458.75,636.50 460.00,638.12 L461.25,639.75" fill="none" stroke="#000" stroke-width="3.02" stroke-linecap="round"/><path d="M476.38,619.88 Q475.00,629.00 474.44,632.75 L473.88,636.50" fill="none" stroke="#000" stroke-width="3.26" stroke-linecap="round"/><path d="M473.88,636.50 Q474.12,639.25 475.06,639.62 Q476.00,640.00 477.25,638.88 Q478.50,637.75 479.31,635.62 L480.12,633.50" fill="none" stroke="#000" stroke-width="1.74" stroke-linecap="round"/>
<line x1="485.50" y1="653.20" x2="505.20" y2="602.20" stroke="#000" stroke-width="2.3" stroke-linecap="butt"/>
<path d="M510.76,616.69 Q510.30,616.37 510.76,615.09 Q511.21,613.82 512.28,611.74 Q513.34,609.66 514.86,608.38 Q516.37,607.10 518.19,606.70 Q520.01,606.30 522.14,606.86 Q524.26,607.42 525.93,609.02 Q527.60,610.62 528.36,613.02 Q529.12,615.41 528.81,617.65 Q528.51,619.89 527.30,622.13 Q526.08,624.37 523.96,626.93 Q521.83,629.49 519.10,633.16 L516.37,636.84 L522.14,636.84 L527.90,636.84 L528.81,636.04 Q529.72,635.24 530.48,634.28 L531.24,633.32 L531.62,633.64 L532.00,633.96 L530.56,637.48 L529.12,641.00 L519.71,641.00 L510.30,641.00 L510.23,640.36 L510.15,639.72 L512.35,637.48 Q514.55,635.24 517.28,632.36 Q520.01,629.49 521.83,626.93 Q523.66,624.37 524.26,621.81 Q524.87,619.25 524.72,617.17 Q524.57,615.09 523.81,613.50 Q523.05,611.90 521.53,611.10 Q520.01,610.30 518.19,610.62 Q516.37,610.94 515.16,611.90 Q513.94,612.86 513.03,614.46 Q512.12,616.05 511.67,616.53 Q511.21,617.01 510.76,616.69 Z" fill="#000"/>
<text transform="translate(779.25,643.00) scale(0.9882,0.9901)" style="font-family:'Liberation Sans', sans-serif;stroke:#000;stroke-width:0.55px;font-size:48px">wavevector,</text>
<path d="M1054.28,610.06 L1047.67,642.88" fill="none" stroke="#000" stroke-width="4.40" stroke-linecap="round"/><path d="M1056.17,609.69 L1049.56,610.06" fill="none" stroke="#000" stroke-width="2.75" stroke-linecap="round"/><path d="M1053.00,631.07 Q1057.44,626.65 1059.64,624.83 Q1061.83,623.01 1063.42,622.42 Q1065.00,621.83 1065.94,622.94 Q1066.89,624.05 1066.25,625.35 L1065.61,626.65" fill="none" stroke="#000" stroke-width="1.84" stroke-linecap="round"/><circle cx="1065.33" cy="626.13" r="2.39" fill="#000"/><path d="M1052.11,631.86 Q1057.78,633.29 1058.72,634.78 Q1059.67,636.28 1059.33,638.10 Q1059.00,639.92 1059.61,641.58 Q1060.22,643.24 1061.50,643.60 Q1062.78,643.96 1064.33,642.66 Q1065.89,641.36 1066.39,638.98 L1066.89,636.61" fill="none" stroke="#000" stroke-width="1.84" stroke-linecap="round"/><path d="M1057.78,633.29 Q1059.67,636.28 1059.33,638.10 Q1059.00,639.92 1059.61,641.58 Q1060.22,643.24 1061.50,643.60 L1062.78,643.96" fill="none" stroke="#000" stroke-width="3.67" stroke-linecap="round"/>
<path d="M1092.73,624.54 Q1090.14,622.26 1088.33,621.88 Q1086.51,621.51 1084.30,622.26 Q1082.10,623.02 1080.15,625.17 Q1078.21,627.32 1076.91,630.48 Q1075.62,633.63 1075.75,636.79 Q1075.88,639.95 1077.17,641.59 Q1078.47,643.24 1080.41,643.49 Q1082.36,643.74 1084.17,642.73 Q1085.99,641.72 1087.55,639.83 L1089.10,637.93" fill="none" stroke="#000" stroke-width="1.76" stroke-linecap="round"/><path d="M1082.10,623.02 Q1078.21,627.32 1076.91,630.48 Q1075.62,633.63 1075.75,636.79 Q1075.88,639.95 1077.17,641.59 L1078.47,643.24" fill="none" stroke="#000" stroke-width="3.06" stroke-linecap="round"/><path d="M1094.16,623.15 Q1092.73,632.37 1092.15,636.16 L1091.57,639.95" fill="none" stroke="#000" stroke-width="3.29" stroke-linecap="round"/><path d="M1091.57,639.95 Q1091.83,642.73 1092.80,643.11 Q1093.77,643.49 1095.07,642.35 Q1096.37,641.22 1097.21,639.07 L1098.05,636.92" fill="none" stroke="#000" stroke-width="1.76" stroke-linecap="round"/>
<line x1="1104.00" y1="655.80" x2="1122.00" y2="606.80" stroke="#000" stroke-width="2.3" stroke-linecap="butt"/>
<path d="M1128.73,620.15 Q1128.29,619.83 1128.73,618.55 Q1129.18,617.26 1130.20,615.17 Q1131.23,613.08 1132.70,611.79 Q1134.17,610.50 1135.93,610.10 Q1137.70,609.70 1139.75,610.26 Q1141.81,610.83 1143.42,612.43 Q1145.04,614.04 1145.77,616.45 Q1146.51,618.87 1146.22,621.12 Q1145.92,623.37 1144.75,625.62 Q1143.57,627.87 1141.51,630.45 Q1139.46,633.02 1136.81,636.72 L1134.17,640.42 L1139.75,640.42 L1145.33,640.42 L1146.22,639.61 Q1147.10,638.81 1147.83,637.85 L1148.57,636.88 L1148.93,637.20 L1149.30,637.52 L1147.90,641.06 L1146.51,644.60 L1137.40,644.60 L1128.29,644.60 L1128.22,643.96 L1128.15,643.31 L1130.28,641.06 Q1132.41,638.81 1135.05,635.92 Q1137.70,633.02 1139.46,630.45 Q1141.22,627.87 1141.81,625.30 Q1142.40,622.73 1142.25,620.64 Q1142.10,618.55 1141.37,616.94 Q1140.63,615.33 1139.16,614.52 Q1137.70,613.72 1135.93,614.04 Q1134.17,614.36 1132.99,615.33 Q1131.82,616.29 1130.94,617.90 Q1130.06,619.51 1129.62,619.99 Q1129.18,620.48 1128.73,620.15 Z" fill="#000"/>
<text transform="translate(196.00,1257.00) scale(0.9851,0.9901)" style="font-family:'Liberation Sans', sans-serif;stroke:#000;stroke-width:0.55px;font-size:48px">wavevector,</text>
<path d="M471.20,1224.39 L464.41,1255.96" fill="none" stroke="#000" stroke-width="4.24" stroke-linecap="round"/><path d="M473.14,1224.04 L466.35,1224.39" fill="none" stroke="#000" stroke-width="2.65" stroke-linecap="round"/><path d="M469.89,1244.61 Q474.46,1240.35 476.71,1238.60 Q478.97,1236.85 480.59,1236.28 Q482.22,1235.72 483.19,1236.78 Q484.16,1237.85 483.50,1239.10 L482.85,1240.35" fill="none" stroke="#000" stroke-width="1.76" stroke-linecap="round"/><circle cx="482.56" cy="1239.85" r="2.29" fill="#000"/><path d="M468.98,1245.36 Q474.80,1246.73 475.77,1248.17 Q476.74,1249.61 476.40,1251.37 Q476.05,1253.12 476.68,1254.71 Q477.31,1256.31 478.62,1256.65 Q479.94,1257.00 481.53,1255.75 Q483.13,1254.50 483.64,1252.21 L484.16,1249.93" fill="none" stroke="#000" stroke-width="1.76" stroke-linecap="round"/><path d="M474.80,1246.73 Q476.74,1249.61 476.40,1251.37 Q476.05,1253.12 476.68,1254.71 Q477.31,1256.31 478.62,1256.65 L479.94,1257.00" fill="none" stroke="#000" stroke-width="3.53" stroke-linecap="round"/>
<path d="M508.20,1238.13 Q505.68,1235.93 503.92,1235.56 Q502.15,1235.19 500.01,1235.93 Q497.87,1236.66 495.98,1238.75 Q494.09,1240.83 492.83,1243.89 Q491.56,1246.96 491.69,1250.02 Q491.82,1253.09 493.08,1254.68 Q494.34,1256.27 496.23,1256.52 Q498.12,1256.76 499.88,1255.78 Q501.65,1254.80 503.16,1252.96 L504.67,1251.13" fill="none" stroke="#000" stroke-width="1.71" stroke-linecap="round"/><path d="M497.87,1236.66 Q494.09,1240.83 492.83,1243.89 Q491.56,1246.96 491.69,1250.02 Q491.82,1253.09 493.08,1254.68 L494.34,1256.27" fill="none" stroke="#000" stroke-width="2.96" stroke-linecap="round"/><path d="M509.59,1236.78 Q508.20,1245.73 507.63,1249.41 L507.07,1253.09" fill="none" stroke="#000" stroke-width="3.19" stroke-linecap="round"/><path d="M507.07,1253.09 Q507.32,1255.78 508.27,1256.15 Q509.21,1256.52 510.47,1255.42 Q511.73,1254.31 512.55,1252.23 L513.37,1250.15" fill="none" stroke="#000" stroke-width="1.71" stroke-linecap="round"/>
<line x1="520.70" y1="1269.50" x2="538.60" y2="1220.50" stroke="#000" stroke-width="2.3" stroke-linecap="butt"/>
<path d="M545.41,1234.67 Q544.98,1234.37 545.41,1233.14 Q545.84,1231.91 546.83,1229.92 Q547.83,1227.92 549.25,1226.69 Q550.67,1225.47 552.37,1225.08 Q554.08,1224.70 556.07,1225.24 Q558.05,1225.77 559.62,1227.31 Q561.18,1228.84 561.89,1231.15 Q562.60,1233.45 562.32,1235.60 Q562.03,1237.74 560.90,1239.89 Q559.76,1242.04 557.77,1244.50 Q555.78,1246.95 553.22,1250.48 L550.67,1254.01 L556.07,1254.01 L561.46,1254.01 L562.32,1253.24 Q563.17,1252.48 563.88,1251.55 L564.59,1250.63 L564.94,1250.94 L565.30,1251.25 L563.95,1254.62 L562.60,1258.00 L553.79,1258.00 L544.98,1258.00 L544.91,1257.39 L544.84,1256.77 L546.90,1254.62 Q548.96,1252.48 551.52,1249.71 Q554.08,1246.95 555.78,1244.50 Q557.49,1242.04 558.05,1239.59 Q558.62,1237.13 558.48,1235.14 Q558.34,1233.14 557.63,1231.61 Q556.92,1230.07 555.50,1229.30 Q554.08,1228.54 552.37,1228.84 Q550.67,1229.15 549.53,1230.07 Q548.39,1230.99 547.54,1232.53 Q546.69,1234.06 546.26,1234.52 Q545.84,1234.98 545.41,1234.67 Z" fill="#000"/>
<path d="M977.4,1222.2 Q980.8,1222.4 982.9,1225.6 L985.5,1231.1" fill="none" stroke="#000" stroke-width="2.4" stroke-linecap="round"/>
<path d="M983.6,1227.2 L985.5,1231.1 L989.7,1241.7 L993.9,1252.3 L995.4,1256.9" fill="none" stroke="#000" stroke-width="4.2" stroke-linecap="round"/>
<path d="M987.2,1240.9 Q983,1244.6 981.2,1246.8 Q978.8,1249.6 977,1251.5 L972.9,1256.3" fill="none" stroke="#000" stroke-width="2.7" stroke-linecap="round"/>
<circle cx="972.6" cy="1256.8" r="2.0" fill="#000"/>
<text transform="translate(61.88,471.02) rotate(-90) scale(0.9604,0.9818)" style="font-family:'Liberation Sans', sans-serif;stroke:#000;stroke-width:0.55px;font-size:48px">energy,</text>
<path d="M40.00,294.67 Q39.67,299.67 40.67,302.17 Q41.67,304.67 43.67,306.50 Q45.67,308.33 48.17,309.16 Q50.67,310.00 53.17,309.84 Q55.67,309.67 57.84,308.17 Q60.00,306.67 61.00,304.34 Q62.00,302.00 61.84,300.00 Q61.67,298.00 60.67,296.66 L59.67,295.33" fill="none" stroke="#000" stroke-width="1.5" stroke-linecap="round"/>
<path d="M41.67,304.67 Q45.67,308.33 48.17,309.16 Q50.67,310.00 53.17,309.84 Q55.67,309.67 57.84,308.17 L60.00,306.67" fill="none" stroke="#000" stroke-width="3.0" stroke-linecap="round"/>
<line x1="49.00" y1="297.00" x2="49.00" y2="307.50" stroke="#000" stroke-width="1.6" stroke-linecap="butt"/>
<line x1="57.10" y1="263.00" x2="57.10" y2="288.80" stroke="#000" stroke-width="2.3" stroke-linecap="butt"/>
<line x1="70.30" y1="263.00" x2="70.30" y2="288.80" stroke="#000" stroke-width="2.3" stroke-linecap="butt"/>
<line x1="43.90" y1="275.60" x2="70.30" y2="275.60" stroke="#000" stroke-width="2.3" stroke-linecap="butt"/>
<line x1="22.50" y1="234.10" x2="74.70" y2="252.30" stroke="#000" stroke-width="2.4" stroke-linecap="butt"/>
<path d="M37.15,217.30 L59.77,223.73 C65.16,224.68 69.11,223.92 68.96,221.27" fill="none" stroke="#000" stroke-width="4.02" stroke-linecap="round"/><path d="M68.96,221.27 C68.75,218.06 65.52,214.28 61.93,212.39" fill="none" stroke="#000" stroke-width="2.69" stroke-linecap="round"/><path d="M47.31,229.02 L47.31,211.18" fill="none" stroke="#000" stroke-width="2.23"/>
<line x1="54.00" y1="192.40" x2="82.20" y2="192.40" stroke="#000" stroke-width="2.3" stroke-linecap="butt"/>
<line x1="68.10" y1="178.30" x2="68.10" y2="206.50" stroke="#000" stroke-width="2.3" stroke-linecap="butt"/>
<path d="M612.90,458.70 Q618.60,457.20 622.80,458.55 Q627.00,459.90 630.30,462.15 Q633.60,464.40 634.65,466.50 Q635.70,468.60 634.80,470.70 Q633.90,472.80 631.65,473.70 Q629.40,474.60 626.70,474.15 Q624.00,473.70 621.30,472.65 Q618.60,471.60 616.50,470.85 Q614.40,470.10 613.20,470.85 Q612.00,471.60 611.85,473.55 Q611.70,475.50 613.05,477.00 Q614.40,478.50 616.80,479.40 L619.20,480.30" fill="none" stroke="#000" stroke-width="2.00" stroke-linecap="round"/><path d="M635.70,468.60 Q633.90,472.80 631.65,473.70 Q629.40,474.60 626.70,474.15 Q624.00,473.70 621.30,472.65 Q618.60,471.60 616.50,470.85 Q614.40,470.10 613.20,470.85 L612.00,471.60" fill="none" stroke="#000" stroke-width="4.00" stroke-linecap="round"/><circle cx="613.20" cy="458.90" r="2.40" fill="#000"/>
<path d="M626.25,444.15 L651.47,450.10" fill="none" stroke="#000" stroke-width="3.38" stroke-linecap="round"/><path d="M625.97,442.45 L626.25,448.40" fill="none" stroke="#000" stroke-width="2.12" stroke-linecap="round"/><path d="M642.40,445.30 Q639.00,441.30 637.60,439.33 Q636.20,437.35 635.75,435.93 Q635.30,434.50 636.15,433.65 Q637.00,432.80 638.00,433.38 L639.00,433.95" fill="none" stroke="#000" stroke-width="1.41" stroke-linecap="round"/><circle cx="638.60" cy="434.20" r="1.83" fill="#000"/><path d="M643.00,446.10 Q644.10,441.00 645.25,440.15 Q646.40,439.30 647.80,439.60 Q649.20,439.90 650.48,439.35 Q651.75,438.80 652.02,437.65 Q652.30,436.50 651.30,435.10 Q650.30,433.70 648.47,433.25 L646.65,432.80" fill="none" stroke="#000" stroke-width="1.41" stroke-linecap="round"/><path d="M644.10,441.00 Q646.40,439.30 647.80,439.60 Q649.20,439.90 650.48,439.35 Q651.75,438.80 652.02,437.65 L652.30,436.50" fill="none" stroke="#000" stroke-width="2.82" stroke-linecap="round"/>
<line x1="587.10" y1="400.20" x2="616.70" y2="400.20" stroke="#000" stroke-width="2.3" stroke-linecap="butt"/>
<line x1="601.90" y1="385.20" x2="601.90" y2="415.20" stroke="#000" stroke-width="2.3" stroke-linecap="butt"/>
<line x1="587.10" y1="434.90" x2="616.70" y2="434.90" stroke="#000" stroke-width="2.3" stroke-linecap="butt"/>
<line x1="601.90" y1="419.90" x2="601.90" y2="449.90" stroke="#000" stroke-width="2.3" stroke-linecap="butt"/>
<line x1="593.20" y1="356.20" x2="649.80" y2="376.00" stroke="#000" stroke-width="2.4" stroke-linecap="butt"/>
<path d="M593.20,331.40 Q621.50,360.20 649.80,331.40 Q621.50,354.20 593.20,331.40 Z" fill="#000" stroke="#000" stroke-width="0.6" stroke-linejoin="round"/>
<path d="M602.95,316.84 L625.50,323.30 C630.87,324.25 634.81,323.49 634.67,320.83" fill="none" stroke="#000" stroke-width="4.01" stroke-linecap="round"/><path d="M634.67,320.83 C634.45,317.60 631.23,313.80 627.65,311.90" fill="none" stroke="#000" stroke-width="2.69" stroke-linecap="round"/><path d="M613.08,328.62 L613.08,310.68" fill="none" stroke="#000" stroke-width="2.22"/>
<line x1="618.70" y1="292.00" x2="647.90" y2="292.00" stroke="#000" stroke-width="2.3" stroke-linecap="butt"/>
<line x1="633.30" y1="277.90" x2="633.30" y2="306.10" stroke="#000" stroke-width="2.3" stroke-linecap="butt"/>
<path d="M614.17,248.56 Q611.62,251.42 611.19,253.42 Q610.77,255.41 611.62,257.84 Q612.47,260.27 614.88,262.41 Q617.30,264.55 620.85,265.98 Q624.39,267.40 627.94,267.26 Q631.49,267.12 633.34,265.69 Q635.18,264.26 635.46,262.12 Q635.75,259.98 634.61,257.98 Q633.48,255.99 631.35,254.27 L629.22,252.56" fill="none" stroke="#000" stroke-width="1.98" stroke-linecap="round"/><path d="M612.47,260.27 Q617.30,264.55 620.85,265.98 Q624.39,267.40 627.94,267.26 Q631.49,267.12 633.34,265.69 L635.18,264.26" fill="none" stroke="#000" stroke-width="3.43" stroke-linecap="round"/><path d="M612.61,246.99 Q622.97,248.56 627.23,249.21 L631.49,249.85" fill="none" stroke="#000" stroke-width="3.70" stroke-linecap="round"/><path d="M631.49,249.85 Q634.61,249.56 635.04,248.49 Q635.46,247.42 634.19,246.00 Q632.91,244.57 630.50,243.64 L628.08,242.71" fill="none" stroke="#000" stroke-width="1.98" stroke-linecap="round"/>
<line x1="593.20" y1="216.60" x2="649.80" y2="237.40" stroke="#000" stroke-width="2.4" stroke-linecap="butt"/>
<path d="M609.49,210.09 Q609.14,210.58 607.71,210.09 Q606.28,209.60 603.96,208.47 Q601.65,207.33 600.22,205.71 Q598.79,204.09 598.35,202.15 Q597.90,200.20 598.52,197.93 Q599.15,195.67 600.93,193.88 Q602.72,192.10 605.39,191.29 Q608.07,190.48 610.56,190.80 Q613.06,191.13 615.56,192.42 Q618.05,193.72 620.91,195.99 Q623.76,198.26 627.86,201.18 L631.96,204.09 L631.96,197.93 L631.96,191.78 L631.07,190.80 Q630.18,189.83 629.11,189.02 L628.04,188.21 L628.40,187.81 L628.75,187.40 L632.68,188.94 L636.60,190.48 L636.60,200.53 L636.60,210.58 L635.89,210.66 L635.17,210.74 L632.68,208.39 Q630.18,206.04 626.97,203.12 Q623.76,200.20 620.91,198.26 Q618.05,196.31 615.20,195.67 Q612.35,195.02 610.03,195.18 Q607.71,195.34 605.93,196.15 Q604.14,196.96 603.25,198.58 Q602.36,200.20 602.72,202.15 Q603.07,204.09 604.14,205.39 Q605.21,206.69 607.00,207.66 Q608.78,208.63 609.31,209.12 Q609.85,209.60 609.49,210.09 Z" fill="#000"/>
<path d="M593.20,181.10 Q621.50,155.90 649.80,181.10 Q621.50,161.90 593.20,181.10 Z" fill="#000" stroke="#000" stroke-width="0.6" stroke-linejoin="round"/>
<path d="M29.77,1082.86 Q35.62,1081.29 39.93,1082.70 Q44.24,1084.11 47.63,1086.47 Q51.02,1088.83 52.10,1091.02 Q53.17,1093.22 52.25,1095.42 Q51.33,1097.62 49.02,1098.56 Q46.71,1099.51 43.93,1099.04 Q41.16,1098.56 38.39,1097.46 Q35.62,1096.37 33.46,1095.58 Q31.31,1094.79 30.08,1095.58 Q28.85,1096.37 28.69,1098.41 Q28.54,1100.45 29.92,1102.02 Q31.31,1103.59 33.77,1104.53 L36.24,1105.48" fill="none" stroke="#000" stroke-width="2.05" stroke-linecap="round"/><path d="M53.17,1093.22 Q51.33,1097.62 49.02,1098.56 Q46.71,1099.51 43.93,1099.04 Q41.16,1098.56 38.39,1097.46 Q35.62,1096.37 33.46,1095.58 Q31.31,1094.79 30.08,1095.58 L28.85,1096.37" fill="none" stroke="#000" stroke-width="4.11" stroke-linecap="round"/><circle cx="30.08" cy="1083.06" r="2.46" fill="#000"/>
<path d="M44.29,1068.12 L70.32,1074.25" fill="none" stroke="#000" stroke-width="3.49" stroke-linecap="round"/><path d="M44.00,1066.37 L44.29,1072.50" fill="none" stroke="#000" stroke-width="2.18" stroke-linecap="round"/><path d="M60.96,1069.31 Q57.45,1065.19 56.01,1063.15 Q54.56,1061.12 54.10,1059.65 Q53.63,1058.18 54.51,1057.31 Q55.39,1056.43 56.42,1057.02 L57.45,1057.62" fill="none" stroke="#000" stroke-width="1.46" stroke-linecap="round"/><circle cx="57.04" cy="1057.87" r="1.89" fill="#000"/><path d="M61.58,1070.13 Q62.71,1064.88 63.90,1064.00 Q65.09,1063.13 66.53,1063.44 Q67.98,1063.75 69.29,1063.18 Q70.61,1062.61 70.89,1061.43 Q71.17,1060.24 70.14,1058.80 Q69.11,1057.36 67.23,1056.89 L65.34,1056.43" fill="none" stroke="#000" stroke-width="1.46" stroke-linecap="round"/><path d="M62.71,1064.88 Q65.09,1063.13 66.53,1063.44 Q67.98,1063.75 69.29,1063.18 Q70.61,1062.61 70.89,1061.43 L71.17,1060.24" fill="none" stroke="#000" stroke-width="2.91" stroke-linecap="round"/>
<line x1="2.90" y1="1058.70" x2="32.90" y2="1058.70" stroke="#000" stroke-width="2.3" stroke-linecap="butt"/>
<line x1="17.90" y1="1044.20" x2="17.90" y2="1073.20" stroke="#000" stroke-width="2.3" stroke-linecap="butt"/>
<line x1="17.90" y1="1008.40" x2="17.90" y2="1036.00" stroke="#000" stroke-width="2.3" stroke-linecap="butt"/>
<line x1="9.40" y1="974.70" x2="67.90" y2="996.40" stroke="#000" stroke-width="2.4" stroke-linecap="butt"/>
<path d="M9.40,950.60 Q38.65,980.00 67.90,950.60 Q38.65,974.00 9.40,950.60 Z" fill="#000" stroke="#000" stroke-width="0.6" stroke-linejoin="round"/>
<path d="M19.15,935.24 L41.70,941.70 C47.07,942.65 51.01,941.89 50.87,939.23" fill="none" stroke="#000" stroke-width="4.01" stroke-linecap="round"/><path d="M50.87,939.23 C50.65,936.00 47.43,932.20 43.85,930.30" fill="none" stroke="#000" stroke-width="2.68" stroke-linecap="round"/><path d="M29.28,947.02 L29.28,929.08" fill="none" stroke="#000" stroke-width="2.22"/>
<line x1="36.80" y1="907.70" x2="67.00" y2="907.70" stroke="#000" stroke-width="2.3" stroke-linecap="butt"/>
<line x1="51.90" y1="893.60" x2="51.90" y2="921.80" stroke="#000" stroke-width="2.3" stroke-linecap="butt"/>
<path d="M32.27,864.81 Q29.72,867.47 29.29,869.33 Q28.87,871.18 29.72,873.44 Q30.57,875.70 32.98,877.69 Q35.40,879.68 38.95,881.01 Q42.49,882.34 46.04,882.21 Q49.59,882.08 51.44,880.75 Q53.28,879.42 53.56,877.43 Q53.85,875.43 52.71,873.58 Q51.58,871.72 49.45,870.12 L47.32,868.53" fill="none" stroke="#000" stroke-width="1.98" stroke-linecap="round"/><path d="M30.57,875.70 Q35.40,879.68 38.95,881.01 Q42.49,882.34 46.04,882.21 Q49.59,882.08 51.44,880.75 L53.28,879.42" fill="none" stroke="#000" stroke-width="3.43" stroke-linecap="round"/><path d="M30.71,863.35 Q41.07,864.81 45.33,865.41 L49.59,866.00" fill="none" stroke="#000" stroke-width="3.70" stroke-linecap="round"/><path d="M49.59,866.00 Q52.71,865.74 53.14,864.74 Q53.56,863.75 52.29,862.42 Q51.01,861.09 48.60,860.23 L46.18,859.36" fill="none" stroke="#000" stroke-width="1.98" stroke-linecap="round"/>
<line x1="9.40" y1="830.40" x2="67.90" y2="853.00" stroke="#000" stroke-width="2.4" stroke-linecap="butt"/>
<path d="M26.06,823.02 Q25.70,823.49 24.24,823.02 Q22.78,822.55 20.40,821.45 Q18.03,820.36 16.57,818.79 Q15.11,817.22 14.66,815.35 Q14.20,813.47 14.84,811.28 Q15.48,809.08 17.30,807.36 Q19.13,805.64 21.86,804.86 Q24.60,804.07 27.16,804.39 Q29.71,804.70 32.27,805.95 Q34.82,807.21 37.74,809.40 Q40.66,811.59 44.86,814.41 L49.06,817.22 L49.06,811.28 L49.06,805.33 L48.14,804.39 Q47.23,803.45 46.14,802.67 L45.04,801.88 L45.41,801.49 L45.77,801.10 L49.79,802.59 L53.80,804.07 L53.80,813.78 L53.80,823.49 L53.07,823.57 L52.34,823.64 L49.79,821.37 Q47.23,819.10 43.95,816.29 Q40.66,813.47 37.74,811.59 Q34.82,809.71 31.90,809.08 Q28.98,808.46 26.61,808.61 Q24.24,808.77 22.41,809.55 Q20.59,810.34 19.67,811.90 Q18.76,813.47 19.13,815.35 Q19.49,817.22 20.59,818.48 Q21.68,819.73 23.51,820.67 Q25.33,821.61 25.88,822.08 Q26.43,822.55 26.06,823.02 Z" fill="#000"/>
<path d="M9.40,793.00 Q38.65,765.80 67.90,793.00 Q38.65,771.80 9.40,793.00 Z" fill="#000" stroke="#000" stroke-width="0.6" stroke-linejoin="round"/>
<text transform="translate(681.91,1061.65) rotate(-90) scale(0.8990,0.9736)" style="font-family:'Liberation Serif', serif;font-style:italic;font-size:56px">δ</text>
<line x1="680.40" y1="994.20" x2="680.40" y2="1033.60" stroke="#000" stroke-width="3.2" stroke-linecap="butt"/>
<line x1="644.50" y1="1013.90" x2="681.00" y2="995.80" stroke="#000" stroke-width="3.6" stroke-linecap="round"/>
<line x1="644.50" y1="1013.90" x2="681.00" y2="1032.80" stroke="#000" stroke-width="1.6" stroke-linecap="round"/>
<line x1="642.30" y1="968.10" x2="695.10" y2="988.20" stroke="#000" stroke-width="2.4" stroke-linecap="butt"/>
<line x1="680.40" y1="922.00" x2="680.40" y2="961.40" stroke="#000" stroke-width="3.2" stroke-linecap="butt"/>
<line x1="644.50" y1="941.70" x2="681.00" y2="923.60" stroke="#000" stroke-width="3.6" stroke-linecap="round"/>
<line x1="644.50" y1="941.70" x2="681.00" y2="960.60" stroke="#000" stroke-width="1.6" stroke-linecap="round"/>
<text transform="translate(690.52,918.92) rotate(-90) scale(1.0118,0.9630)" style="font-family:'Liberation Serif', serif;font-size:40px">0</text>
<text transform="translate(686.41,888.28) rotate(-90) scale(0.5360,1.1459)" style="font-family:'Liberation Serif', serif;font-size:56px">[</text>
<text transform="translate(684.17,879.89) rotate(-90) scale(0.8468,1.1053)" style="font-family:'Liberation Serif', serif;font-size:56px">%</text>
<text transform="translate(686.41,833.04) rotate(-90) scale(0.5200,1.1459)" style="font-family:'Liberation Serif', serif;font-size:56px">]</text>
</svg></body></html>
